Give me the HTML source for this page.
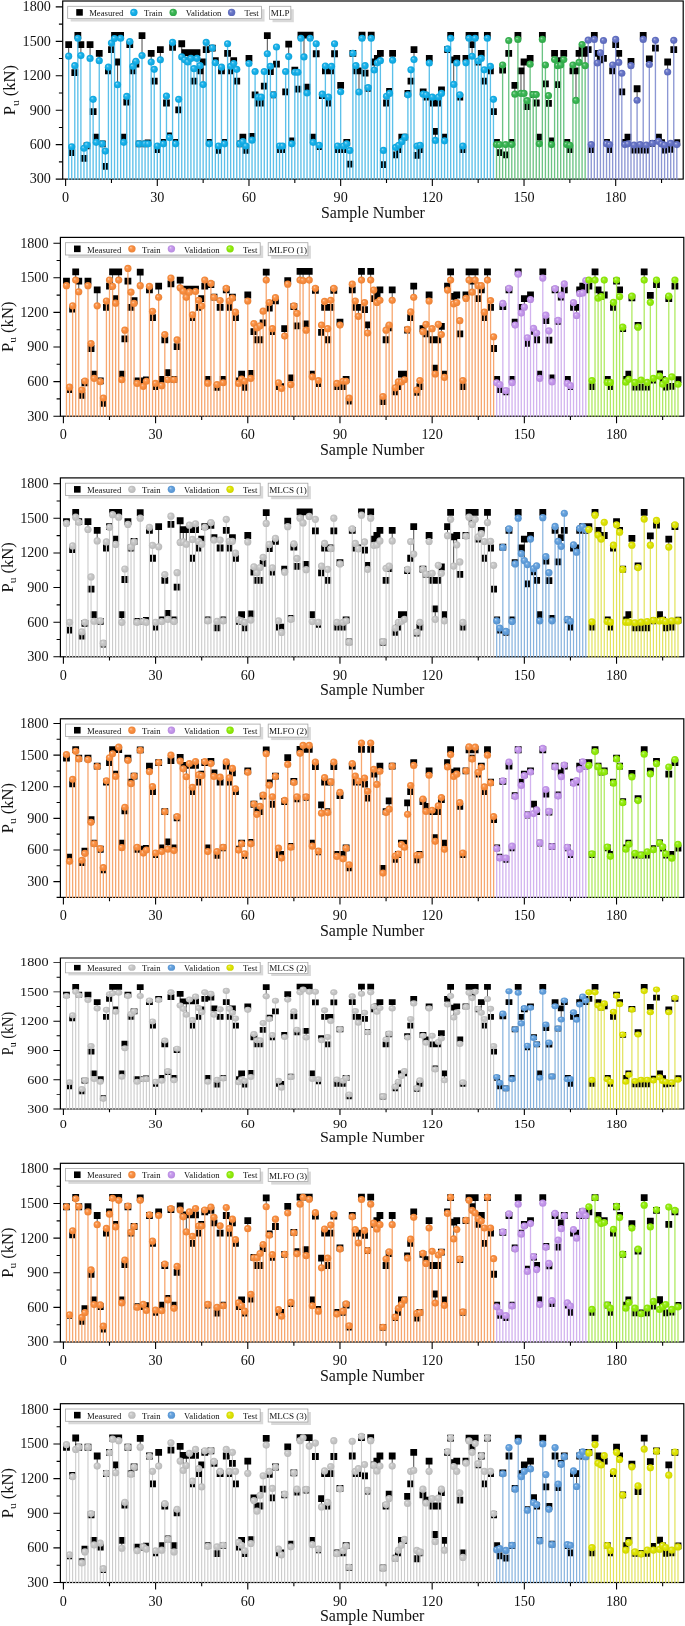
<!DOCTYPE html>
<html><head><meta charset="utf-8"><style>
html,body{margin:0;padding:0;background:#fff;}
svg{display:block;will-change:transform;}
text{font-family:"Liberation Serif",serif;fill:#111;}
</style></head><body>
<svg width="685" height="1626" viewBox="0 0 685 1626">
<defs><radialGradient id="gMLPtr" cx="0.5" cy="0.5" r="0.5" fx="0.34" fy="0.32"><stop offset="0" stop-color="#a5e0f6"/><stop offset="0.32" stop-color="#2eb7ea"/><stop offset="0.6" stop-color="#12ade7"/><stop offset="1" stop-color="#11a3d9"/></radialGradient><radialGradient id="gMLPva" cx="0.5" cy="0.5" r="0.5" fx="0.34" fy="0.32"><stop offset="0" stop-color="#b2e2bc"/><stop offset="0.32" stop-color="#4dbb64"/><stop offset="0.6" stop-color="#35b24f"/><stop offset="1" stop-color="#32a74a"/></radialGradient><radialGradient id="gMLPte" cx="0.5" cy="0.5" r="0.5" fx="0.34" fy="0.32"><stop offset="0" stop-color="#c3c9e9"/><stop offset="0.32" stop-color="#7581cb"/><stop offset="0.6" stop-color="#6270c4"/><stop offset="1" stop-color="#5c69b8"/></radialGradient><radialGradient id="gMLFOtr" cx="0.5" cy="0.5" r="0.5" fx="0.34" fy="0.32"><stop offset="0" stop-color="#fcd3b5"/><stop offset="0.32" stop-color="#f99953"/><stop offset="0.6" stop-color="#f88b3c"/><stop offset="1" stop-color="#e98338"/></radialGradient><radialGradient id="gMLFOva" cx="0.5" cy="0.5" r="0.5" fx="0.34" fy="0.32"><stop offset="0" stop-color="#e8d6f7"/><stop offset="0.32" stop-color="#c9a1ed"/><stop offset="0.6" stop-color="#c294ea"/><stop offset="1" stop-color="#b68bdc"/></radialGradient><radialGradient id="gMLFOte" cx="0.5" cy="0.5" r="0.5" fx="0.34" fy="0.32"><stop offset="0" stop-color="#d4f7a1"/><stop offset="0.32" stop-color="#9ced26"/><stop offset="0.6" stop-color="#8eea08"/><stop offset="1" stop-color="#85dc08"/></radialGradient><radialGradient id="gMLCStr" cx="0.5" cy="0.5" r="0.5" fx="0.34" fy="0.32"><stop offset="0" stop-color="#e9e9e9"/><stop offset="0.32" stop-color="#cbcbcb"/><stop offset="0.6" stop-color="#c4c4c4"/><stop offset="1" stop-color="#b8b8b8"/></radialGradient><radialGradient id="gMLCSva" cx="0.5" cy="0.5" r="0.5" fx="0.34" fy="0.32"><stop offset="0" stop-color="#c2daf1"/><stop offset="0.32" stop-color="#72a9df"/><stop offset="0.6" stop-color="#5f9ddb"/><stop offset="1" stop-color="#5994ce"/></radialGradient><radialGradient id="gMLCSte" cx="0.5" cy="0.5" r="0.5" fx="0.34" fy="0.32"><stop offset="0" stop-color="#f2f49e"/><stop offset="0.32" stop-color="#e0e51f"/><stop offset="0.6" stop-color="#dce200"/><stop offset="1" stop-color="#cfd400"/></radialGradient></defs>
<rect width="685" height="1626" fill="#fff"/>
<g transform="translate(62.7,1) scale(0.99535,0.99609)">
<rect x="0" y="0" width="623.4" height="178.8" fill="none" stroke="#000" stroke-width="1.2"/>
<path d="M6 55.37V43.73M15.21 37.39V34.51M18.29 54.79V43.73M27.5 57.67V43.73M33.64 141.92V136.73M36.71 59.86V52.48M52.06 37.62V34.51M55.13 84.06V61.24M58.2 37.39V34.51M61.27 141.92V136.73M79.69 54.79V34.85M85.83 143.42V142.5M88.9 61.24V52.48M98.11 59.05V48.8M101.18 143.42V141.92M107.32 137.08V135.35M113.46 143.42V141.92M119.6 56.17V42.92M122.67 59.05V51.79M125.74 61.24V51.79M128.82 57.67V51.79M134.96 57.67V51.79M141.1 83.95V61.24M147.24 143.42V141.92M153.38 62.05V59.86M162.59 143.42V141.92M171.8 62.74V59.86M181.01 141.23V136.73M187.15 62.74V57.67M190.22 139.73V136.04M205.57 52.95V34.85M227.06 55.83V43.26M230.13 143.42V140.42M233.2 71.5V69.31M239.35 37.39V34.16M242.42 56.17V34.16M245.49 92.36V86.6M248.56 37.39V34.16M251.63 141.92V136.73M279.26 91.09V84.76M285.4 143.42V141.92M297.68 91.32V70.12M300.75 37.39V34.16M309.96 37.39V34.16M313.03 69.31V61.24M316.1 62.05V57.67M319.17 59.86V52.48M328.38 92.82V90.63M331.45 59.4V52.48M340.66 141.23V136.73M346.81 94.21V92.82M352.95 58.82V48.8M362.16 93.51V91.32M368.3 62.28V57.67M374.44 139.96V130.86M380.58 92.82V89.13M383.65 140.42V136.73M389.79 37.39V34.62M392.86 83.72V59.05M395.93 62.28V57.67M405.14 62.05V57.67M408.21 37.39V34.62M411.28 55.48V43.73M414.35 37.39V34.62M420.49 57.67V52.48M426.63 37.39V34.62M435.84 144.11V141.92M451.19 144.11V141.92M454.27 93.51V84.76M457.34 38.54V34.62M460.41 92.82V70.12M463.48 92.82V61.24M469.62 63.43V57.67M478.83 143.42V136.73M481.9 38.54V34.62M491.11 144.11V140.42M494.18 58.82V52.48M500.32 64.24V59.86M503.39 58.82V52.48M506.46 144.11V141.92M515.67 99.85V70.12M518.74 61.7V52.48M524.88 64.93V52.48M534.09 38.54V34.62M537.16 62.28V52.48M546.37 143.42V141.92M558.65 61.7V52.48M564.8 144.11V141.92M567.87 143.42V136.73M570.94 64.93V60.55M577.08 99.62V88.1M583.22 38.54V34.62M589.36 63.78V58.13M598.57 141V136.62M601.64 143.53V142.27M607.78 71.27V61.24M616.99 144.11V142.27" stroke="#333" stroke-width="0.9" fill="none"/>
<path d="M2.6 40.33h6.8v6.8h-6.8zM5.67 148.78h6.8v6.8h-6.8zM8.74 68.45h6.8v6.8h-6.8zM11.81 31.11h6.8v6.8h-6.8zM14.89 40.33h6.8v6.8h-6.8zM17.96 154.65h6.8v6.8h-6.8zM21.03 141.98h6.8v6.8h-6.8zM24.1 40.33h6.8v6.8h-6.8zM27.17 107.75h6.8v6.8h-6.8zM30.24 133.33h6.8v6.8h-6.8zM33.31 49.08h6.8v6.8h-6.8zM36.38 140.02h6.8v6.8h-6.8zM39.45 162.61h6.8v6.8h-6.8zM42.52 66.72h6.8v6.8h-6.8zM45.59 45.4h6.8v6.8h-6.8zM48.66 31.11h6.8v6.8h-6.8zM51.73 57.84h6.8v6.8h-6.8zM54.8 31.11h6.8v6.8h-6.8zM57.87 133.33h6.8v6.8h-6.8zM60.94 98.18h6.8v6.8h-6.8zM64.01 40.33h6.8v6.8h-6.8zM67.08 66.72h6.8v6.8h-6.8zM70.15 60.03h6.8v6.8h-6.8zM73.22 140.02h6.8v6.8h-6.8zM76.29 31.45h6.8v6.8h-6.8zM79.36 140.02h6.8v6.8h-6.8zM82.43 139.1h6.8v6.8h-6.8zM85.5 49.08h6.8v6.8h-6.8zM88.57 76.98h6.8v6.8h-6.8zM91.64 145.78h6.8v6.8h-6.8zM94.71 45.4h6.8v6.8h-6.8zM97.78 138.52h6.8v6.8h-6.8zM100.85 98.99h6.8v6.8h-6.8zM103.92 131.95h6.8v6.8h-6.8zM106.99 43.21h6.8v6.8h-6.8zM110.06 138.52h6.8v6.8h-6.8zM113.13 105.79h6.8v6.8h-6.8zM116.2 39.52h6.8v6.8h-6.8zM119.27 48.39h6.8v6.8h-6.8zM122.34 48.39h6.8v6.8h-6.8zM125.42 48.39h6.8v6.8h-6.8zM128.49 76.98h6.8v6.8h-6.8zM131.56 48.39h6.8v6.8h-6.8zM134.63 66.72h6.8v6.8h-6.8zM137.7 57.84h6.8v6.8h-6.8zM140.77 45.4h6.8v6.8h-6.8zM143.84 138.52h6.8v6.8h-6.8zM146.91 44.01h6.8v6.8h-6.8zM149.98 56.46h6.8v6.8h-6.8zM153.05 146.59h6.8v6.8h-6.8zM156.12 66.72h6.8v6.8h-6.8zM159.19 138.52h6.8v6.8h-6.8zM162.26 49.08h6.8v6.8h-6.8zM165.33 66.72h6.8v6.8h-6.8zM168.4 56.46h6.8v6.8h-6.8zM171.47 76.98h6.8v6.8h-6.8zM174.54 140.02h6.8v6.8h-6.8zM177.61 133.33h6.8v6.8h-6.8zM180.68 146.59h6.8v6.8h-6.8zM183.75 54.27h6.8v6.8h-6.8zM186.82 132.64h6.8v6.8h-6.8zM189.89 90.81h6.8v6.8h-6.8zM192.96 98.99h6.8v6.8h-6.8zM196.03 98.99h6.8v6.8h-6.8zM199.1 82.05h6.8v6.8h-6.8zM202.17 31.45h6.8v6.8h-6.8zM205.24 67.41h6.8v6.8h-6.8zM208.31 90.81h6.8v6.8h-6.8zM211.38 60.03h6.8v6.8h-6.8zM214.45 145.78h6.8v6.8h-6.8zM217.52 145.78h6.8v6.8h-6.8zM220.59 87.92h6.8v6.8h-6.8zM223.66 39.86h6.8v6.8h-6.8zM226.73 137.02h6.8v6.8h-6.8zM229.8 65.91h6.8v6.8h-6.8zM232.88 85.04h6.8v6.8h-6.8zM235.95 30.76h6.8v6.8h-6.8zM239.02 30.76h6.8v6.8h-6.8zM242.09 83.2h6.8v6.8h-6.8zM245.16 30.76h6.8v6.8h-6.8zM248.23 133.33h6.8v6.8h-6.8zM251.3 49.55h6.8v6.8h-6.8zM254.37 142.9h6.8v6.8h-6.8zM257.44 91.61h6.8v6.8h-6.8zM260.51 66.72h6.8v6.8h-6.8zM263.58 98.99h6.8v6.8h-6.8zM266.65 66.72h6.8v6.8h-6.8zM269.72 49.55h6.8v6.8h-6.8zM272.79 145.78h6.8v6.8h-6.8zM275.86 81.36h6.8v6.8h-6.8zM278.93 145.78h6.8v6.8h-6.8zM282 138.52h6.8v6.8h-6.8zM285.07 160.42h6.8v6.8h-6.8zM288.14 49.08h6.8v6.8h-6.8zM291.21 66.72h6.8v6.8h-6.8zM294.28 66.72h6.8v6.8h-6.8zM297.35 30.76h6.8v6.8h-6.8zM300.42 68.91h6.8v6.8h-6.8zM303.49 84.24h6.8v6.8h-6.8zM306.56 30.76h6.8v6.8h-6.8zM309.63 57.84h6.8v6.8h-6.8zM312.7 54.27h6.8v6.8h-6.8zM315.77 49.08h6.8v6.8h-6.8zM318.84 160.88h6.8v6.8h-6.8zM321.91 98.99h6.8v6.8h-6.8zM324.98 87.23h6.8v6.8h-6.8zM328.05 49.08h6.8v6.8h-6.8zM331.12 150.97h6.8v6.8h-6.8zM334.19 145.78h6.8v6.8h-6.8zM337.26 133.33h6.8v6.8h-6.8zM340.34 133.33h6.8v6.8h-6.8zM343.41 89.42h6.8v6.8h-6.8zM346.48 76.98h6.8v6.8h-6.8zM349.55 45.4h6.8v6.8h-6.8zM352.62 151.66h6.8v6.8h-6.8zM355.69 145.78h6.8v6.8h-6.8zM358.76 87.92h6.8v6.8h-6.8zM361.83 93.11h6.8v6.8h-6.8zM364.9 54.27h6.8v6.8h-6.8zM367.97 98.99h6.8v6.8h-6.8zM371.04 127.46h6.8v6.8h-6.8zM374.11 98.99h6.8v6.8h-6.8zM377.18 85.73h6.8v6.8h-6.8zM380.25 133.33h6.8v6.8h-6.8zM383.32 45.4h6.8v6.8h-6.8zM386.39 31.22h6.8v6.8h-6.8zM389.46 55.65h6.8v6.8h-6.8zM392.53 54.27h6.8v6.8h-6.8zM395.6 93.11h6.8v6.8h-6.8zM398.67 145.78h6.8v6.8h-6.8zM401.74 54.27h6.8v6.8h-6.8zM404.81 31.22h6.8v6.8h-6.8zM407.88 40.33h6.8v6.8h-6.8zM410.95 31.22h6.8v6.8h-6.8zM414.02 57.84h6.8v6.8h-6.8zM417.09 49.08h6.8v6.8h-6.8zM420.16 76.98h6.8v6.8h-6.8zM423.23 31.22h6.8v6.8h-6.8zM426.3 66.72h6.8v6.8h-6.8zM429.37 107.75h6.8v6.8h-6.8zM432.44 138.52h6.8v6.8h-6.8zM435.51 148.78h6.8v6.8h-6.8zM438.58 65.91h6.8v6.8h-6.8zM441.65 150.97h6.8v6.8h-6.8zM444.72 49.08h6.8v6.8h-6.8zM447.79 138.52h6.8v6.8h-6.8zM450.87 81.36h6.8v6.8h-6.8zM453.94 31.22h6.8v6.8h-6.8zM457.01 66.72h6.8v6.8h-6.8zM460.08 57.84h6.8v6.8h-6.8zM463.15 102.56h6.8v6.8h-6.8zM466.22 54.27h6.8v6.8h-6.8zM469.29 90.58h6.8v6.8h-6.8zM472.36 98.99h6.8v6.8h-6.8zM475.43 133.33h6.8v6.8h-6.8zM478.5 31.22h6.8v6.8h-6.8zM481.57 79.86h6.8v6.8h-6.8zM484.64 99.33h6.8v6.8h-6.8zM487.71 137.02h6.8v6.8h-6.8zM490.78 49.08h6.8v6.8h-6.8zM493.85 80.55h6.8v6.8h-6.8zM496.92 56.46h6.8v6.8h-6.8zM499.99 49.08h6.8v6.8h-6.8zM503.06 138.52h6.8v6.8h-6.8zM506.13 145.78h6.8v6.8h-6.8zM509.2 66.72h6.8v6.8h-6.8zM512.27 66.72h6.8v6.8h-6.8zM515.34 49.08h6.8v6.8h-6.8zM518.41 45.4h6.8v6.8h-6.8zM521.48 49.08h6.8v6.8h-6.8zM524.55 45.4h6.8v6.8h-6.8zM527.62 145.78h6.8v6.8h-6.8zM530.69 31.22h6.8v6.8h-6.8zM533.76 49.08h6.8v6.8h-6.8zM536.83 55.65h6.8v6.8h-6.8zM539.9 54.27h6.8v6.8h-6.8zM542.97 138.52h6.8v6.8h-6.8zM546.04 145.78h6.8v6.8h-6.8zM549.11 66.72h6.8v6.8h-6.8zM552.18 40.33h6.8v6.8h-6.8zM555.25 49.08h6.8v6.8h-6.8zM558.33 87.92h6.8v6.8h-6.8zM561.4 138.52h6.8v6.8h-6.8zM564.47 133.33h6.8v6.8h-6.8zM567.54 57.15h6.8v6.8h-6.8zM570.61 146.36h6.8v6.8h-6.8zM573.68 84.7h6.8v6.8h-6.8zM576.75 146.36h6.8v6.8h-6.8zM579.82 31.22h6.8v6.8h-6.8zM582.89 146.36h6.8v6.8h-6.8zM585.96 54.73h6.8v6.8h-6.8zM589.03 139.44h6.8v6.8h-6.8zM592.1 43.9h6.8v6.8h-6.8zM595.17 133.22h6.8v6.8h-6.8zM598.24 138.87h6.8v6.8h-6.8zM601.31 146.36h6.8v6.8h-6.8zM604.38 57.84h6.8v6.8h-6.8zM607.45 145.67h6.8v6.8h-6.8zM610.52 45.4h6.8v6.8h-6.8zM613.59 138.87h6.8v6.8h-6.8z" fill="#000"/>
<path d="M6 179.4V55.37M9.07 179.4V146.3M12.14 179.4V64.93M15.21 179.4V37.39M18.29 179.4V54.79M21.36 179.4V147.8M24.43 179.4V144.57M27.5 179.4V57.67M30.57 179.4V98.7M33.64 179.4V141.92M36.71 179.4V59.86M39.78 179.4V143.42M42.85 179.4V150.68M45.92 179.4V66.43M48.99 179.4V42.23M52.06 179.4V37.62M55.13 179.4V84.06M58.2 179.4V37.39M61.27 179.4V141.92M64.34 179.4V95.82M67.41 179.4V40.73M70.48 179.4V65.62M73.55 179.4V60.55M76.62 179.4V143.42M79.69 179.4V54.79M82.76 179.4V143.42M85.83 179.4V143.42M88.9 179.4V61.24M91.97 179.4V68.62M95.04 179.4V145.61M98.11 179.4V59.05M101.18 179.4V143.42M104.25 179.4V95.47M107.32 179.4V137.08M110.39 179.4V41.54M113.46 179.4V143.42M116.53 179.4V98.7M119.6 179.4V56.17M122.67 179.4V59.05M125.74 179.4V61.24M128.82 179.4V57.67M131.89 179.4V67.93M134.96 179.4V57.67M138.03 179.4V64.93M141.1 179.4V83.95M144.17 179.4V41.54M147.24 179.4V143.42M150.31 179.4V47.07M153.38 179.4V62.05M156.45 179.4V145.61M159.52 179.4V66.43M162.59 179.4V143.42M165.66 179.4V42.92M168.73 179.4V65.62M171.8 179.4V62.74M174.87 179.4V68.62M177.94 179.4V143.42M181.01 179.4V141.23M184.08 179.4V145.61M187.15 179.4V62.74M190.22 179.4V139.73M193.29 179.4V70.81M196.36 179.4V96.51M199.43 179.4V96.51M202.5 179.4V70.81M205.57 179.4V52.95M208.64 179.4V65.62M211.71 179.4V94.21M214.78 179.4V46.15M217.85 179.4V145.61M220.92 179.4V145.61M223.99 179.4V70.81M227.06 179.4V55.83M230.13 179.4V143.42M233.2 179.4V71.5M236.28 179.4V71.5M239.35 179.4V37.39M242.42 179.4V56.17M245.49 179.4V92.36M248.56 179.4V37.39M251.63 179.4V141.92M254.7 179.4V42.92M257.77 179.4V144.8M260.84 179.4V93.51M263.91 179.4V65.28M266.98 179.4V96.51M270.05 179.4V65.62M273.12 179.4V42.92M276.19 179.4V145.61M279.26 179.4V91.09M282.33 179.4V145.61M285.4 179.4V143.42M288.47 179.4V149.99M291.54 179.4V52.48M294.61 179.4V64.93M297.68 179.4V91.32M300.75 179.4V37.39M303.82 179.4V64.93M306.89 179.4V86.94M309.96 179.4V37.39M313.03 179.4V69.31M316.1 179.4V62.05M319.17 179.4V59.86M322.24 179.4V149.99M325.31 179.4V95.7M328.38 179.4V92.82M331.45 179.4V59.4M334.52 179.4V146.99M337.59 179.4V144.8M340.66 179.4V141.23M343.74 179.4V136.73M346.81 179.4V94.21M349.88 179.4V69.08M352.95 179.4V58.82M356.02 179.4V145.61M359.09 179.4V144.8M362.16 179.4V93.51M365.23 179.4V94.21M368.3 179.4V62.28M371.37 179.4V96.51M374.44 179.4V139.96M377.51 179.4V96.51M380.58 179.4V92.82M383.65 179.4V140.42M386.72 179.4V48.11M389.79 179.4V37.39M392.86 179.4V83.72M395.93 179.4V62.28M399 179.4V94.21M402.07 179.4V145.61M405.14 179.4V62.05M408.21 179.4V37.39M411.28 179.4V55.48M414.35 179.4V37.39M417.42 179.4V60.21M420.49 179.4V57.67M423.56 179.4V69.08M426.63 179.4V37.39M429.7 179.4V65.62M432.77 179.4V98.7" stroke="#5cc0ea" stroke-width="1.35" fill="none"/>
<path d="M435.84 179.4V144.11M438.91 179.4V144.11M441.98 179.4V64.24M445.05 179.4V144.11M448.12 179.4V39.69M451.19 179.4V144.11M454.27 179.4V93.51M457.34 179.4V38.54M460.41 179.4V92.82M463.48 179.4V92.82M466.55 179.4V100.08M469.62 179.4V63.43M472.69 179.4V93.98M475.76 179.4V93.98M478.83 179.4V143.42M481.9 179.4V38.54M484.97 179.4V64.24M488.04 179.4V95.01M491.11 179.4V144.11M494.18 179.4V58.82M497.25 179.4V64.93M500.32 179.4V64.24M503.39 179.4V58.82M506.46 179.4V144.11M509.53 179.4V144.8M512.6 179.4V64.24M515.67 179.4V99.85M518.74 179.4V61.7M521.81 179.4V43.73M524.88 179.4V64.93" stroke="#6cc484" stroke-width="1.35" fill="none"/>
<path d="M527.95 179.4V39.35M531.02 179.4V144.11M534.09 179.4V38.54M537.16 179.4V62.28M540.23 179.4V52.02M543.3 179.4V39.69M546.37 179.4V143.42M549.44 179.4V144.11M552.51 179.4V64.24M555.58 179.4V38.54M558.65 179.4V61.7M561.73 179.4V72.54M564.8 179.4V144.11M567.87 179.4V143.42M570.94 179.4V64.93M574.01 179.4V144.69M577.08 179.4V99.62M580.15 179.4V144.11M583.22 179.4V38.54M586.29 179.4V144.69M589.36 179.4V63.78M592.43 179.4V142.84M595.5 179.4V39.46M598.57 179.4V141M601.64 179.4V143.53M604.71 179.4V144.69M607.78 179.4V71.27M610.85 179.4V142.84M613.92 179.4V39.46M616.99 179.4V144.11" stroke="#8c97d4" stroke-width="1.35" fill="none"/>
<circle cx="6" cy="55.37" r="3.6" fill="url(#gMLPtr)"/>
<circle cx="9.07" cy="146.3" r="3.6" fill="url(#gMLPtr)"/>
<circle cx="12.14" cy="64.93" r="3.6" fill="url(#gMLPtr)"/>
<circle cx="15.21" cy="37.39" r="3.6" fill="url(#gMLPtr)"/>
<circle cx="18.29" cy="54.79" r="3.6" fill="url(#gMLPtr)"/>
<circle cx="21.36" cy="147.8" r="3.6" fill="url(#gMLPtr)"/>
<circle cx="24.43" cy="144.57" r="3.6" fill="url(#gMLPtr)"/>
<circle cx="27.5" cy="57.67" r="3.6" fill="url(#gMLPtr)"/>
<circle cx="30.57" cy="98.7" r="3.6" fill="url(#gMLPtr)"/>
<circle cx="33.64" cy="141.92" r="3.6" fill="url(#gMLPtr)"/>
<circle cx="36.71" cy="59.86" r="3.6" fill="url(#gMLPtr)"/>
<circle cx="39.78" cy="143.42" r="3.6" fill="url(#gMLPtr)"/>
<circle cx="42.85" cy="150.68" r="3.6" fill="url(#gMLPtr)"/>
<circle cx="45.92" cy="66.43" r="3.6" fill="url(#gMLPtr)"/>
<circle cx="48.99" cy="42.23" r="3.6" fill="url(#gMLPtr)"/>
<circle cx="52.06" cy="37.62" r="3.6" fill="url(#gMLPtr)"/>
<circle cx="55.13" cy="84.06" r="3.6" fill="url(#gMLPtr)"/>
<circle cx="58.2" cy="37.39" r="3.6" fill="url(#gMLPtr)"/>
<circle cx="61.27" cy="141.92" r="3.6" fill="url(#gMLPtr)"/>
<circle cx="64.34" cy="95.82" r="3.6" fill="url(#gMLPtr)"/>
<circle cx="67.41" cy="40.73" r="3.6" fill="url(#gMLPtr)"/>
<circle cx="70.48" cy="65.62" r="3.6" fill="url(#gMLPtr)"/>
<circle cx="73.55" cy="60.55" r="3.6" fill="url(#gMLPtr)"/>
<circle cx="76.62" cy="143.42" r="3.6" fill="url(#gMLPtr)"/>
<circle cx="79.69" cy="54.79" r="3.6" fill="url(#gMLPtr)"/>
<circle cx="82.76" cy="143.42" r="3.6" fill="url(#gMLPtr)"/>
<circle cx="85.83" cy="143.42" r="3.6" fill="url(#gMLPtr)"/>
<circle cx="88.9" cy="61.24" r="3.6" fill="url(#gMLPtr)"/>
<circle cx="91.97" cy="68.62" r="3.6" fill="url(#gMLPtr)"/>
<circle cx="95.04" cy="145.61" r="3.6" fill="url(#gMLPtr)"/>
<circle cx="98.11" cy="59.05" r="3.6" fill="url(#gMLPtr)"/>
<circle cx="101.18" cy="143.42" r="3.6" fill="url(#gMLPtr)"/>
<circle cx="104.25" cy="95.47" r="3.6" fill="url(#gMLPtr)"/>
<circle cx="107.32" cy="137.08" r="3.6" fill="url(#gMLPtr)"/>
<circle cx="110.39" cy="41.54" r="3.6" fill="url(#gMLPtr)"/>
<circle cx="113.46" cy="143.42" r="3.6" fill="url(#gMLPtr)"/>
<circle cx="116.53" cy="98.7" r="3.6" fill="url(#gMLPtr)"/>
<circle cx="119.6" cy="56.17" r="3.6" fill="url(#gMLPtr)"/>
<circle cx="122.67" cy="59.05" r="3.6" fill="url(#gMLPtr)"/>
<circle cx="125.74" cy="61.24" r="3.6" fill="url(#gMLPtr)"/>
<circle cx="128.82" cy="57.67" r="3.6" fill="url(#gMLPtr)"/>
<circle cx="131.89" cy="67.93" r="3.6" fill="url(#gMLPtr)"/>
<circle cx="134.96" cy="57.67" r="3.6" fill="url(#gMLPtr)"/>
<circle cx="138.03" cy="64.93" r="3.6" fill="url(#gMLPtr)"/>
<circle cx="141.1" cy="83.95" r="3.6" fill="url(#gMLPtr)"/>
<circle cx="144.17" cy="41.54" r="3.6" fill="url(#gMLPtr)"/>
<circle cx="147.24" cy="143.42" r="3.6" fill="url(#gMLPtr)"/>
<circle cx="150.31" cy="47.07" r="3.6" fill="url(#gMLPtr)"/>
<circle cx="153.38" cy="62.05" r="3.6" fill="url(#gMLPtr)"/>
<circle cx="156.45" cy="145.61" r="3.6" fill="url(#gMLPtr)"/>
<circle cx="159.52" cy="66.43" r="3.6" fill="url(#gMLPtr)"/>
<circle cx="162.59" cy="143.42" r="3.6" fill="url(#gMLPtr)"/>
<circle cx="165.66" cy="42.92" r="3.6" fill="url(#gMLPtr)"/>
<circle cx="168.73" cy="65.62" r="3.6" fill="url(#gMLPtr)"/>
<circle cx="171.8" cy="62.74" r="3.6" fill="url(#gMLPtr)"/>
<circle cx="174.87" cy="68.62" r="3.6" fill="url(#gMLPtr)"/>
<circle cx="177.94" cy="143.42" r="3.6" fill="url(#gMLPtr)"/>
<circle cx="181.01" cy="141.23" r="3.6" fill="url(#gMLPtr)"/>
<circle cx="184.08" cy="145.61" r="3.6" fill="url(#gMLPtr)"/>
<circle cx="187.15" cy="62.74" r="3.6" fill="url(#gMLPtr)"/>
<circle cx="190.22" cy="139.73" r="3.6" fill="url(#gMLPtr)"/>
<circle cx="193.29" cy="70.81" r="3.6" fill="url(#gMLPtr)"/>
<circle cx="196.36" cy="96.51" r="3.6" fill="url(#gMLPtr)"/>
<circle cx="199.43" cy="96.51" r="3.6" fill="url(#gMLPtr)"/>
<circle cx="202.5" cy="70.81" r="3.6" fill="url(#gMLPtr)"/>
<circle cx="205.57" cy="52.95" r="3.6" fill="url(#gMLPtr)"/>
<circle cx="208.64" cy="65.62" r="3.6" fill="url(#gMLPtr)"/>
<circle cx="211.71" cy="94.21" r="3.6" fill="url(#gMLPtr)"/>
<circle cx="214.78" cy="46.15" r="3.6" fill="url(#gMLPtr)"/>
<circle cx="217.85" cy="145.61" r="3.6" fill="url(#gMLPtr)"/>
<circle cx="220.92" cy="145.61" r="3.6" fill="url(#gMLPtr)"/>
<circle cx="223.99" cy="70.81" r="3.6" fill="url(#gMLPtr)"/>
<circle cx="227.06" cy="55.83" r="3.6" fill="url(#gMLPtr)"/>
<circle cx="230.13" cy="143.42" r="3.6" fill="url(#gMLPtr)"/>
<circle cx="233.2" cy="71.5" r="3.6" fill="url(#gMLPtr)"/>
<circle cx="236.28" cy="71.5" r="3.6" fill="url(#gMLPtr)"/>
<circle cx="239.35" cy="37.39" r="3.6" fill="url(#gMLPtr)"/>
<circle cx="242.42" cy="56.17" r="3.6" fill="url(#gMLPtr)"/>
<circle cx="245.49" cy="92.36" r="3.6" fill="url(#gMLPtr)"/>
<circle cx="248.56" cy="37.39" r="3.6" fill="url(#gMLPtr)"/>
<circle cx="251.63" cy="141.92" r="3.6" fill="url(#gMLPtr)"/>
<circle cx="254.7" cy="42.92" r="3.6" fill="url(#gMLPtr)"/>
<circle cx="257.77" cy="144.8" r="3.6" fill="url(#gMLPtr)"/>
<circle cx="260.84" cy="93.51" r="3.6" fill="url(#gMLPtr)"/>
<circle cx="263.91" cy="65.28" r="3.6" fill="url(#gMLPtr)"/>
<circle cx="266.98" cy="96.51" r="3.6" fill="url(#gMLPtr)"/>
<circle cx="270.05" cy="65.62" r="3.6" fill="url(#gMLPtr)"/>
<circle cx="273.12" cy="42.92" r="3.6" fill="url(#gMLPtr)"/>
<circle cx="276.19" cy="145.61" r="3.6" fill="url(#gMLPtr)"/>
<circle cx="279.26" cy="91.09" r="3.6" fill="url(#gMLPtr)"/>
<circle cx="282.33" cy="145.61" r="3.6" fill="url(#gMLPtr)"/>
<circle cx="285.4" cy="143.42" r="3.6" fill="url(#gMLPtr)"/>
<circle cx="288.47" cy="149.99" r="3.6" fill="url(#gMLPtr)"/>
<circle cx="291.54" cy="52.48" r="3.6" fill="url(#gMLPtr)"/>
<circle cx="294.61" cy="64.93" r="3.6" fill="url(#gMLPtr)"/>
<circle cx="297.68" cy="91.32" r="3.6" fill="url(#gMLPtr)"/>
<circle cx="300.75" cy="37.39" r="3.6" fill="url(#gMLPtr)"/>
<circle cx="303.82" cy="64.93" r="3.6" fill="url(#gMLPtr)"/>
<circle cx="306.89" cy="86.94" r="3.6" fill="url(#gMLPtr)"/>
<circle cx="309.96" cy="37.39" r="3.6" fill="url(#gMLPtr)"/>
<circle cx="313.03" cy="69.31" r="3.6" fill="url(#gMLPtr)"/>
<circle cx="316.1" cy="62.05" r="3.6" fill="url(#gMLPtr)"/>
<circle cx="319.17" cy="59.86" r="3.6" fill="url(#gMLPtr)"/>
<circle cx="322.24" cy="149.99" r="3.6" fill="url(#gMLPtr)"/>
<circle cx="325.31" cy="95.7" r="3.6" fill="url(#gMLPtr)"/>
<circle cx="328.38" cy="92.82" r="3.6" fill="url(#gMLPtr)"/>
<circle cx="331.45" cy="59.4" r="3.6" fill="url(#gMLPtr)"/>
<circle cx="334.52" cy="146.99" r="3.6" fill="url(#gMLPtr)"/>
<circle cx="337.59" cy="144.8" r="3.6" fill="url(#gMLPtr)"/>
<circle cx="340.66" cy="141.23" r="3.6" fill="url(#gMLPtr)"/>
<circle cx="343.74" cy="136.73" r="3.6" fill="url(#gMLPtr)"/>
<circle cx="346.81" cy="94.21" r="3.6" fill="url(#gMLPtr)"/>
<circle cx="349.88" cy="69.08" r="3.6" fill="url(#gMLPtr)"/>
<circle cx="352.95" cy="58.82" r="3.6" fill="url(#gMLPtr)"/>
<circle cx="356.02" cy="145.61" r="3.6" fill="url(#gMLPtr)"/>
<circle cx="359.09" cy="144.8" r="3.6" fill="url(#gMLPtr)"/>
<circle cx="362.16" cy="93.51" r="3.6" fill="url(#gMLPtr)"/>
<circle cx="365.23" cy="94.21" r="3.6" fill="url(#gMLPtr)"/>
<circle cx="368.3" cy="62.28" r="3.6" fill="url(#gMLPtr)"/>
<circle cx="371.37" cy="96.51" r="3.6" fill="url(#gMLPtr)"/>
<circle cx="374.44" cy="139.96" r="3.6" fill="url(#gMLPtr)"/>
<circle cx="377.51" cy="96.51" r="3.6" fill="url(#gMLPtr)"/>
<circle cx="380.58" cy="92.82" r="3.6" fill="url(#gMLPtr)"/>
<circle cx="383.65" cy="140.42" r="3.6" fill="url(#gMLPtr)"/>
<circle cx="386.72" cy="48.11" r="3.6" fill="url(#gMLPtr)"/>
<circle cx="389.79" cy="37.39" r="3.6" fill="url(#gMLPtr)"/>
<circle cx="392.86" cy="83.72" r="3.6" fill="url(#gMLPtr)"/>
<circle cx="395.93" cy="62.28" r="3.6" fill="url(#gMLPtr)"/>
<circle cx="399" cy="94.21" r="3.6" fill="url(#gMLPtr)"/>
<circle cx="402.07" cy="145.61" r="3.6" fill="url(#gMLPtr)"/>
<circle cx="405.14" cy="62.05" r="3.6" fill="url(#gMLPtr)"/>
<circle cx="408.21" cy="37.39" r="3.6" fill="url(#gMLPtr)"/>
<circle cx="411.28" cy="55.48" r="3.6" fill="url(#gMLPtr)"/>
<circle cx="414.35" cy="37.39" r="3.6" fill="url(#gMLPtr)"/>
<circle cx="417.42" cy="60.21" r="3.6" fill="url(#gMLPtr)"/>
<circle cx="420.49" cy="57.67" r="3.6" fill="url(#gMLPtr)"/>
<circle cx="423.56" cy="69.08" r="3.6" fill="url(#gMLPtr)"/>
<circle cx="426.63" cy="37.39" r="3.6" fill="url(#gMLPtr)"/>
<circle cx="429.7" cy="65.62" r="3.6" fill="url(#gMLPtr)"/>
<circle cx="432.77" cy="98.7" r="3.6" fill="url(#gMLPtr)"/>
<circle cx="435.84" cy="144.11" r="3.6" fill="url(#gMLPva)"/>
<circle cx="438.91" cy="144.11" r="3.6" fill="url(#gMLPva)"/>
<circle cx="441.98" cy="64.24" r="3.6" fill="url(#gMLPva)"/>
<circle cx="445.05" cy="144.11" r="3.6" fill="url(#gMLPva)"/>
<circle cx="448.12" cy="39.69" r="3.6" fill="url(#gMLPva)"/>
<circle cx="451.19" cy="144.11" r="3.6" fill="url(#gMLPva)"/>
<circle cx="454.27" cy="93.51" r="3.6" fill="url(#gMLPva)"/>
<circle cx="457.34" cy="38.54" r="3.6" fill="url(#gMLPva)"/>
<circle cx="460.41" cy="92.82" r="3.6" fill="url(#gMLPva)"/>
<circle cx="463.48" cy="92.82" r="3.6" fill="url(#gMLPva)"/>
<circle cx="466.55" cy="100.08" r="3.6" fill="url(#gMLPva)"/>
<circle cx="469.62" cy="63.43" r="3.6" fill="url(#gMLPva)"/>
<circle cx="472.69" cy="93.98" r="3.6" fill="url(#gMLPva)"/>
<circle cx="475.76" cy="93.98" r="3.6" fill="url(#gMLPva)"/>
<circle cx="478.83" cy="143.42" r="3.6" fill="url(#gMLPva)"/>
<circle cx="481.9" cy="38.54" r="3.6" fill="url(#gMLPva)"/>
<circle cx="484.97" cy="64.24" r="3.6" fill="url(#gMLPva)"/>
<circle cx="488.04" cy="95.01" r="3.6" fill="url(#gMLPva)"/>
<circle cx="491.11" cy="144.11" r="3.6" fill="url(#gMLPva)"/>
<circle cx="494.18" cy="58.82" r="3.6" fill="url(#gMLPva)"/>
<circle cx="497.25" cy="64.93" r="3.6" fill="url(#gMLPva)"/>
<circle cx="500.32" cy="64.24" r="3.6" fill="url(#gMLPva)"/>
<circle cx="503.39" cy="58.82" r="3.6" fill="url(#gMLPva)"/>
<circle cx="506.46" cy="144.11" r="3.6" fill="url(#gMLPva)"/>
<circle cx="509.53" cy="144.8" r="3.6" fill="url(#gMLPva)"/>
<circle cx="512.6" cy="64.24" r="3.6" fill="url(#gMLPva)"/>
<circle cx="515.67" cy="99.85" r="3.6" fill="url(#gMLPva)"/>
<circle cx="518.74" cy="61.7" r="3.6" fill="url(#gMLPva)"/>
<circle cx="521.81" cy="43.73" r="3.6" fill="url(#gMLPva)"/>
<circle cx="524.88" cy="64.93" r="3.6" fill="url(#gMLPva)"/>
<circle cx="527.95" cy="39.35" r="3.6" fill="url(#gMLPte)"/>
<circle cx="531.02" cy="144.11" r="3.6" fill="url(#gMLPte)"/>
<circle cx="534.09" cy="38.54" r="3.6" fill="url(#gMLPte)"/>
<circle cx="537.16" cy="62.28" r="3.6" fill="url(#gMLPte)"/>
<circle cx="540.23" cy="52.02" r="3.6" fill="url(#gMLPte)"/>
<circle cx="543.3" cy="39.69" r="3.6" fill="url(#gMLPte)"/>
<circle cx="546.37" cy="143.42" r="3.6" fill="url(#gMLPte)"/>
<circle cx="549.44" cy="144.11" r="3.6" fill="url(#gMLPte)"/>
<circle cx="552.51" cy="64.24" r="3.6" fill="url(#gMLPte)"/>
<circle cx="555.58" cy="38.54" r="3.6" fill="url(#gMLPte)"/>
<circle cx="558.65" cy="61.7" r="3.6" fill="url(#gMLPte)"/>
<circle cx="561.73" cy="72.54" r="3.6" fill="url(#gMLPte)"/>
<circle cx="564.8" cy="144.11" r="3.6" fill="url(#gMLPte)"/>
<circle cx="567.87" cy="143.42" r="3.6" fill="url(#gMLPte)"/>
<circle cx="570.94" cy="64.93" r="3.6" fill="url(#gMLPte)"/>
<circle cx="574.01" cy="144.69" r="3.6" fill="url(#gMLPte)"/>
<circle cx="577.08" cy="99.62" r="3.6" fill="url(#gMLPte)"/>
<circle cx="580.15" cy="144.11" r="3.6" fill="url(#gMLPte)"/>
<circle cx="583.22" cy="38.54" r="3.6" fill="url(#gMLPte)"/>
<circle cx="586.29" cy="144.69" r="3.6" fill="url(#gMLPte)"/>
<circle cx="589.36" cy="63.78" r="3.6" fill="url(#gMLPte)"/>
<circle cx="592.43" cy="142.84" r="3.6" fill="url(#gMLPte)"/>
<circle cx="595.5" cy="39.46" r="3.6" fill="url(#gMLPte)"/>
<circle cx="598.57" cy="141" r="3.6" fill="url(#gMLPte)"/>
<circle cx="601.64" cy="143.53" r="3.6" fill="url(#gMLPte)"/>
<circle cx="604.71" cy="144.69" r="3.6" fill="url(#gMLPte)"/>
<circle cx="607.78" cy="71.27" r="3.6" fill="url(#gMLPte)"/>
<circle cx="610.85" cy="142.84" r="3.6" fill="url(#gMLPte)"/>
<circle cx="613.92" cy="39.46" r="3.6" fill="url(#gMLPte)"/>
<circle cx="616.99" cy="144.11" r="3.6" fill="url(#gMLPte)"/>
<path d="M-7.0 5.92H0M-3.8 23.21H0M-7.0 40.5H0M-3.8 57.79H0M-7.0 75.07H0M-3.8 92.36H0M-7.0 109.65H0M-3.8 126.94H0M-7.0 144.22H0M-3.8 161.51H0M-7.0 178.8H0M2.93 178.8v7.0M48.99 178.8v3.8M95.04 178.8v7.0M141.1 178.8v3.8M187.15 178.8v7.0M233.2 178.8v3.8M279.26 178.8v7.0M325.31 178.8v3.8M371.37 178.8v7.0M417.42 178.8v3.8M463.48 178.8v7.0M509.53 178.8v3.8M555.58 178.8v7.0M601.64 178.8v3.8" stroke="#000" stroke-width="1.1" fill="none"/>
<rect x="8.0" y="8.3" width="194.8" height="12.3" fill="#d9d9d9"/>
<rect x="5.0" y="5.3" width="194.8" height="12.3" fill="#fff" stroke="#a6a6a6" stroke-width="0.8"/>
<rect x="13.6" y="8.15" width="6.6" height="6.6" fill="#000"/>
<text x="26.6" y="15.15" font-size="8.7">Measured</text>
<circle cx="71.5" cy="11.45" r="3.7" fill="url(#gMLPtr)"/>
<text x="81.6" y="15.15" font-size="8.7">Train</text>
<circle cx="111.0" cy="11.45" r="3.7" fill="url(#gMLPva)"/>
<text x="123.6" y="15.15" font-size="8.7">Validation</text>
<circle cx="169.7" cy="11.45" r="3.7" fill="url(#gMLPte)"/>
<text x="182.6" y="15.15" font-size="8.7">Test</text>
<rect x="210.8" y="8.3" width="21.4" height="13.0" fill="#d9d9d9"/>
<rect x="207.8" y="5.3" width="21.4" height="13.0" fill="#fff" stroke="#a6a6a6" stroke-width="0.8"/>
<text x="218.5" y="15.25" text-anchor="middle" font-size="9.1">MLP</text>
</g>
<g transform="translate(62.7,1) scale(0.99535,1)">
<text transform="translate(-11.9,10.28) scale(1,0.9961)" text-anchor="end" font-size="14.2">1800</text>
<text transform="translate(-11.9,44.72) scale(1,0.9961)" text-anchor="end" font-size="14.2">1500</text>
<text transform="translate(-11.9,79.16) scale(1,0.9961)" text-anchor="end" font-size="14.2">1200</text>
<text transform="translate(-11.9,113.6) scale(1,0.9961)" text-anchor="end" font-size="14.2">900</text>
<text transform="translate(-11.9,148.04) scale(1,0.9961)" text-anchor="end" font-size="14.2">600</text>
<text transform="translate(-11.9,182.48) scale(1,0.9961)" text-anchor="end" font-size="14.2">300</text>
<text transform="translate(2.93,201.01) scale(1,0.9961)" text-anchor="middle" font-size="14.2">0</text>
<text transform="translate(95.04,201.01) scale(1,0.9961)" text-anchor="middle" font-size="14.2">30</text>
<text transform="translate(187.15,201.01) scale(1,0.9961)" text-anchor="middle" font-size="14.2">60</text>
<text transform="translate(279.26,201.01) scale(1,0.9961)" text-anchor="middle" font-size="14.2">90</text>
<text transform="translate(371.37,201.01) scale(1,0.9961)" text-anchor="middle" font-size="14.2">120</text>
<text transform="translate(463.48,201.01) scale(1,0.9961)" text-anchor="middle" font-size="14.2">150</text>
<text transform="translate(555.58,201.01) scale(1,0.9961)" text-anchor="middle" font-size="14.2">180</text>
<text transform="translate(311.7,216.55) scale(1,0.9961)" text-anchor="middle" font-size="16">Sample Number</text>
<text transform="translate(-47.9,89.05) scale(1,0.9961) rotate(-90)" text-anchor="middle" font-size="16.6">P<tspan font-size="11.4" dy="3.6">u</tspan><tspan dy="-3.6"> (kN)</tspan></text>
</g>
<g transform="translate(60.4,237.4) scale(1.00000,1.00000)">
<rect x="0" y="0" width="623.4" height="178.8" fill="none" stroke="#000" stroke-width="1.2"/>
<path d="M6.07 48.24V43.63M15.29 42.71V34.4M18.37 54.36V43.63M27.58 48.24V43.63M33.73 140.97V136.7M36.8 68.43V52.39M39.88 144.2V143.39M52.17 48.93V34.4M55.24 65.77V61.16M58.31 42.71V34.4M61.39 142.35V136.7M73.68 66V63.35M76.75 146.05V143.39M79.83 48.24V34.75M82.9 148.93V143.39M85.97 143.85V142.47M98.26 59.89V48.7M101.34 148.24V141.89M107.48 142.35V135.32M113.63 142.35V141.89M119.77 50.43V42.82M122.85 53.78V51.7M125.92 59.89V51.7M128.99 54.82V51.7M135.14 54.12V51.7M141.28 68.66V61.16M147.43 145.81V141.89M153.58 59.89V59.78M162.8 145.35V141.89M172.01 60.7V59.78M178.16 146.05V143.39M181.23 141.66V136.7M187.38 63.58V57.58M190.45 140.97V136.01M205.82 42.71V34.75M221.18 151.12V149.16M224.26 98.64V91.26M227.33 46.74V43.17M230.4 147.2V140.39M239.62 42.71V34.06M242.69 43.17V34.06M245.77 92.76V86.53M248.84 42.71V34.06M251.91 139.47V136.7M279.57 87.69V84.69M285.72 143.85V141.89M298.01 78.92V70.04M301.08 42.71V34.06M307.23 95.64V87.57M310.3 42.71V34.06M316.45 65.08V57.58M319.52 62.89V52.39M331.81 62.89V52.39M341.03 144.55V136.7M344.1 142.35V136.7M353.32 59.89V48.7M362.54 94.26V91.26M368.69 63.58V57.58M374.83 136.59V130.82M380.98 97.14V89.07M384.05 139.93V136.7M387.12 52.63V48.7M390.2 42.71V34.52M393.27 66.47V58.97M396.34 65.08V57.58M405.56 61.04V57.58M408.64 42.71V34.52M411.71 54.82V43.63M414.78 42.71V34.52M427.07 42.71V34.52M436.29 145.35V141.89M451.66 145.35V141.89M454.73 87.69V84.69M457.8 36.82V34.52M460.88 75.69V70.04M463.95 69.81V61.16M470.1 62.08V57.58M479.31 140.97V136.7M482.39 40.63V34.52M491.61 144.55V140.39M506.97 146.05V141.89M516.19 78.11V70.04M519.26 56.32V52.39M522.34 55.51V48.7M534.63 42.71V34.52M537.7 60.7V52.39M540.77 59.2V58.97M546.92 145.01V141.89M559.21 59.2V52.39M565.36 144.78V141.89M568.43 141.89V136.7M577.65 89.76V88.03M583.8 42.71V34.52M589.94 64.97V58.05M599.16 138.78V136.59M602.24 146.85V142.24M617.6 146.85V142.24" stroke="#333" stroke-width="0.9" fill="none"/>
<path d="M2.67 40.23h6.8v6.8h-6.8zM5.75 148.76h6.8v6.8h-6.8zM8.82 68.37h6.8v6.8h-6.8zM11.89 31h6.8v6.8h-6.8zM14.97 40.23h6.8v6.8h-6.8zM18.04 154.64h6.8v6.8h-6.8zM21.11 141.95h6.8v6.8h-6.8zM24.18 40.23h6.8v6.8h-6.8zM27.26 107.7h6.8v6.8h-6.8zM30.33 133.3h6.8v6.8h-6.8zM33.4 48.99h6.8v6.8h-6.8zM36.48 139.99h6.8v6.8h-6.8zM39.55 162.6h6.8v6.8h-6.8zM42.62 66.64h6.8v6.8h-6.8zM45.7 45.3h6.8v6.8h-6.8zM48.77 31h6.8v6.8h-6.8zM51.84 57.76h6.8v6.8h-6.8zM54.91 31h6.8v6.8h-6.8zM57.99 133.3h6.8v6.8h-6.8zM61.06 98.13h6.8v6.8h-6.8zM64.13 40.23h6.8v6.8h-6.8zM67.21 66.64h6.8v6.8h-6.8zM70.28 59.95h6.8v6.8h-6.8zM73.35 139.99h6.8v6.8h-6.8zM76.42 31.35h6.8v6.8h-6.8zM79.5 139.99h6.8v6.8h-6.8zM82.57 139.07h6.8v6.8h-6.8zM85.64 48.99h6.8v6.8h-6.8zM88.72 76.91h6.8v6.8h-6.8zM91.79 145.76h6.8v6.8h-6.8zM94.86 45.3h6.8v6.8h-6.8zM97.94 138.49h6.8v6.8h-6.8zM101.01 98.93h6.8v6.8h-6.8zM104.08 131.92h6.8v6.8h-6.8zM107.15 43.11h6.8v6.8h-6.8zM110.23 138.49h6.8v6.8h-6.8zM113.3 105.74h6.8v6.8h-6.8zM116.37 39.42h6.8v6.8h-6.8zM119.45 48.3h6.8v6.8h-6.8zM122.52 48.3h6.8v6.8h-6.8zM125.59 48.3h6.8v6.8h-6.8zM128.67 76.91h6.8v6.8h-6.8zM131.74 48.3h6.8v6.8h-6.8zM134.81 66.64h6.8v6.8h-6.8zM137.88 57.76h6.8v6.8h-6.8zM140.96 45.3h6.8v6.8h-6.8zM144.03 138.49h6.8v6.8h-6.8zM147.1 43.92h6.8v6.8h-6.8zM150.18 56.38h6.8v6.8h-6.8zM153.25 146.57h6.8v6.8h-6.8zM156.32 66.64h6.8v6.8h-6.8zM159.4 138.49h6.8v6.8h-6.8zM162.47 48.99h6.8v6.8h-6.8zM165.54 66.64h6.8v6.8h-6.8zM168.61 56.38h6.8v6.8h-6.8zM171.69 76.91h6.8v6.8h-6.8zM174.76 139.99h6.8v6.8h-6.8zM177.83 133.3h6.8v6.8h-6.8zM180.91 146.57h6.8v6.8h-6.8zM183.98 54.18h6.8v6.8h-6.8zM187.05 132.61h6.8v6.8h-6.8zM190.13 90.75h6.8v6.8h-6.8zM193.2 98.93h6.8v6.8h-6.8zM196.27 98.93h6.8v6.8h-6.8zM199.34 81.98h6.8v6.8h-6.8zM202.42 31.35h6.8v6.8h-6.8zM205.49 67.33h6.8v6.8h-6.8zM208.56 90.75h6.8v6.8h-6.8zM211.64 59.95h6.8v6.8h-6.8zM214.71 145.76h6.8v6.8h-6.8zM217.78 145.76h6.8v6.8h-6.8zM220.86 87.86h6.8v6.8h-6.8zM223.93 39.77h6.8v6.8h-6.8zM227 136.99h6.8v6.8h-6.8zM230.07 65.83h6.8v6.8h-6.8zM233.15 84.98h6.8v6.8h-6.8zM236.22 30.66h6.8v6.8h-6.8zM239.29 30.66h6.8v6.8h-6.8zM242.37 83.13h6.8v6.8h-6.8zM245.44 30.66h6.8v6.8h-6.8zM248.51 133.3h6.8v6.8h-6.8zM251.59 49.46h6.8v6.8h-6.8zM254.66 142.88h6.8v6.8h-6.8zM257.73 91.55h6.8v6.8h-6.8zM260.81 66.64h6.8v6.8h-6.8zM263.88 98.93h6.8v6.8h-6.8zM266.95 66.64h6.8v6.8h-6.8zM270.02 49.46h6.8v6.8h-6.8zM273.1 145.76h6.8v6.8h-6.8zM276.17 81.29h6.8v6.8h-6.8zM279.24 145.76h6.8v6.8h-6.8zM282.32 138.49h6.8v6.8h-6.8zM285.39 160.41h6.8v6.8h-6.8zM288.46 48.99h6.8v6.8h-6.8zM291.54 66.64h6.8v6.8h-6.8zM294.61 66.64h6.8v6.8h-6.8zM297.68 30.66h6.8v6.8h-6.8zM300.75 68.83h6.8v6.8h-6.8zM303.83 84.17h6.8v6.8h-6.8zM306.9 30.66h6.8v6.8h-6.8zM309.97 57.76h6.8v6.8h-6.8zM313.05 54.18h6.8v6.8h-6.8zM316.12 48.99h6.8v6.8h-6.8zM319.19 160.87h6.8v6.8h-6.8zM322.27 98.93h6.8v6.8h-6.8zM325.34 87.17h6.8v6.8h-6.8zM328.41 48.99h6.8v6.8h-6.8zM331.48 150.95h6.8v6.8h-6.8zM334.56 145.76h6.8v6.8h-6.8zM337.63 133.3h6.8v6.8h-6.8zM340.7 133.3h6.8v6.8h-6.8zM343.78 89.36h6.8v6.8h-6.8zM346.85 76.91h6.8v6.8h-6.8zM349.92 45.3h6.8v6.8h-6.8zM353 151.64h6.8v6.8h-6.8zM356.07 145.76h6.8v6.8h-6.8zM359.14 87.86h6.8v6.8h-6.8zM362.21 93.05h6.8v6.8h-6.8zM365.29 54.18h6.8v6.8h-6.8zM368.36 98.93h6.8v6.8h-6.8zM371.43 127.42h6.8v6.8h-6.8zM374.51 98.93h6.8v6.8h-6.8zM377.58 85.67h6.8v6.8h-6.8zM380.65 133.3h6.8v6.8h-6.8zM383.73 45.3h6.8v6.8h-6.8zM386.8 31.12h6.8v6.8h-6.8zM389.87 55.57h6.8v6.8h-6.8zM392.94 54.18h6.8v6.8h-6.8zM396.02 93.05h6.8v6.8h-6.8zM399.09 145.76h6.8v6.8h-6.8zM402.16 54.18h6.8v6.8h-6.8zM405.24 31.12h6.8v6.8h-6.8zM408.31 40.23h6.8v6.8h-6.8zM411.38 31.12h6.8v6.8h-6.8zM414.46 57.76h6.8v6.8h-6.8zM417.53 48.99h6.8v6.8h-6.8zM420.6 76.91h6.8v6.8h-6.8zM423.67 31.12h6.8v6.8h-6.8zM426.75 66.64h6.8v6.8h-6.8zM429.82 107.7h6.8v6.8h-6.8zM432.89 138.49h6.8v6.8h-6.8zM435.97 148.76h6.8v6.8h-6.8zM439.04 65.83h6.8v6.8h-6.8zM442.11 150.95h6.8v6.8h-6.8zM445.19 48.99h6.8v6.8h-6.8zM448.26 138.49h6.8v6.8h-6.8zM451.33 81.29h6.8v6.8h-6.8zM454.4 31.12h6.8v6.8h-6.8zM457.48 66.64h6.8v6.8h-6.8zM460.55 57.76h6.8v6.8h-6.8zM463.62 102.51h6.8v6.8h-6.8zM466.7 54.18h6.8v6.8h-6.8zM469.77 90.51h6.8v6.8h-6.8zM472.84 98.93h6.8v6.8h-6.8zM475.92 133.3h6.8v6.8h-6.8zM478.99 31.12h6.8v6.8h-6.8zM482.06 79.79h6.8v6.8h-6.8zM485.13 99.28h6.8v6.8h-6.8zM488.21 136.99h6.8v6.8h-6.8zM491.28 48.99h6.8v6.8h-6.8zM494.35 80.48h6.8v6.8h-6.8zM497.43 56.38h6.8v6.8h-6.8zM500.5 48.99h6.8v6.8h-6.8zM503.57 138.49h6.8v6.8h-6.8zM506.65 145.76h6.8v6.8h-6.8zM509.72 66.64h6.8v6.8h-6.8zM512.79 66.64h6.8v6.8h-6.8zM515.86 48.99h6.8v6.8h-6.8zM518.94 45.3h6.8v6.8h-6.8zM522.01 48.99h6.8v6.8h-6.8zM525.08 45.3h6.8v6.8h-6.8zM528.16 145.76h6.8v6.8h-6.8zM531.23 31.12h6.8v6.8h-6.8zM534.3 48.99h6.8v6.8h-6.8zM537.38 55.57h6.8v6.8h-6.8zM540.45 54.18h6.8v6.8h-6.8zM543.52 138.49h6.8v6.8h-6.8zM546.59 145.76h6.8v6.8h-6.8zM549.67 66.64h6.8v6.8h-6.8zM552.74 40.23h6.8v6.8h-6.8zM555.81 48.99h6.8v6.8h-6.8zM558.89 87.86h6.8v6.8h-6.8zM561.96 138.49h6.8v6.8h-6.8zM565.03 133.3h6.8v6.8h-6.8zM568.11 57.07h6.8v6.8h-6.8zM571.18 146.34h6.8v6.8h-6.8zM574.25 84.63h6.8v6.8h-6.8zM577.32 146.34h6.8v6.8h-6.8zM580.4 31.12h6.8v6.8h-6.8zM583.47 146.34h6.8v6.8h-6.8zM586.54 54.65h6.8v6.8h-6.8zM589.62 139.42h6.8v6.8h-6.8zM592.69 43.8h6.8v6.8h-6.8zM595.76 133.19h6.8v6.8h-6.8zM598.84 138.84h6.8v6.8h-6.8zM601.91 146.34h6.8v6.8h-6.8zM604.98 57.76h6.8v6.8h-6.8zM608.05 145.64h6.8v6.8h-6.8zM611.13 45.3h6.8v6.8h-6.8zM614.2 138.84h6.8v6.8h-6.8z" fill="#000"/>
<path d="M6.07 179.4V48.24M9.15 179.4V149.74M12.22 179.4V68.43M15.29 179.4V42.71M18.37 179.4V54.36M21.44 179.4V152.62M24.51 179.4V143.62M27.58 179.4V48.24M30.66 179.4V106.14M33.73 179.4V140.97M36.8 179.4V68.43M39.88 179.4V144.2M42.95 179.4V160.69M46.02 179.4V63.58M49.09 179.4V42.71M52.17 179.4V48.93M55.24 179.4V65.77M58.31 179.4V42.71M61.39 179.4V142.35M64.46 179.4V92.76M67.53 179.4V31.06M70.61 179.4V54.82M73.68 179.4V66M76.75 179.4V146.05M79.83 179.4V48.24M82.9 179.4V148.93M85.97 179.4V143.85M89.04 179.4V48.93M92.12 179.4V73.85M95.19 179.4V146.05M98.26 179.4V59.89M101.34 179.4V148.24M104.41 179.4V97.14M107.48 179.4V142.35M110.55 179.4V40.63M113.63 179.4V142.35M116.7 179.4V102.56M119.77 179.4V50.43M122.85 179.4V53.78M125.92 179.4V59.89M128.99 179.4V54.82M132.07 179.4V77.42M135.14 179.4V54.12M138.21 179.4V62.89M141.28 179.4V68.66M144.36 179.4V42.71M147.43 179.4V145.81M150.5 179.4V46.05M153.58 179.4V59.89M156.65 179.4V147.2M159.72 179.4V63.12M162.8 179.4V145.35M165.87 179.4V50.9M168.94 179.4V63.58M172.01 179.4V60.7M175.09 179.4V74.77M178.16 179.4V146.05M181.23 179.4V141.66M184.31 179.4V143.85M187.38 179.4V63.58M190.45 179.4V140.97M193.53 179.4V86.19M196.6 179.4V90.57M199.67 179.4V88.38M202.75 179.4V73.73M205.82 179.4V42.71M208.89 179.4V65.08M211.96 179.4V91.26M215.04 179.4V60.24M218.11 179.4V145.35M221.18 179.4V151.12M224.26 179.4V98.64M227.33 179.4V46.74M230.4 179.4V147.2M233.47 179.4V68.43M236.55 179.4V75.92M239.62 179.4V42.71M242.69 179.4V43.17M245.77 179.4V92.76M248.84 179.4V42.71M251.91 179.4V139.47M254.99 179.4V50.9M258.06 179.4V143.16M261.13 179.4V87.69M264.2 179.4V64.04M267.28 179.4V91.26M270.35 179.4V62.89M273.42 179.4V50.9M276.5 179.4V146.05M279.57 179.4V87.69M282.64 179.4V143.85M285.72 179.4V143.85M288.79 179.4V160.69M291.86 179.4V46.74M294.94 179.4V63.58M298.01 179.4V78.92M301.08 179.4V42.71M304.15 179.4V65.08M307.23 179.4V95.64M310.3 179.4V42.71M313.37 179.4V52.63M316.45 179.4V65.08M319.52 179.4V62.89M322.59 179.4V159.19M325.67 179.4V92.76M328.74 179.4V87.69M331.81 179.4V62.89M334.88 179.4V150.43M337.96 179.4V144.55M341.03 179.4V144.55M344.1 179.4V142.35M347.18 179.4V92.07M350.25 179.4V74.54M353.32 179.4V59.89M356.39 179.4V152.62M359.47 179.4V143.16M362.54 179.4V94.26M365.61 179.4V86.88M368.69 179.4V63.58M371.76 179.4V91.26M374.83 179.4V136.59M377.91 179.4V86.88M380.98 179.4V97.14M384.05 179.4V139.93M387.12 179.4V52.63M390.2 179.4V42.71M393.27 179.4V66.47M396.34 179.4V65.08M399.42 179.4V83.3M402.49 179.4V143.16M405.56 179.4V61.04M408.64 179.4V42.71M411.71 179.4V54.82M414.78 179.4V42.71M417.86 179.4V48.24M420.93 179.4V48.24M424 179.4V74.77M427.07 179.4V42.71M430.15 179.4V63.12M433.22 179.4V99.34" stroke="#f7a76f" stroke-width="1.3" fill="none"/>
<path d="M436.29 179.4V145.35M439.37 179.4V147.2M442.44 179.4V66M445.51 179.4V153.08M448.58 179.4V50.9M451.66 179.4V145.35M454.73 179.4V87.69M457.8 179.4V36.82M460.88 179.4V75.69M463.95 179.4V69.81M467.02 179.4V100.37M470.1 179.4V62.08M473.17 179.4V90.92M476.24 179.4V95.64M479.31 179.4V140.97M482.39 179.4V40.63M485.46 179.4V77.77M488.53 179.4V93.45M491.61 179.4V144.55M494.68 179.4V51.13M497.75 179.4V82.96M500.83 179.4V57.7M503.9 179.4V46.51M506.97 179.4V146.05M510.05 179.4V148.24M513.12 179.4V65.08M516.19 179.4V78.11M519.26 179.4V56.32M522.34 179.4V55.51M525.41 179.4V43.17" stroke="#d2b3ef" stroke-width="1.3" fill="none"/>
<path d="M528.48 179.4V42.71M531.56 179.4V143.16M534.63 179.4V42.71M537.7 179.4V60.7M540.77 179.4V59.2M543.85 179.4V42.71M546.92 179.4V145.01M549.99 179.4V145.01M553.07 179.4V64.97M556.14 179.4V42.71M559.21 179.4V59.2M562.29 179.4V89.76M565.36 179.4V144.78M568.43 179.4V141.89M571.5 179.4V58.74M574.58 179.4V145.01M577.65 179.4V89.76M580.72 179.4V142.59M583.8 179.4V42.71M586.87 179.4V145.01M589.94 179.4V64.97M593.02 179.4V140.97M596.09 179.4V42.71M599.16 179.4V138.78M602.24 179.4V146.85M605.31 179.4V143.16M608.38 179.4V58.74M611.45 179.4V139.47M614.53 179.4V42.71M617.6 179.4V146.85" stroke="#b0ea62" stroke-width="1.3" fill="none"/>
<circle cx="6.07" cy="48.24" r="3.6" fill="url(#gMLFOtr)"/>
<circle cx="9.15" cy="149.74" r="3.6" fill="url(#gMLFOtr)"/>
<circle cx="12.22" cy="68.43" r="3.6" fill="url(#gMLFOtr)"/>
<circle cx="15.29" cy="42.71" r="3.6" fill="url(#gMLFOtr)"/>
<circle cx="18.37" cy="54.36" r="3.6" fill="url(#gMLFOtr)"/>
<circle cx="21.44" cy="152.62" r="3.6" fill="url(#gMLFOtr)"/>
<circle cx="24.51" cy="143.62" r="3.6" fill="url(#gMLFOtr)"/>
<circle cx="27.58" cy="48.24" r="3.6" fill="url(#gMLFOtr)"/>
<circle cx="30.66" cy="106.14" r="3.6" fill="url(#gMLFOtr)"/>
<circle cx="33.73" cy="140.97" r="3.6" fill="url(#gMLFOtr)"/>
<circle cx="36.8" cy="68.43" r="3.6" fill="url(#gMLFOtr)"/>
<circle cx="39.88" cy="144.2" r="3.6" fill="url(#gMLFOtr)"/>
<circle cx="42.95" cy="160.69" r="3.6" fill="url(#gMLFOtr)"/>
<circle cx="46.02" cy="63.58" r="3.6" fill="url(#gMLFOtr)"/>
<circle cx="49.09" cy="42.71" r="3.6" fill="url(#gMLFOtr)"/>
<circle cx="52.17" cy="48.93" r="3.6" fill="url(#gMLFOtr)"/>
<circle cx="55.24" cy="65.77" r="3.6" fill="url(#gMLFOtr)"/>
<circle cx="58.31" cy="42.71" r="3.6" fill="url(#gMLFOtr)"/>
<circle cx="61.39" cy="142.35" r="3.6" fill="url(#gMLFOtr)"/>
<circle cx="64.46" cy="92.76" r="3.6" fill="url(#gMLFOtr)"/>
<circle cx="67.53" cy="31.06" r="3.6" fill="url(#gMLFOtr)"/>
<circle cx="70.61" cy="54.82" r="3.6" fill="url(#gMLFOtr)"/>
<circle cx="73.68" cy="66" r="3.6" fill="url(#gMLFOtr)"/>
<circle cx="76.75" cy="146.05" r="3.6" fill="url(#gMLFOtr)"/>
<circle cx="79.83" cy="48.24" r="3.6" fill="url(#gMLFOtr)"/>
<circle cx="82.9" cy="148.93" r="3.6" fill="url(#gMLFOtr)"/>
<circle cx="85.97" cy="143.85" r="3.6" fill="url(#gMLFOtr)"/>
<circle cx="89.04" cy="48.93" r="3.6" fill="url(#gMLFOtr)"/>
<circle cx="92.12" cy="73.85" r="3.6" fill="url(#gMLFOtr)"/>
<circle cx="95.19" cy="146.05" r="3.6" fill="url(#gMLFOtr)"/>
<circle cx="98.26" cy="59.89" r="3.6" fill="url(#gMLFOtr)"/>
<circle cx="101.34" cy="148.24" r="3.6" fill="url(#gMLFOtr)"/>
<circle cx="104.41" cy="97.14" r="3.6" fill="url(#gMLFOtr)"/>
<circle cx="107.48" cy="142.35" r="3.6" fill="url(#gMLFOtr)"/>
<circle cx="110.55" cy="40.63" r="3.6" fill="url(#gMLFOtr)"/>
<circle cx="113.63" cy="142.35" r="3.6" fill="url(#gMLFOtr)"/>
<circle cx="116.7" cy="102.56" r="3.6" fill="url(#gMLFOtr)"/>
<circle cx="119.77" cy="50.43" r="3.6" fill="url(#gMLFOtr)"/>
<circle cx="122.85" cy="53.78" r="3.6" fill="url(#gMLFOtr)"/>
<circle cx="125.92" cy="59.89" r="3.6" fill="url(#gMLFOtr)"/>
<circle cx="128.99" cy="54.82" r="3.6" fill="url(#gMLFOtr)"/>
<circle cx="132.07" cy="77.42" r="3.6" fill="url(#gMLFOtr)"/>
<circle cx="135.14" cy="54.12" r="3.6" fill="url(#gMLFOtr)"/>
<circle cx="138.21" cy="62.89" r="3.6" fill="url(#gMLFOtr)"/>
<circle cx="141.28" cy="68.66" r="3.6" fill="url(#gMLFOtr)"/>
<circle cx="144.36" cy="42.71" r="3.6" fill="url(#gMLFOtr)"/>
<circle cx="147.43" cy="145.81" r="3.6" fill="url(#gMLFOtr)"/>
<circle cx="150.5" cy="46.05" r="3.6" fill="url(#gMLFOtr)"/>
<circle cx="153.58" cy="59.89" r="3.6" fill="url(#gMLFOtr)"/>
<circle cx="156.65" cy="147.2" r="3.6" fill="url(#gMLFOtr)"/>
<circle cx="159.72" cy="63.12" r="3.6" fill="url(#gMLFOtr)"/>
<circle cx="162.8" cy="145.35" r="3.6" fill="url(#gMLFOtr)"/>
<circle cx="165.87" cy="50.9" r="3.6" fill="url(#gMLFOtr)"/>
<circle cx="168.94" cy="63.58" r="3.6" fill="url(#gMLFOtr)"/>
<circle cx="172.01" cy="60.7" r="3.6" fill="url(#gMLFOtr)"/>
<circle cx="175.09" cy="74.77" r="3.6" fill="url(#gMLFOtr)"/>
<circle cx="178.16" cy="146.05" r="3.6" fill="url(#gMLFOtr)"/>
<circle cx="181.23" cy="141.66" r="3.6" fill="url(#gMLFOtr)"/>
<circle cx="184.31" cy="143.85" r="3.6" fill="url(#gMLFOtr)"/>
<circle cx="187.38" cy="63.58" r="3.6" fill="url(#gMLFOtr)"/>
<circle cx="190.45" cy="140.97" r="3.6" fill="url(#gMLFOtr)"/>
<circle cx="193.53" cy="86.19" r="3.6" fill="url(#gMLFOtr)"/>
<circle cx="196.6" cy="90.57" r="3.6" fill="url(#gMLFOtr)"/>
<circle cx="199.67" cy="88.38" r="3.6" fill="url(#gMLFOtr)"/>
<circle cx="202.75" cy="73.73" r="3.6" fill="url(#gMLFOtr)"/>
<circle cx="205.82" cy="42.71" r="3.6" fill="url(#gMLFOtr)"/>
<circle cx="208.89" cy="65.08" r="3.6" fill="url(#gMLFOtr)"/>
<circle cx="211.96" cy="91.26" r="3.6" fill="url(#gMLFOtr)"/>
<circle cx="215.04" cy="60.24" r="3.6" fill="url(#gMLFOtr)"/>
<circle cx="218.11" cy="145.35" r="3.6" fill="url(#gMLFOtr)"/>
<circle cx="221.18" cy="151.12" r="3.6" fill="url(#gMLFOtr)"/>
<circle cx="224.26" cy="98.64" r="3.6" fill="url(#gMLFOtr)"/>
<circle cx="227.33" cy="46.74" r="3.6" fill="url(#gMLFOtr)"/>
<circle cx="230.4" cy="147.2" r="3.6" fill="url(#gMLFOtr)"/>
<circle cx="233.47" cy="68.43" r="3.6" fill="url(#gMLFOtr)"/>
<circle cx="236.55" cy="75.92" r="3.6" fill="url(#gMLFOtr)"/>
<circle cx="239.62" cy="42.71" r="3.6" fill="url(#gMLFOtr)"/>
<circle cx="242.69" cy="43.17" r="3.6" fill="url(#gMLFOtr)"/>
<circle cx="245.77" cy="92.76" r="3.6" fill="url(#gMLFOtr)"/>
<circle cx="248.84" cy="42.71" r="3.6" fill="url(#gMLFOtr)"/>
<circle cx="251.91" cy="139.47" r="3.6" fill="url(#gMLFOtr)"/>
<circle cx="254.99" cy="50.9" r="3.6" fill="url(#gMLFOtr)"/>
<circle cx="258.06" cy="143.16" r="3.6" fill="url(#gMLFOtr)"/>
<circle cx="261.13" cy="87.69" r="3.6" fill="url(#gMLFOtr)"/>
<circle cx="264.2" cy="64.04" r="3.6" fill="url(#gMLFOtr)"/>
<circle cx="267.28" cy="91.26" r="3.6" fill="url(#gMLFOtr)"/>
<circle cx="270.35" cy="62.89" r="3.6" fill="url(#gMLFOtr)"/>
<circle cx="273.42" cy="50.9" r="3.6" fill="url(#gMLFOtr)"/>
<circle cx="276.5" cy="146.05" r="3.6" fill="url(#gMLFOtr)"/>
<circle cx="279.57" cy="87.69" r="3.6" fill="url(#gMLFOtr)"/>
<circle cx="282.64" cy="143.85" r="3.6" fill="url(#gMLFOtr)"/>
<circle cx="285.72" cy="143.85" r="3.6" fill="url(#gMLFOtr)"/>
<circle cx="288.79" cy="160.69" r="3.6" fill="url(#gMLFOtr)"/>
<circle cx="291.86" cy="46.74" r="3.6" fill="url(#gMLFOtr)"/>
<circle cx="294.94" cy="63.58" r="3.6" fill="url(#gMLFOtr)"/>
<circle cx="298.01" cy="78.92" r="3.6" fill="url(#gMLFOtr)"/>
<circle cx="301.08" cy="42.71" r="3.6" fill="url(#gMLFOtr)"/>
<circle cx="304.15" cy="65.08" r="3.6" fill="url(#gMLFOtr)"/>
<circle cx="307.23" cy="95.64" r="3.6" fill="url(#gMLFOtr)"/>
<circle cx="310.3" cy="42.71" r="3.6" fill="url(#gMLFOtr)"/>
<circle cx="313.37" cy="52.63" r="3.6" fill="url(#gMLFOtr)"/>
<circle cx="316.45" cy="65.08" r="3.6" fill="url(#gMLFOtr)"/>
<circle cx="319.52" cy="62.89" r="3.6" fill="url(#gMLFOtr)"/>
<circle cx="322.59" cy="159.19" r="3.6" fill="url(#gMLFOtr)"/>
<circle cx="325.67" cy="92.76" r="3.6" fill="url(#gMLFOtr)"/>
<circle cx="328.74" cy="87.69" r="3.6" fill="url(#gMLFOtr)"/>
<circle cx="331.81" cy="62.89" r="3.6" fill="url(#gMLFOtr)"/>
<circle cx="334.88" cy="150.43" r="3.6" fill="url(#gMLFOtr)"/>
<circle cx="337.96" cy="144.55" r="3.6" fill="url(#gMLFOtr)"/>
<circle cx="341.03" cy="144.55" r="3.6" fill="url(#gMLFOtr)"/>
<circle cx="344.1" cy="142.35" r="3.6" fill="url(#gMLFOtr)"/>
<circle cx="347.18" cy="92.07" r="3.6" fill="url(#gMLFOtr)"/>
<circle cx="350.25" cy="74.54" r="3.6" fill="url(#gMLFOtr)"/>
<circle cx="353.32" cy="59.89" r="3.6" fill="url(#gMLFOtr)"/>
<circle cx="356.39" cy="152.62" r="3.6" fill="url(#gMLFOtr)"/>
<circle cx="359.47" cy="143.16" r="3.6" fill="url(#gMLFOtr)"/>
<circle cx="362.54" cy="94.26" r="3.6" fill="url(#gMLFOtr)"/>
<circle cx="365.61" cy="86.88" r="3.6" fill="url(#gMLFOtr)"/>
<circle cx="368.69" cy="63.58" r="3.6" fill="url(#gMLFOtr)"/>
<circle cx="371.76" cy="91.26" r="3.6" fill="url(#gMLFOtr)"/>
<circle cx="374.83" cy="136.59" r="3.6" fill="url(#gMLFOtr)"/>
<circle cx="377.91" cy="86.88" r="3.6" fill="url(#gMLFOtr)"/>
<circle cx="380.98" cy="97.14" r="3.6" fill="url(#gMLFOtr)"/>
<circle cx="384.05" cy="139.93" r="3.6" fill="url(#gMLFOtr)"/>
<circle cx="387.12" cy="52.63" r="3.6" fill="url(#gMLFOtr)"/>
<circle cx="390.2" cy="42.71" r="3.6" fill="url(#gMLFOtr)"/>
<circle cx="393.27" cy="66.47" r="3.6" fill="url(#gMLFOtr)"/>
<circle cx="396.34" cy="65.08" r="3.6" fill="url(#gMLFOtr)"/>
<circle cx="399.42" cy="83.3" r="3.6" fill="url(#gMLFOtr)"/>
<circle cx="402.49" cy="143.16" r="3.6" fill="url(#gMLFOtr)"/>
<circle cx="405.56" cy="61.04" r="3.6" fill="url(#gMLFOtr)"/>
<circle cx="408.64" cy="42.71" r="3.6" fill="url(#gMLFOtr)"/>
<circle cx="411.71" cy="54.82" r="3.6" fill="url(#gMLFOtr)"/>
<circle cx="414.78" cy="42.71" r="3.6" fill="url(#gMLFOtr)"/>
<circle cx="417.86" cy="48.24" r="3.6" fill="url(#gMLFOtr)"/>
<circle cx="420.93" cy="48.24" r="3.6" fill="url(#gMLFOtr)"/>
<circle cx="424" cy="74.77" r="3.6" fill="url(#gMLFOtr)"/>
<circle cx="427.07" cy="42.71" r="3.6" fill="url(#gMLFOtr)"/>
<circle cx="430.15" cy="63.12" r="3.6" fill="url(#gMLFOtr)"/>
<circle cx="433.22" cy="99.34" r="3.6" fill="url(#gMLFOtr)"/>
<circle cx="436.29" cy="145.35" r="3.6" fill="url(#gMLFOva)"/>
<circle cx="439.37" cy="147.2" r="3.6" fill="url(#gMLFOva)"/>
<circle cx="442.44" cy="66" r="3.6" fill="url(#gMLFOva)"/>
<circle cx="445.51" cy="153.08" r="3.6" fill="url(#gMLFOva)"/>
<circle cx="448.58" cy="50.9" r="3.6" fill="url(#gMLFOva)"/>
<circle cx="451.66" cy="145.35" r="3.6" fill="url(#gMLFOva)"/>
<circle cx="454.73" cy="87.69" r="3.6" fill="url(#gMLFOva)"/>
<circle cx="457.8" cy="36.82" r="3.6" fill="url(#gMLFOva)"/>
<circle cx="460.88" cy="75.69" r="3.6" fill="url(#gMLFOva)"/>
<circle cx="463.95" cy="69.81" r="3.6" fill="url(#gMLFOva)"/>
<circle cx="467.02" cy="100.37" r="3.6" fill="url(#gMLFOva)"/>
<circle cx="470.1" cy="62.08" r="3.6" fill="url(#gMLFOva)"/>
<circle cx="473.17" cy="90.92" r="3.6" fill="url(#gMLFOva)"/>
<circle cx="476.24" cy="95.64" r="3.6" fill="url(#gMLFOva)"/>
<circle cx="479.31" cy="140.97" r="3.6" fill="url(#gMLFOva)"/>
<circle cx="482.39" cy="40.63" r="3.6" fill="url(#gMLFOva)"/>
<circle cx="485.46" cy="77.77" r="3.6" fill="url(#gMLFOva)"/>
<circle cx="488.53" cy="93.45" r="3.6" fill="url(#gMLFOva)"/>
<circle cx="491.61" cy="144.55" r="3.6" fill="url(#gMLFOva)"/>
<circle cx="494.68" cy="51.13" r="3.6" fill="url(#gMLFOva)"/>
<circle cx="497.75" cy="82.96" r="3.6" fill="url(#gMLFOva)"/>
<circle cx="500.83" cy="57.7" r="3.6" fill="url(#gMLFOva)"/>
<circle cx="503.9" cy="46.51" r="3.6" fill="url(#gMLFOva)"/>
<circle cx="506.97" cy="146.05" r="3.6" fill="url(#gMLFOva)"/>
<circle cx="510.05" cy="148.24" r="3.6" fill="url(#gMLFOva)"/>
<circle cx="513.12" cy="65.08" r="3.6" fill="url(#gMLFOva)"/>
<circle cx="516.19" cy="78.11" r="3.6" fill="url(#gMLFOva)"/>
<circle cx="519.26" cy="56.32" r="3.6" fill="url(#gMLFOva)"/>
<circle cx="522.34" cy="55.51" r="3.6" fill="url(#gMLFOva)"/>
<circle cx="525.41" cy="43.17" r="3.6" fill="url(#gMLFOva)"/>
<circle cx="528.48" cy="42.71" r="3.6" fill="url(#gMLFOte)"/>
<circle cx="531.56" cy="143.16" r="3.6" fill="url(#gMLFOte)"/>
<circle cx="534.63" cy="42.71" r="3.6" fill="url(#gMLFOte)"/>
<circle cx="537.7" cy="60.7" r="3.6" fill="url(#gMLFOte)"/>
<circle cx="540.77" cy="59.2" r="3.6" fill="url(#gMLFOte)"/>
<circle cx="543.85" cy="42.71" r="3.6" fill="url(#gMLFOte)"/>
<circle cx="546.92" cy="145.01" r="3.6" fill="url(#gMLFOte)"/>
<circle cx="549.99" cy="145.01" r="3.6" fill="url(#gMLFOte)"/>
<circle cx="553.07" cy="64.97" r="3.6" fill="url(#gMLFOte)"/>
<circle cx="556.14" cy="42.71" r="3.6" fill="url(#gMLFOte)"/>
<circle cx="559.21" cy="59.2" r="3.6" fill="url(#gMLFOte)"/>
<circle cx="562.29" cy="89.76" r="3.6" fill="url(#gMLFOte)"/>
<circle cx="565.36" cy="144.78" r="3.6" fill="url(#gMLFOte)"/>
<circle cx="568.43" cy="141.89" r="3.6" fill="url(#gMLFOte)"/>
<circle cx="571.5" cy="58.74" r="3.6" fill="url(#gMLFOte)"/>
<circle cx="574.58" cy="145.01" r="3.6" fill="url(#gMLFOte)"/>
<circle cx="577.65" cy="89.76" r="3.6" fill="url(#gMLFOte)"/>
<circle cx="580.72" cy="142.59" r="3.6" fill="url(#gMLFOte)"/>
<circle cx="583.8" cy="42.71" r="3.6" fill="url(#gMLFOte)"/>
<circle cx="586.87" cy="145.01" r="3.6" fill="url(#gMLFOte)"/>
<circle cx="589.94" cy="64.97" r="3.6" fill="url(#gMLFOte)"/>
<circle cx="593.02" cy="140.97" r="3.6" fill="url(#gMLFOte)"/>
<circle cx="596.09" cy="42.71" r="3.6" fill="url(#gMLFOte)"/>
<circle cx="599.16" cy="138.78" r="3.6" fill="url(#gMLFOte)"/>
<circle cx="602.24" cy="146.85" r="3.6" fill="url(#gMLFOte)"/>
<circle cx="605.31" cy="143.16" r="3.6" fill="url(#gMLFOte)"/>
<circle cx="608.38" cy="58.74" r="3.6" fill="url(#gMLFOte)"/>
<circle cx="611.45" cy="139.47" r="3.6" fill="url(#gMLFOte)"/>
<circle cx="614.53" cy="42.71" r="3.6" fill="url(#gMLFOte)"/>
<circle cx="617.6" cy="146.85" r="3.6" fill="url(#gMLFOte)"/>
<path d="M-7.0 5.8H0M-3.8 23.1H0M-7.0 40.4H0M-3.8 57.7H0M-7.0 75H0M-3.8 92.3H0M-7.0 109.6H0M-3.8 126.9H0M-7.0 144.2H0M-3.8 161.5H0M-7.0 178.8H0M3 178.8v7.0M49.09 178.8v3.8M95.19 178.8v7.0M141.28 178.8v3.8M187.38 178.8v7.0M233.47 178.8v3.8M279.57 178.8v7.0M325.67 178.8v3.8M371.76 178.8v7.0M417.86 178.8v3.8M463.95 178.8v7.0M510.05 178.8v3.8M556.14 178.8v7.0M602.24 178.8v3.8" stroke="#000" stroke-width="1.1" fill="none"/>
<rect x="8.0" y="8.3" width="194.8" height="12.3" fill="#d9d9d9"/>
<rect x="5.0" y="5.3" width="194.8" height="12.3" fill="#fff" stroke="#a6a6a6" stroke-width="0.8"/>
<rect x="13.6" y="8.15" width="6.6" height="6.6" fill="#000"/>
<text x="26.6" y="15.15" font-size="8.7">Measured</text>
<circle cx="71.5" cy="11.45" r="3.7" fill="url(#gMLFOtr)"/>
<text x="81.6" y="15.15" font-size="8.7">Train</text>
<circle cx="111.0" cy="11.45" r="3.7" fill="url(#gMLFOva)"/>
<text x="123.6" y="15.15" font-size="8.7">Validation</text>
<circle cx="169.7" cy="11.45" r="3.7" fill="url(#gMLFOte)"/>
<text x="182.6" y="15.15" font-size="8.7">Test</text>
<rect x="210.8" y="8.3" width="39.7" height="13.0" fill="#d9d9d9"/>
<rect x="207.8" y="5.3" width="39.7" height="13.0" fill="#fff" stroke="#a6a6a6" stroke-width="0.8"/>
<text x="227.65" y="15.25" text-anchor="middle" font-size="9.1">MLFO (1)</text>
</g>
<g transform="translate(60.4,237.4) scale(1.00000,1)">
<text transform="translate(-11.9,10.2) scale(1,1.0000)" text-anchor="end" font-size="14.2">1800</text>
<text transform="translate(-11.9,44.8) scale(1,1.0000)" text-anchor="end" font-size="14.2">1500</text>
<text transform="translate(-11.9,79.4) scale(1,1.0000)" text-anchor="end" font-size="14.2">1200</text>
<text transform="translate(-11.9,114) scale(1,1.0000)" text-anchor="end" font-size="14.2">900</text>
<text transform="translate(-11.9,148.6) scale(1,1.0000)" text-anchor="end" font-size="14.2">600</text>
<text transform="translate(-11.9,183.2) scale(1,1.0000)" text-anchor="end" font-size="14.2">300</text>
<text transform="translate(3,201.8) scale(1,1.0000)" text-anchor="middle" font-size="14.2">0</text>
<text transform="translate(95.19,201.8) scale(1,1.0000)" text-anchor="middle" font-size="14.2">30</text>
<text transform="translate(187.38,201.8) scale(1,1.0000)" text-anchor="middle" font-size="14.2">60</text>
<text transform="translate(279.57,201.8) scale(1,1.0000)" text-anchor="middle" font-size="14.2">90</text>
<text transform="translate(371.76,201.8) scale(1,1.0000)" text-anchor="middle" font-size="14.2">120</text>
<text transform="translate(463.95,201.8) scale(1,1.0000)" text-anchor="middle" font-size="14.2">150</text>
<text transform="translate(556.14,201.8) scale(1,1.0000)" text-anchor="middle" font-size="14.2">180</text>
<text transform="translate(311.7,217.4) scale(1,1.0000)" text-anchor="middle" font-size="16">Sample Number</text>
<text transform="translate(-47.9,89.4) scale(1,1.0000) rotate(-90)" text-anchor="middle" font-size="16.6">P<tspan font-size="11.4" dy="3.6">u</tspan><tspan dy="-3.6"> (kN)</tspan></text>
</g>
<g transform="translate(60.4,477.9) scale(1.00000,1.00056)">
<rect x="0" y="0" width="623.4" height="178.8" fill="none" stroke="#000" stroke-width="1.2"/>
<path d="M6.07 45.47V43.63M15.29 39.24V34.4M18.37 44.32V43.63M27.58 51.58V43.63M33.73 143.28V136.7M36.8 63V52.39M49.09 49.39V48.7M52.17 36.71V34.4M55.24 66.46V61.16M58.31 39.24V34.4M61.39 144.31V136.7M67.53 46.51V43.63M73.68 64.04V63.35M76.75 144.31V143.39M79.83 40.28V34.75M82.9 143.51V143.39M85.97 144.31V142.47M98.26 68.89V48.7M101.34 143.51V141.89M107.48 141.32V135.32M113.63 143.51V141.89M119.77 64.5V42.82M122.85 64.04V51.7M125.92 66.23V51.7M141.28 66.23V61.16M144.36 49.39V48.7M147.43 142.82V141.89M153.58 62.08V59.77M162.8 142.82V141.89M172.01 63.35V59.77M181.23 142.82V136.7M187.38 64.04V57.58M190.45 142.12V136.01M205.82 45.47V34.75M221.18 154.46V149.16M224.26 94.26V91.26M227.33 48.7V43.17M230.4 141.32V140.39M239.62 40.28V34.05M242.69 45.01V34.05M245.77 91.72V86.53M248.84 38.55V34.05M251.91 143.51V136.7M270.35 70.62V70.04M279.57 85.95V84.69M285.72 142.82V141.89M288.79 164.04V163.81M298.01 70.85V70.04M301.08 37.28V34.05M307.23 91.38V87.57M310.3 40.28V34.05M313.37 67.39V61.16M316.45 66.92V57.58M319.52 63V52.39M331.81 63V52.39M341.03 143.28V136.7M344.1 141.32V136.7M353.32 76.15V48.7M362.54 91.38V91.26M368.69 63.58V57.58M374.83 141.32V130.82M380.98 95.41V89.07M384.05 142.82V136.7M387.12 57.7V48.7M390.2 41.44V34.52M393.27 88.15V58.97M396.34 66.92V57.58M405.56 58.16V57.58M408.64 39.24V34.52M411.71 46.51V43.63M414.78 41.44V34.52M420.93 55.74V52.39M427.07 44.66V34.52M436.29 142.82V141.89M442.44 69.46V69.23M451.66 143.51V141.89M454.73 85.95V84.69M457.8 40.28V34.52M460.88 75.69V70.04M463.95 82.61V61.16M470.1 61.16V57.58M479.31 142.82V136.7M482.39 39.71V34.52M491.61 142.82V140.39M500.83 68.42V59.77M516.19 74.19V70.04M528.48 51.58V48.7M534.63 37.28V34.52M537.7 57.12V52.39M540.77 61.16V58.97M546.92 143.51V141.89M556.14 46.86V43.63M559.21 54.24V52.39M562.29 91.49V91.26M565.36 144.2V141.89M568.43 144.2V136.7M571.5 67.27V60.47M577.65 89.65V88.03M583.8 41.2V34.52M589.94 67.27V58.04M599.16 142.93V136.59M602.24 142.35V142.24M608.38 69.12V61.16M617.6 142.93V142.24" stroke="#333" stroke-width="0.9" fill="none"/>
<path d="M2.67 40.23h6.8v6.8h-6.8zM5.75 148.76h6.8v6.8h-6.8zM8.82 68.37h6.8v6.8h-6.8zM11.89 31h6.8v6.8h-6.8zM14.97 40.23h6.8v6.8h-6.8zM18.04 154.64h6.8v6.8h-6.8zM21.11 141.95h6.8v6.8h-6.8zM24.18 40.23h6.8v6.8h-6.8zM27.26 107.7h6.8v6.8h-6.8zM30.33 133.3h6.8v6.8h-6.8zM33.4 48.99h6.8v6.8h-6.8zM36.48 139.99h6.8v6.8h-6.8zM39.55 162.6h6.8v6.8h-6.8zM42.62 66.64h6.8v6.8h-6.8zM45.7 45.3h6.8v6.8h-6.8zM48.77 31h6.8v6.8h-6.8zM51.84 57.76h6.8v6.8h-6.8zM54.91 31h6.8v6.8h-6.8zM57.99 133.3h6.8v6.8h-6.8zM61.06 98.13h6.8v6.8h-6.8zM64.13 40.23h6.8v6.8h-6.8zM67.21 66.64h6.8v6.8h-6.8zM70.28 59.95h6.8v6.8h-6.8zM73.35 139.99h6.8v6.8h-6.8zM76.42 31.35h6.8v6.8h-6.8zM79.5 139.99h6.8v6.8h-6.8zM82.57 139.07h6.8v6.8h-6.8zM85.64 48.99h6.8v6.8h-6.8zM88.72 76.9h6.8v6.8h-6.8zM91.79 145.76h6.8v6.8h-6.8zM94.86 45.3h6.8v6.8h-6.8zM97.94 138.49h6.8v6.8h-6.8zM101.01 98.93h6.8v6.8h-6.8zM104.08 131.92h6.8v6.8h-6.8zM107.15 43.11h6.8v6.8h-6.8zM110.23 138.49h6.8v6.8h-6.8zM113.3 105.74h6.8v6.8h-6.8zM116.37 39.42h6.8v6.8h-6.8zM119.45 48.3h6.8v6.8h-6.8zM122.52 48.3h6.8v6.8h-6.8zM125.59 48.3h6.8v6.8h-6.8zM128.67 76.9h6.8v6.8h-6.8zM131.74 48.3h6.8v6.8h-6.8zM134.81 66.64h6.8v6.8h-6.8zM137.88 57.76h6.8v6.8h-6.8zM140.96 45.3h6.8v6.8h-6.8zM144.03 138.49h6.8v6.8h-6.8zM147.1 43.92h6.8v6.8h-6.8zM150.18 56.37h6.8v6.8h-6.8zM153.25 146.57h6.8v6.8h-6.8zM156.32 66.64h6.8v6.8h-6.8zM159.4 138.49h6.8v6.8h-6.8zM162.47 48.99h6.8v6.8h-6.8zM165.54 66.64h6.8v6.8h-6.8zM168.61 56.37h6.8v6.8h-6.8zM171.69 76.9h6.8v6.8h-6.8zM174.76 139.99h6.8v6.8h-6.8zM177.83 133.3h6.8v6.8h-6.8zM180.91 146.57h6.8v6.8h-6.8zM183.98 54.18h6.8v6.8h-6.8zM187.05 132.61h6.8v6.8h-6.8zM190.13 90.74h6.8v6.8h-6.8zM193.2 98.93h6.8v6.8h-6.8zM196.27 98.93h6.8v6.8h-6.8zM199.34 81.98h6.8v6.8h-6.8zM202.42 31.35h6.8v6.8h-6.8zM205.49 67.33h6.8v6.8h-6.8zM208.56 90.74h6.8v6.8h-6.8zM211.64 59.95h6.8v6.8h-6.8zM214.71 145.76h6.8v6.8h-6.8zM217.78 145.76h6.8v6.8h-6.8zM220.86 87.86h6.8v6.8h-6.8zM223.93 39.77h6.8v6.8h-6.8zM227 136.99h6.8v6.8h-6.8zM230.07 65.83h6.8v6.8h-6.8zM233.15 84.98h6.8v6.8h-6.8zM236.22 30.65h6.8v6.8h-6.8zM239.29 30.65h6.8v6.8h-6.8zM242.37 83.13h6.8v6.8h-6.8zM245.44 30.65h6.8v6.8h-6.8zM248.51 133.3h6.8v6.8h-6.8zM251.59 49.45h6.8v6.8h-6.8zM254.66 142.88h6.8v6.8h-6.8zM257.73 91.55h6.8v6.8h-6.8zM260.81 66.64h6.8v6.8h-6.8zM263.88 98.93h6.8v6.8h-6.8zM266.95 66.64h6.8v6.8h-6.8zM270.02 49.45h6.8v6.8h-6.8zM273.1 145.76h6.8v6.8h-6.8zM276.17 81.29h6.8v6.8h-6.8zM279.24 145.76h6.8v6.8h-6.8zM282.32 138.49h6.8v6.8h-6.8zM285.39 160.41h6.8v6.8h-6.8zM288.46 48.99h6.8v6.8h-6.8zM291.54 66.64h6.8v6.8h-6.8zM294.61 66.64h6.8v6.8h-6.8zM297.68 30.65h6.8v6.8h-6.8zM300.75 68.83h6.8v6.8h-6.8zM303.83 84.17h6.8v6.8h-6.8zM306.9 30.65h6.8v6.8h-6.8zM309.97 57.76h6.8v6.8h-6.8zM313.05 54.18h6.8v6.8h-6.8zM316.12 48.99h6.8v6.8h-6.8zM319.19 160.87h6.8v6.8h-6.8zM322.27 98.93h6.8v6.8h-6.8zM325.34 87.17h6.8v6.8h-6.8zM328.41 48.99h6.8v6.8h-6.8zM331.48 150.95h6.8v6.8h-6.8zM334.56 145.76h6.8v6.8h-6.8zM337.63 133.3h6.8v6.8h-6.8zM340.7 133.3h6.8v6.8h-6.8zM343.78 89.36h6.8v6.8h-6.8zM346.85 76.9h6.8v6.8h-6.8zM349.92 45.3h6.8v6.8h-6.8zM353 151.64h6.8v6.8h-6.8zM356.07 145.76h6.8v6.8h-6.8zM359.14 87.86h6.8v6.8h-6.8zM362.21 93.05h6.8v6.8h-6.8zM365.29 54.18h6.8v6.8h-6.8zM368.36 98.93h6.8v6.8h-6.8zM371.43 127.42h6.8v6.8h-6.8zM374.51 98.93h6.8v6.8h-6.8zM377.58 85.67h6.8v6.8h-6.8zM380.65 133.3h6.8v6.8h-6.8zM383.73 45.3h6.8v6.8h-6.8zM386.8 31.12h6.8v6.8h-6.8zM389.87 55.57h6.8v6.8h-6.8zM392.94 54.18h6.8v6.8h-6.8zM396.02 93.05h6.8v6.8h-6.8zM399.09 145.76h6.8v6.8h-6.8zM402.16 54.18h6.8v6.8h-6.8zM405.24 31.12h6.8v6.8h-6.8zM408.31 40.23h6.8v6.8h-6.8zM411.38 31.12h6.8v6.8h-6.8zM414.46 57.76h6.8v6.8h-6.8zM417.53 48.99h6.8v6.8h-6.8zM420.6 76.9h6.8v6.8h-6.8zM423.67 31.12h6.8v6.8h-6.8zM426.75 66.64h6.8v6.8h-6.8zM429.82 107.7h6.8v6.8h-6.8zM432.89 138.49h6.8v6.8h-6.8zM435.97 148.76h6.8v6.8h-6.8zM439.04 65.83h6.8v6.8h-6.8zM442.11 150.95h6.8v6.8h-6.8zM445.19 48.99h6.8v6.8h-6.8zM448.26 138.49h6.8v6.8h-6.8zM451.33 81.29h6.8v6.8h-6.8zM454.4 31.12h6.8v6.8h-6.8zM457.48 66.64h6.8v6.8h-6.8zM460.55 57.76h6.8v6.8h-6.8zM463.62 102.51h6.8v6.8h-6.8zM466.7 54.18h6.8v6.8h-6.8zM469.77 90.51h6.8v6.8h-6.8zM472.84 98.93h6.8v6.8h-6.8zM475.92 133.3h6.8v6.8h-6.8zM478.99 31.12h6.8v6.8h-6.8zM482.06 79.79h6.8v6.8h-6.8zM485.13 99.28h6.8v6.8h-6.8zM488.21 136.99h6.8v6.8h-6.8zM491.28 48.99h6.8v6.8h-6.8zM494.35 80.48h6.8v6.8h-6.8zM497.43 56.37h6.8v6.8h-6.8zM500.5 48.99h6.8v6.8h-6.8zM503.57 138.49h6.8v6.8h-6.8zM506.65 145.76h6.8v6.8h-6.8zM509.72 66.64h6.8v6.8h-6.8zM512.79 66.64h6.8v6.8h-6.8zM515.86 48.99h6.8v6.8h-6.8zM518.94 45.3h6.8v6.8h-6.8zM522.01 48.99h6.8v6.8h-6.8zM525.08 45.3h6.8v6.8h-6.8zM528.16 145.76h6.8v6.8h-6.8zM531.23 31.12h6.8v6.8h-6.8zM534.3 48.99h6.8v6.8h-6.8zM537.38 55.57h6.8v6.8h-6.8zM540.45 54.18h6.8v6.8h-6.8zM543.52 138.49h6.8v6.8h-6.8zM546.59 145.76h6.8v6.8h-6.8zM549.67 66.64h6.8v6.8h-6.8zM552.74 40.23h6.8v6.8h-6.8zM555.81 48.99h6.8v6.8h-6.8zM558.89 87.86h6.8v6.8h-6.8zM561.96 138.49h6.8v6.8h-6.8zM565.03 133.3h6.8v6.8h-6.8zM568.11 57.07h6.8v6.8h-6.8zM571.18 146.34h6.8v6.8h-6.8zM574.25 84.63h6.8v6.8h-6.8zM577.32 146.34h6.8v6.8h-6.8zM580.4 31.12h6.8v6.8h-6.8zM583.47 146.34h6.8v6.8h-6.8zM586.54 54.64h6.8v6.8h-6.8zM589.62 139.42h6.8v6.8h-6.8zM592.69 43.8h6.8v6.8h-6.8zM595.76 133.19h6.8v6.8h-6.8zM598.84 138.84h6.8v6.8h-6.8zM601.91 146.34h6.8v6.8h-6.8zM604.98 57.76h6.8v6.8h-6.8zM608.05 145.64h6.8v6.8h-6.8zM611.13 45.3h6.8v6.8h-6.8zM614.2 138.84h6.8v6.8h-6.8z" fill="#000"/>
<path d="M6.07 179.4V45.47M9.15 179.4V144.31M12.22 179.4V67.96M15.29 179.4V39.24M18.37 179.4V44.32M21.44 179.4V153.77M24.51 179.4V144.31M27.58 179.4V51.58M30.66 179.4V98.99M33.73 179.4V143.28M36.8 179.4V63M39.88 179.4V142.82M42.95 179.4V165.19M46.02 179.4V64.04M49.09 179.4V49.39M52.17 179.4V36.71M55.24 179.4V66.46M58.31 179.4V39.24M61.39 179.4V144.31M64.46 179.4V91.03M67.53 179.4V46.51M70.61 179.4V69.12M73.68 179.4V64.04M76.75 179.4V144.31M79.83 179.4V40.28M82.9 179.4V143.51M85.97 179.4V144.31M89.04 179.4V49.39M92.12 179.4V67.39M95.19 179.4V144.31M98.26 179.4V68.89M101.34 179.4V143.51M104.41 179.4V96.57M107.48 179.4V141.32M110.55 179.4V38.21M113.63 179.4V143.51M116.7 179.4V94.72M119.77 179.4V64.5M122.85 179.4V64.04M125.92 179.4V66.23M128.99 179.4V47.2M132.07 179.4V61.5M135.14 179.4V45.82M138.21 179.4V63.35M141.28 179.4V66.23M144.36 179.4V49.39M147.43 179.4V142.82M150.5 179.4V44.66M153.58 179.4V62.08M156.65 179.4V143.28M159.72 179.4V62.08M162.8 179.4V142.82M165.87 179.4V41.44M168.94 179.4V63.35M172.01 179.4V63.35M175.09 179.4V75.23M178.16 179.4V141.78M181.23 179.4V142.82M184.31 179.4V144.31M187.38 179.4V64.04M190.45 179.4V142.12M193.53 179.4V88.84M196.6 179.4V94.72M199.67 179.4V89.53M202.75 179.4V79.38M205.82 179.4V45.47M208.89 179.4V66.46M211.96 179.4V89.88M215.04 179.4V60.35M218.11 179.4V142.82M221.18 179.4V154.46M224.26 179.4V94.26M227.33 179.4V48.7M230.4 179.4V141.32M233.47 179.4V65.89M236.55 179.4V80.53M239.62 179.4V40.28M242.69 179.4V45.01M245.77 179.4V91.72M248.84 179.4V38.55M251.91 179.4V143.51M254.99 179.4V41.44M258.06 179.4V144.31M261.13 179.4V88.15M264.2 179.4V65.54M267.28 179.4V91.38M270.35 179.4V70.62M273.42 179.4V40.28M276.5 179.4V144.31M279.57 179.4V85.95M282.64 179.4V144.31M285.72 179.4V142.82M288.79 179.4V164.04M291.86 179.4V50.89M294.94 179.4V65.54M298.01 179.4V70.85M301.08 179.4V37.28M304.15 179.4V64.04M307.23 179.4V91.38M310.3 179.4V40.28M313.37 179.4V67.39M316.45 179.4V66.92M319.52 179.4V63M322.59 179.4V163.69M325.67 179.4V90.34M328.74 179.4V88.15M331.81 179.4V63M334.88 179.4V150.08M337.96 179.4V144.31M341.03 179.4V143.28M344.1 179.4V141.32M347.18 179.4V91.38M350.25 179.4V63.58M353.32 179.4V76.15M356.39 179.4V154M359.47 179.4V144.31M362.54 179.4V91.38M365.61 179.4V96.1M368.69 179.4V63.58M371.76 179.4V95.41M374.83 179.4V141.32M377.91 179.4V87.34M380.98 179.4V95.41M384.05 179.4V142.82M387.12 179.4V57.7M390.2 179.4V41.44M393.27 179.4V88.15M396.34 179.4V66.92M399.42 179.4V83.99M402.49 179.4V144.31M405.56 179.4V58.16M408.64 179.4V39.24M411.71 179.4V46.51M414.78 179.4V41.44M417.86 179.4V58.97M420.93 179.4V55.74M424 179.4V63.58M427.07 179.4V44.66M430.15 179.4V63.35M433.22 179.4V87.34" stroke="#cbcbcb" stroke-width="1.1" fill="none"/>
<path d="M436.29 179.4V142.82M439.37 179.4V150.08M442.44 179.4V69.46M445.51 179.4V153.43M448.58 179.4V50.89M451.66 179.4V143.51M454.73 179.4V85.95M457.8 179.4V40.28M460.88 179.4V75.69M463.95 179.4V82.61M467.02 179.4V86.65M470.1 179.4V61.16M473.17 179.4V90.68M476.24 179.4V87.8M479.31 179.4V142.82M482.39 179.4V39.71M485.46 179.4V78.57M488.53 179.4V94.72M491.61 179.4V142.82M494.68 179.4V48.47M497.75 179.4V63.35M500.83 179.4V68.42M503.9 179.4V35.32M506.97 179.4V141.32M510.05 179.4V143.28M513.12 179.4V66.92M516.19 179.4V74.19M519.26 179.4V50.43M522.34 179.4V48.7M525.41 179.4V51.58" stroke="#86b2de" stroke-width="1.2" fill="none"/>
<path d="M528.48 179.4V51.58M531.56 179.4V143.85M534.63 179.4V37.28M537.7 179.4V57.12M540.77 179.4V61.16M543.85 179.4V44.32M546.92 179.4V143.51M549.99 179.4V144.2M553.07 179.4V67.27M556.14 179.4V46.86M559.21 179.4V54.24M562.29 179.4V91.49M565.36 179.4V144.2M568.43 179.4V144.2M571.5 179.4V67.27M574.58 179.4V144.78M577.65 179.4V89.65M580.72 179.4V144.2M583.8 179.4V41.2M586.87 179.4V143.51M589.94 179.4V67.27M593.02 179.4V142.35M596.09 179.4V42.47M599.16 179.4V142.93M602.24 179.4V142.35M605.31 179.4V143.51M608.38 179.4V69.12M611.45 179.4V142.93M614.53 179.4V46.86M617.6 179.4V142.93" stroke="#e2e35a" stroke-width="1.2" fill="none"/>
<circle cx="6.07" cy="45.47" r="3.6" fill="url(#gMLCStr)"/>
<circle cx="9.15" cy="144.31" r="3.6" fill="url(#gMLCStr)"/>
<circle cx="12.22" cy="67.96" r="3.6" fill="url(#gMLCStr)"/>
<circle cx="15.29" cy="39.24" r="3.6" fill="url(#gMLCStr)"/>
<circle cx="18.37" cy="44.32" r="3.6" fill="url(#gMLCStr)"/>
<circle cx="21.44" cy="153.77" r="3.6" fill="url(#gMLCStr)"/>
<circle cx="24.51" cy="144.31" r="3.6" fill="url(#gMLCStr)"/>
<circle cx="27.58" cy="51.58" r="3.6" fill="url(#gMLCStr)"/>
<circle cx="30.66" cy="98.99" r="3.6" fill="url(#gMLCStr)"/>
<circle cx="33.73" cy="143.28" r="3.6" fill="url(#gMLCStr)"/>
<circle cx="36.8" cy="63" r="3.6" fill="url(#gMLCStr)"/>
<circle cx="39.88" cy="142.82" r="3.6" fill="url(#gMLCStr)"/>
<circle cx="42.95" cy="165.19" r="3.6" fill="url(#gMLCStr)"/>
<circle cx="46.02" cy="64.04" r="3.6" fill="url(#gMLCStr)"/>
<circle cx="49.09" cy="49.39" r="3.6" fill="url(#gMLCStr)"/>
<circle cx="52.17" cy="36.71" r="3.6" fill="url(#gMLCStr)"/>
<circle cx="55.24" cy="66.46" r="3.6" fill="url(#gMLCStr)"/>
<circle cx="58.31" cy="39.24" r="3.6" fill="url(#gMLCStr)"/>
<circle cx="61.39" cy="144.31" r="3.6" fill="url(#gMLCStr)"/>
<circle cx="64.46" cy="91.03" r="3.6" fill="url(#gMLCStr)"/>
<circle cx="67.53" cy="46.51" r="3.6" fill="url(#gMLCStr)"/>
<circle cx="70.61" cy="69.12" r="3.6" fill="url(#gMLCStr)"/>
<circle cx="73.68" cy="64.04" r="3.6" fill="url(#gMLCStr)"/>
<circle cx="76.75" cy="144.31" r="3.6" fill="url(#gMLCStr)"/>
<circle cx="79.83" cy="40.28" r="3.6" fill="url(#gMLCStr)"/>
<circle cx="82.9" cy="143.51" r="3.6" fill="url(#gMLCStr)"/>
<circle cx="85.97" cy="144.31" r="3.6" fill="url(#gMLCStr)"/>
<circle cx="89.04" cy="49.39" r="3.6" fill="url(#gMLCStr)"/>
<circle cx="92.12" cy="67.39" r="3.6" fill="url(#gMLCStr)"/>
<circle cx="95.19" cy="144.31" r="3.6" fill="url(#gMLCStr)"/>
<circle cx="98.26" cy="68.89" r="3.6" fill="url(#gMLCStr)"/>
<circle cx="101.34" cy="143.51" r="3.6" fill="url(#gMLCStr)"/>
<circle cx="104.41" cy="96.57" r="3.6" fill="url(#gMLCStr)"/>
<circle cx="107.48" cy="141.32" r="3.6" fill="url(#gMLCStr)"/>
<circle cx="110.55" cy="38.21" r="3.6" fill="url(#gMLCStr)"/>
<circle cx="113.63" cy="143.51" r="3.6" fill="url(#gMLCStr)"/>
<circle cx="116.7" cy="94.72" r="3.6" fill="url(#gMLCStr)"/>
<circle cx="119.77" cy="64.5" r="3.6" fill="url(#gMLCStr)"/>
<circle cx="122.85" cy="64.04" r="3.6" fill="url(#gMLCStr)"/>
<circle cx="125.92" cy="66.23" r="3.6" fill="url(#gMLCStr)"/>
<circle cx="128.99" cy="47.2" r="3.6" fill="url(#gMLCStr)"/>
<circle cx="132.07" cy="61.5" r="3.6" fill="url(#gMLCStr)"/>
<circle cx="135.14" cy="45.82" r="3.6" fill="url(#gMLCStr)"/>
<circle cx="138.21" cy="63.35" r="3.6" fill="url(#gMLCStr)"/>
<circle cx="141.28" cy="66.23" r="3.6" fill="url(#gMLCStr)"/>
<circle cx="144.36" cy="49.39" r="3.6" fill="url(#gMLCStr)"/>
<circle cx="147.43" cy="142.82" r="3.6" fill="url(#gMLCStr)"/>
<circle cx="150.5" cy="44.66" r="3.6" fill="url(#gMLCStr)"/>
<circle cx="153.58" cy="62.08" r="3.6" fill="url(#gMLCStr)"/>
<circle cx="156.65" cy="143.28" r="3.6" fill="url(#gMLCStr)"/>
<circle cx="159.72" cy="62.08" r="3.6" fill="url(#gMLCStr)"/>
<circle cx="162.8" cy="142.82" r="3.6" fill="url(#gMLCStr)"/>
<circle cx="165.87" cy="41.44" r="3.6" fill="url(#gMLCStr)"/>
<circle cx="168.94" cy="63.35" r="3.6" fill="url(#gMLCStr)"/>
<circle cx="172.01" cy="63.35" r="3.6" fill="url(#gMLCStr)"/>
<circle cx="175.09" cy="75.23" r="3.6" fill="url(#gMLCStr)"/>
<circle cx="178.16" cy="141.78" r="3.6" fill="url(#gMLCStr)"/>
<circle cx="181.23" cy="142.82" r="3.6" fill="url(#gMLCStr)"/>
<circle cx="184.31" cy="144.31" r="3.6" fill="url(#gMLCStr)"/>
<circle cx="187.38" cy="64.04" r="3.6" fill="url(#gMLCStr)"/>
<circle cx="190.45" cy="142.12" r="3.6" fill="url(#gMLCStr)"/>
<circle cx="193.53" cy="88.84" r="3.6" fill="url(#gMLCStr)"/>
<circle cx="196.6" cy="94.72" r="3.6" fill="url(#gMLCStr)"/>
<circle cx="199.67" cy="89.53" r="3.6" fill="url(#gMLCStr)"/>
<circle cx="202.75" cy="79.38" r="3.6" fill="url(#gMLCStr)"/>
<circle cx="205.82" cy="45.47" r="3.6" fill="url(#gMLCStr)"/>
<circle cx="208.89" cy="66.46" r="3.6" fill="url(#gMLCStr)"/>
<circle cx="211.96" cy="89.88" r="3.6" fill="url(#gMLCStr)"/>
<circle cx="215.04" cy="60.35" r="3.6" fill="url(#gMLCStr)"/>
<circle cx="218.11" cy="142.82" r="3.6" fill="url(#gMLCStr)"/>
<circle cx="221.18" cy="154.46" r="3.6" fill="url(#gMLCStr)"/>
<circle cx="224.26" cy="94.26" r="3.6" fill="url(#gMLCStr)"/>
<circle cx="227.33" cy="48.7" r="3.6" fill="url(#gMLCStr)"/>
<circle cx="230.4" cy="141.32" r="3.6" fill="url(#gMLCStr)"/>
<circle cx="233.47" cy="65.89" r="3.6" fill="url(#gMLCStr)"/>
<circle cx="236.55" cy="80.53" r="3.6" fill="url(#gMLCStr)"/>
<circle cx="239.62" cy="40.28" r="3.6" fill="url(#gMLCStr)"/>
<circle cx="242.69" cy="45.01" r="3.6" fill="url(#gMLCStr)"/>
<circle cx="245.77" cy="91.72" r="3.6" fill="url(#gMLCStr)"/>
<circle cx="248.84" cy="38.55" r="3.6" fill="url(#gMLCStr)"/>
<circle cx="251.91" cy="143.51" r="3.6" fill="url(#gMLCStr)"/>
<circle cx="254.99" cy="41.44" r="3.6" fill="url(#gMLCStr)"/>
<circle cx="258.06" cy="144.31" r="3.6" fill="url(#gMLCStr)"/>
<circle cx="261.13" cy="88.15" r="3.6" fill="url(#gMLCStr)"/>
<circle cx="264.2" cy="65.54" r="3.6" fill="url(#gMLCStr)"/>
<circle cx="267.28" cy="91.38" r="3.6" fill="url(#gMLCStr)"/>
<circle cx="270.35" cy="70.62" r="3.6" fill="url(#gMLCStr)"/>
<circle cx="273.42" cy="40.28" r="3.6" fill="url(#gMLCStr)"/>
<circle cx="276.5" cy="144.31" r="3.6" fill="url(#gMLCStr)"/>
<circle cx="279.57" cy="85.95" r="3.6" fill="url(#gMLCStr)"/>
<circle cx="282.64" cy="144.31" r="3.6" fill="url(#gMLCStr)"/>
<circle cx="285.72" cy="142.82" r="3.6" fill="url(#gMLCStr)"/>
<circle cx="288.79" cy="164.04" r="3.6" fill="url(#gMLCStr)"/>
<circle cx="291.86" cy="50.89" r="3.6" fill="url(#gMLCStr)"/>
<circle cx="294.94" cy="65.54" r="3.6" fill="url(#gMLCStr)"/>
<circle cx="298.01" cy="70.85" r="3.6" fill="url(#gMLCStr)"/>
<circle cx="301.08" cy="37.28" r="3.6" fill="url(#gMLCStr)"/>
<circle cx="304.15" cy="64.04" r="3.6" fill="url(#gMLCStr)"/>
<circle cx="307.23" cy="91.38" r="3.6" fill="url(#gMLCStr)"/>
<circle cx="310.3" cy="40.28" r="3.6" fill="url(#gMLCStr)"/>
<circle cx="313.37" cy="67.39" r="3.6" fill="url(#gMLCStr)"/>
<circle cx="316.45" cy="66.92" r="3.6" fill="url(#gMLCStr)"/>
<circle cx="319.52" cy="63" r="3.6" fill="url(#gMLCStr)"/>
<circle cx="322.59" cy="163.69" r="3.6" fill="url(#gMLCStr)"/>
<circle cx="325.67" cy="90.34" r="3.6" fill="url(#gMLCStr)"/>
<circle cx="328.74" cy="88.15" r="3.6" fill="url(#gMLCStr)"/>
<circle cx="331.81" cy="63" r="3.6" fill="url(#gMLCStr)"/>
<circle cx="334.88" cy="150.08" r="3.6" fill="url(#gMLCStr)"/>
<circle cx="337.96" cy="144.31" r="3.6" fill="url(#gMLCStr)"/>
<circle cx="341.03" cy="143.28" r="3.6" fill="url(#gMLCStr)"/>
<circle cx="344.1" cy="141.32" r="3.6" fill="url(#gMLCStr)"/>
<circle cx="347.18" cy="91.38" r="3.6" fill="url(#gMLCStr)"/>
<circle cx="350.25" cy="63.58" r="3.6" fill="url(#gMLCStr)"/>
<circle cx="353.32" cy="76.15" r="3.6" fill="url(#gMLCStr)"/>
<circle cx="356.39" cy="154" r="3.6" fill="url(#gMLCStr)"/>
<circle cx="359.47" cy="144.31" r="3.6" fill="url(#gMLCStr)"/>
<circle cx="362.54" cy="91.38" r="3.6" fill="url(#gMLCStr)"/>
<circle cx="365.61" cy="96.1" r="3.6" fill="url(#gMLCStr)"/>
<circle cx="368.69" cy="63.58" r="3.6" fill="url(#gMLCStr)"/>
<circle cx="371.76" cy="95.41" r="3.6" fill="url(#gMLCStr)"/>
<circle cx="374.83" cy="141.32" r="3.6" fill="url(#gMLCStr)"/>
<circle cx="377.91" cy="87.34" r="3.6" fill="url(#gMLCStr)"/>
<circle cx="380.98" cy="95.41" r="3.6" fill="url(#gMLCStr)"/>
<circle cx="384.05" cy="142.82" r="3.6" fill="url(#gMLCStr)"/>
<circle cx="387.12" cy="57.7" r="3.6" fill="url(#gMLCStr)"/>
<circle cx="390.2" cy="41.44" r="3.6" fill="url(#gMLCStr)"/>
<circle cx="393.27" cy="88.15" r="3.6" fill="url(#gMLCStr)"/>
<circle cx="396.34" cy="66.92" r="3.6" fill="url(#gMLCStr)"/>
<circle cx="399.42" cy="83.99" r="3.6" fill="url(#gMLCStr)"/>
<circle cx="402.49" cy="144.31" r="3.6" fill="url(#gMLCStr)"/>
<circle cx="405.56" cy="58.16" r="3.6" fill="url(#gMLCStr)"/>
<circle cx="408.64" cy="39.24" r="3.6" fill="url(#gMLCStr)"/>
<circle cx="411.71" cy="46.51" r="3.6" fill="url(#gMLCStr)"/>
<circle cx="414.78" cy="41.44" r="3.6" fill="url(#gMLCStr)"/>
<circle cx="417.86" cy="58.97" r="3.6" fill="url(#gMLCStr)"/>
<circle cx="420.93" cy="55.74" r="3.6" fill="url(#gMLCStr)"/>
<circle cx="424" cy="63.58" r="3.6" fill="url(#gMLCStr)"/>
<circle cx="427.07" cy="44.66" r="3.6" fill="url(#gMLCStr)"/>
<circle cx="430.15" cy="63.35" r="3.6" fill="url(#gMLCStr)"/>
<circle cx="433.22" cy="87.34" r="3.6" fill="url(#gMLCStr)"/>
<circle cx="436.29" cy="142.82" r="3.6" fill="url(#gMLCSva)"/>
<circle cx="439.37" cy="150.08" r="3.6" fill="url(#gMLCSva)"/>
<circle cx="442.44" cy="69.46" r="3.6" fill="url(#gMLCSva)"/>
<circle cx="445.51" cy="153.43" r="3.6" fill="url(#gMLCSva)"/>
<circle cx="448.58" cy="50.89" r="3.6" fill="url(#gMLCSva)"/>
<circle cx="451.66" cy="143.51" r="3.6" fill="url(#gMLCSva)"/>
<circle cx="454.73" cy="85.95" r="3.6" fill="url(#gMLCSva)"/>
<circle cx="457.8" cy="40.28" r="3.6" fill="url(#gMLCSva)"/>
<circle cx="460.88" cy="75.69" r="3.6" fill="url(#gMLCSva)"/>
<circle cx="463.95" cy="82.61" r="3.6" fill="url(#gMLCSva)"/>
<circle cx="467.02" cy="86.65" r="3.6" fill="url(#gMLCSva)"/>
<circle cx="470.1" cy="61.16" r="3.6" fill="url(#gMLCSva)"/>
<circle cx="473.17" cy="90.68" r="3.6" fill="url(#gMLCSva)"/>
<circle cx="476.24" cy="87.8" r="3.6" fill="url(#gMLCSva)"/>
<circle cx="479.31" cy="142.82" r="3.6" fill="url(#gMLCSva)"/>
<circle cx="482.39" cy="39.71" r="3.6" fill="url(#gMLCSva)"/>
<circle cx="485.46" cy="78.57" r="3.6" fill="url(#gMLCSva)"/>
<circle cx="488.53" cy="94.72" r="3.6" fill="url(#gMLCSva)"/>
<circle cx="491.61" cy="142.82" r="3.6" fill="url(#gMLCSva)"/>
<circle cx="494.68" cy="48.47" r="3.6" fill="url(#gMLCSva)"/>
<circle cx="497.75" cy="63.35" r="3.6" fill="url(#gMLCSva)"/>
<circle cx="500.83" cy="68.42" r="3.6" fill="url(#gMLCSva)"/>
<circle cx="503.9" cy="35.32" r="3.6" fill="url(#gMLCSva)"/>
<circle cx="506.97" cy="141.32" r="3.6" fill="url(#gMLCSva)"/>
<circle cx="510.05" cy="143.28" r="3.6" fill="url(#gMLCSva)"/>
<circle cx="513.12" cy="66.92" r="3.6" fill="url(#gMLCSva)"/>
<circle cx="516.19" cy="74.19" r="3.6" fill="url(#gMLCSva)"/>
<circle cx="519.26" cy="50.43" r="3.6" fill="url(#gMLCSva)"/>
<circle cx="522.34" cy="48.7" r="3.6" fill="url(#gMLCSva)"/>
<circle cx="525.41" cy="51.58" r="3.6" fill="url(#gMLCSva)"/>
<circle cx="528.48" cy="51.58" r="3.6" fill="url(#gMLCSte)"/>
<circle cx="531.56" cy="143.85" r="3.6" fill="url(#gMLCSte)"/>
<circle cx="534.63" cy="37.28" r="3.6" fill="url(#gMLCSte)"/>
<circle cx="537.7" cy="57.12" r="3.6" fill="url(#gMLCSte)"/>
<circle cx="540.77" cy="61.16" r="3.6" fill="url(#gMLCSte)"/>
<circle cx="543.85" cy="44.32" r="3.6" fill="url(#gMLCSte)"/>
<circle cx="546.92" cy="143.51" r="3.6" fill="url(#gMLCSte)"/>
<circle cx="549.99" cy="144.2" r="3.6" fill="url(#gMLCSte)"/>
<circle cx="553.07" cy="67.27" r="3.6" fill="url(#gMLCSte)"/>
<circle cx="556.14" cy="46.86" r="3.6" fill="url(#gMLCSte)"/>
<circle cx="559.21" cy="54.24" r="3.6" fill="url(#gMLCSte)"/>
<circle cx="562.29" cy="91.49" r="3.6" fill="url(#gMLCSte)"/>
<circle cx="565.36" cy="144.2" r="3.6" fill="url(#gMLCSte)"/>
<circle cx="568.43" cy="144.2" r="3.6" fill="url(#gMLCSte)"/>
<circle cx="571.5" cy="67.27" r="3.6" fill="url(#gMLCSte)"/>
<circle cx="574.58" cy="144.78" r="3.6" fill="url(#gMLCSte)"/>
<circle cx="577.65" cy="89.65" r="3.6" fill="url(#gMLCSte)"/>
<circle cx="580.72" cy="144.2" r="3.6" fill="url(#gMLCSte)"/>
<circle cx="583.8" cy="41.2" r="3.6" fill="url(#gMLCSte)"/>
<circle cx="586.87" cy="143.51" r="3.6" fill="url(#gMLCSte)"/>
<circle cx="589.94" cy="67.27" r="3.6" fill="url(#gMLCSte)"/>
<circle cx="593.02" cy="142.35" r="3.6" fill="url(#gMLCSte)"/>
<circle cx="596.09" cy="42.47" r="3.6" fill="url(#gMLCSte)"/>
<circle cx="599.16" cy="142.93" r="3.6" fill="url(#gMLCSte)"/>
<circle cx="602.24" cy="142.35" r="3.6" fill="url(#gMLCSte)"/>
<circle cx="605.31" cy="143.51" r="3.6" fill="url(#gMLCSte)"/>
<circle cx="608.38" cy="69.12" r="3.6" fill="url(#gMLCSte)"/>
<circle cx="611.45" cy="142.93" r="3.6" fill="url(#gMLCSte)"/>
<circle cx="614.53" cy="46.86" r="3.6" fill="url(#gMLCSte)"/>
<circle cx="617.6" cy="142.93" r="3.6" fill="url(#gMLCSte)"/>
<path d="M-7.0 5.8H0M-3.8 23.1H0M-7.0 40.4H0M-3.8 57.7H0M-7.0 75H0M-3.8 92.3H0M-7.0 109.6H0M-3.8 126.9H0M-7.0 144.2H0M-3.8 161.5H0M-7.0 178.8H0M3 178.8v7.0M49.09 178.8v3.8M95.19 178.8v7.0M141.28 178.8v3.8M187.38 178.8v7.0M233.47 178.8v3.8M279.57 178.8v7.0M325.67 178.8v3.8M371.76 178.8v7.0M417.86 178.8v3.8M463.95 178.8v7.0M510.05 178.8v3.8M556.14 178.8v7.0M602.24 178.8v3.8" stroke="#000" stroke-width="1.1" fill="none"/>
<rect x="8.0" y="8.3" width="194.8" height="12.3" fill="#d9d9d9"/>
<rect x="5.0" y="5.3" width="194.8" height="12.3" fill="#fff" stroke="#a6a6a6" stroke-width="0.8"/>
<rect x="13.6" y="8.15" width="6.6" height="6.6" fill="#000"/>
<text x="26.6" y="15.15" font-size="8.7">Measured</text>
<circle cx="71.5" cy="11.45" r="3.7" fill="url(#gMLCStr)"/>
<text x="81.6" y="15.15" font-size="8.7">Train</text>
<circle cx="111.0" cy="11.45" r="3.7" fill="url(#gMLCSva)"/>
<text x="123.6" y="15.15" font-size="8.7">Validation</text>
<circle cx="169.7" cy="11.45" r="3.7" fill="url(#gMLCSte)"/>
<text x="182.6" y="15.15" font-size="8.7">Test</text>
<rect x="210.8" y="8.3" width="39.7" height="13.0" fill="#d9d9d9"/>
<rect x="207.8" y="5.3" width="39.7" height="13.0" fill="#fff" stroke="#a6a6a6" stroke-width="0.8"/>
<text x="227.65" y="15.25" text-anchor="middle" font-size="9.1">MLCS (1)</text>
</g>
<g transform="translate(60.4,477.9) scale(1.00000,1)">
<text transform="translate(-11.9,10.2) scale(1,1.0006)" text-anchor="end" font-size="14.2">1800</text>
<text transform="translate(-11.9,44.82) scale(1,1.0006)" text-anchor="end" font-size="14.2">1500</text>
<text transform="translate(-11.9,79.44) scale(1,1.0006)" text-anchor="end" font-size="14.2">1200</text>
<text transform="translate(-11.9,114.06) scale(1,1.0006)" text-anchor="end" font-size="14.2">900</text>
<text transform="translate(-11.9,148.68) scale(1,1.0006)" text-anchor="end" font-size="14.2">600</text>
<text transform="translate(-11.9,183.3) scale(1,1.0006)" text-anchor="end" font-size="14.2">300</text>
<text transform="translate(3,201.91) scale(1,1.0006)" text-anchor="middle" font-size="14.2">0</text>
<text transform="translate(95.19,201.91) scale(1,1.0006)" text-anchor="middle" font-size="14.2">30</text>
<text transform="translate(187.38,201.91) scale(1,1.0006)" text-anchor="middle" font-size="14.2">60</text>
<text transform="translate(279.57,201.91) scale(1,1.0006)" text-anchor="middle" font-size="14.2">90</text>
<text transform="translate(371.76,201.91) scale(1,1.0006)" text-anchor="middle" font-size="14.2">120</text>
<text transform="translate(463.95,201.91) scale(1,1.0006)" text-anchor="middle" font-size="14.2">150</text>
<text transform="translate(556.14,201.91) scale(1,1.0006)" text-anchor="middle" font-size="14.2">180</text>
<text transform="translate(311.7,217.52) scale(1,1.0006)" text-anchor="middle" font-size="16">Sample Number</text>
<text transform="translate(-47.9,89.45) scale(1,1.0006) rotate(-90)" text-anchor="middle" font-size="16.6">P<tspan font-size="11.4" dy="3.6">u</tspan><tspan dy="-3.6"> (kN)</tspan></text>
</g>
<g transform="translate(60.4,718.8) scale(1.00000,0.99888)">
<rect x="0" y="0" width="623.4" height="178.8" fill="none" stroke="#000" stroke-width="1.2"/>
<path d="M9.15 142.71V138.6M15.29 32.56V30.87M18.37 40.16V39.31M24.51 134.8V132.37M27.58 40.9V39.31M30.66 103.68V101.04M33.73 125.2V124.46M36.8 47.75V47.33M52.17 34.99V30.87M55.24 57.67V55.35M61.39 129V124.46M67.53 41.63V39.31M70.61 64.95V63.48M79.83 31.61V31.19M82.9 134.38V130.58M85.97 131.43V129.74M89.04 52.92V47.33M101.34 132.9V129.21M107.48 130.48V123.2M113.63 131.95V129.21M119.77 42.27V38.57M122.85 50.08V46.7M125.92 57.99V46.7M141.28 56.93V55.35M147.43 132.9V129.21M150.5 44.8V42.69M153.58 57.67V54.08M178.16 131.43V130.58M181.23 125.2V124.46M187.38 53.56V52.08M190.45 125.2V123.83M196.6 95.66V93.02M205.82 34.99V31.19M208.89 66.43V64.11M215.04 57.67V57.36M221.18 139.44V135.86M227.33 45.64V38.89M230.4 128.58V127.84M233.47 63.79V62.74M239.62 34.57V30.56M251.91 127.52V124.46M261.13 94.5V86.27M267.28 93.86V93.02M276.5 137.76V135.86M282.64 140.18V135.86M285.72 129.53V129.21M316.45 65.69V52.08M319.52 52.5V47.33M322.59 154.43V149.68M325.67 93.86V93.02M328.74 90.49V82.26M331.81 47.44V47.33M341.03 126.04V124.46M344.1 128.58V124.46M347.18 95.66V84.26M353.32 46.7V43.96M359.47 136.6V135.86M365.61 92.7V87.64M368.69 56.51V52.08M374.83 122.67V119.08M384.05 130.69V124.46M387.12 48.18V43.96M390.2 35.73V30.98M393.27 57.67V53.35M396.34 55.46V52.08M411.71 40.37V39.31M420.93 48.6V47.33M427.07 36.46V30.98M430.15 64.21V63.48M436.29 129.95V129.21M439.37 139.44V138.6M454.73 77.83V76.88M457.8 31.08V30.98M460.88 66.75V63.48M463.95 56.93V55.35M467.02 96.4V96.29M470.1 53.24V52.08M473.17 94.92V85.32M494.68 48.18V47.33M497.75 77.4V76.14M500.83 57.99V54.08M513.12 64.64V63.48M519.26 50.6V47.33M525.41 47.44V47.33M528.48 46.7V43.96M534.63 32.77V30.98M537.7 48.18V47.33M543.85 53.24V52.08M549.99 137.65V135.86M553.07 64.43V63.48M556.14 40.16V39.31M559.21 47.86V47.33M562.29 83.94V82.89M565.36 130.58V129.21M568.43 125.62V124.46M571.5 58.2V54.72M577.65 81.83V79.94M583.8 35.51V30.98M589.94 55.14V52.5M593.02 131.11V130.05M596.09 44.91V42.58M611.45 139.55V135.75" stroke="#333" stroke-width="0.9" fill="none"/>
<path d="M2.67 35.91h6.8v6.8h-6.8zM5.75 135.2h6.8v6.8h-6.8zM8.82 61.66h6.8v6.8h-6.8zM11.89 27.47h6.8v6.8h-6.8zM14.97 35.91h6.8v6.8h-6.8zM18.04 140.58h6.8v6.8h-6.8zM21.11 128.97h6.8v6.8h-6.8zM24.18 35.91h6.8v6.8h-6.8zM27.26 97.64h6.8v6.8h-6.8zM30.33 121.06h6.8v6.8h-6.8zM33.4 43.93h6.8v6.8h-6.8zM36.48 127.18h6.8v6.8h-6.8zM39.55 147.86h6.8v6.8h-6.8zM42.62 60.08h6.8v6.8h-6.8zM45.7 40.56h6.8v6.8h-6.8zM48.77 27.47h6.8v6.8h-6.8zM51.84 51.95h6.8v6.8h-6.8zM54.91 27.47h6.8v6.8h-6.8zM57.99 121.06h6.8v6.8h-6.8zM61.06 88.88h6.8v6.8h-6.8zM64.13 35.91h6.8v6.8h-6.8zM67.21 60.08h6.8v6.8h-6.8zM70.28 53.96h6.8v6.8h-6.8zM73.35 127.18h6.8v6.8h-6.8zM76.42 27.79h6.8v6.8h-6.8zM79.5 127.18h6.8v6.8h-6.8zM82.57 126.34h6.8v6.8h-6.8zM85.64 43.93h6.8v6.8h-6.8zM88.72 69.47h6.8v6.8h-6.8zM91.79 132.46h6.8v6.8h-6.8zM94.86 40.56h6.8v6.8h-6.8zM97.94 125.81h6.8v6.8h-6.8zM101.01 89.62h6.8v6.8h-6.8zM104.08 119.8h6.8v6.8h-6.8zM107.15 38.55h6.8v6.8h-6.8zM110.23 125.81h6.8v6.8h-6.8zM113.3 95.84h6.8v6.8h-6.8zM116.37 35.17h6.8v6.8h-6.8zM119.45 43.3h6.8v6.8h-6.8zM122.52 43.3h6.8v6.8h-6.8zM125.59 43.3h6.8v6.8h-6.8zM128.67 69.47h6.8v6.8h-6.8zM131.74 43.3h6.8v6.8h-6.8zM134.81 60.08h6.8v6.8h-6.8zM137.88 51.95h6.8v6.8h-6.8zM140.96 40.56h6.8v6.8h-6.8zM144.03 125.81h6.8v6.8h-6.8zM147.1 39.29h6.8v6.8h-6.8zM150.18 50.68h6.8v6.8h-6.8zM153.25 133.2h6.8v6.8h-6.8zM156.32 60.08h6.8v6.8h-6.8zM159.4 125.81h6.8v6.8h-6.8zM162.47 43.93h6.8v6.8h-6.8zM165.54 60.08h6.8v6.8h-6.8zM168.61 50.68h6.8v6.8h-6.8zM171.69 69.47h6.8v6.8h-6.8zM174.76 127.18h6.8v6.8h-6.8zM177.83 121.06h6.8v6.8h-6.8zM180.91 133.2h6.8v6.8h-6.8zM183.98 48.68h6.8v6.8h-6.8zM187.05 120.43h6.8v6.8h-6.8zM190.13 82.13h6.8v6.8h-6.8zM193.2 89.62h6.8v6.8h-6.8zM196.27 89.62h6.8v6.8h-6.8zM199.34 74.11h6.8v6.8h-6.8zM202.42 27.79h6.8v6.8h-6.8zM205.49 60.71h6.8v6.8h-6.8zM208.56 82.13h6.8v6.8h-6.8zM211.64 53.96h6.8v6.8h-6.8zM214.71 132.46h6.8v6.8h-6.8zM217.78 132.46h6.8v6.8h-6.8zM220.86 79.49h6.8v6.8h-6.8zM223.93 35.49h6.8v6.8h-6.8zM227 124.44h6.8v6.8h-6.8zM230.07 59.34h6.8v6.8h-6.8zM233.15 76.85h6.8v6.8h-6.8zM236.22 27.16h6.8v6.8h-6.8zM239.29 27.16h6.8v6.8h-6.8zM242.37 75.16h6.8v6.8h-6.8zM245.44 27.16h6.8v6.8h-6.8zM248.51 121.06h6.8v6.8h-6.8zM251.59 44.35h6.8v6.8h-6.8zM254.66 129.82h6.8v6.8h-6.8zM257.73 82.87h6.8v6.8h-6.8zM260.81 60.08h6.8v6.8h-6.8zM263.88 89.62h6.8v6.8h-6.8zM266.95 60.08h6.8v6.8h-6.8zM270.02 44.35h6.8v6.8h-6.8zM273.1 132.46h6.8v6.8h-6.8zM276.17 73.48h6.8v6.8h-6.8zM279.24 132.46h6.8v6.8h-6.8zM282.32 125.81h6.8v6.8h-6.8zM285.39 145.86h6.8v6.8h-6.8zM288.46 43.93h6.8v6.8h-6.8zM291.54 60.08h6.8v6.8h-6.8zM294.61 60.08h6.8v6.8h-6.8zM297.68 27.16h6.8v6.8h-6.8zM300.75 62.08h6.8v6.8h-6.8zM303.83 76.11h6.8v6.8h-6.8zM306.9 27.16h6.8v6.8h-6.8zM309.97 51.95h6.8v6.8h-6.8zM313.05 48.68h6.8v6.8h-6.8zM316.12 43.93h6.8v6.8h-6.8zM319.19 146.28h6.8v6.8h-6.8zM322.27 89.62h6.8v6.8h-6.8zM325.34 78.86h6.8v6.8h-6.8zM328.41 43.93h6.8v6.8h-6.8zM331.48 137.2h6.8v6.8h-6.8zM334.56 132.46h6.8v6.8h-6.8zM337.63 121.06h6.8v6.8h-6.8zM340.7 121.06h6.8v6.8h-6.8zM343.78 80.86h6.8v6.8h-6.8zM346.85 69.47h6.8v6.8h-6.8zM349.92 40.56h6.8v6.8h-6.8zM353 137.84h6.8v6.8h-6.8zM356.07 132.46h6.8v6.8h-6.8zM359.14 79.49h6.8v6.8h-6.8zM362.21 84.24h6.8v6.8h-6.8zM365.29 48.68h6.8v6.8h-6.8zM368.36 89.62h6.8v6.8h-6.8zM371.43 115.68h6.8v6.8h-6.8zM374.51 89.62h6.8v6.8h-6.8zM377.58 77.48h6.8v6.8h-6.8zM380.65 121.06h6.8v6.8h-6.8zM383.73 40.56h6.8v6.8h-6.8zM386.8 27.58h6.8v6.8h-6.8zM389.87 49.95h6.8v6.8h-6.8zM392.94 48.68h6.8v6.8h-6.8zM396.02 84.24h6.8v6.8h-6.8zM399.09 132.46h6.8v6.8h-6.8zM402.16 48.68h6.8v6.8h-6.8zM405.24 27.58h6.8v6.8h-6.8zM408.31 35.91h6.8v6.8h-6.8zM411.38 27.58h6.8v6.8h-6.8zM414.46 51.95h6.8v6.8h-6.8zM417.53 43.93h6.8v6.8h-6.8zM420.6 69.47h6.8v6.8h-6.8zM423.67 27.58h6.8v6.8h-6.8zM426.75 60.08h6.8v6.8h-6.8zM429.82 97.64h6.8v6.8h-6.8zM432.89 125.81h6.8v6.8h-6.8zM435.97 135.2h6.8v6.8h-6.8zM439.04 59.34h6.8v6.8h-6.8zM442.11 137.2h6.8v6.8h-6.8zM445.19 43.93h6.8v6.8h-6.8zM448.26 125.81h6.8v6.8h-6.8zM451.33 73.48h6.8v6.8h-6.8zM454.4 27.58h6.8v6.8h-6.8zM457.48 60.08h6.8v6.8h-6.8zM460.55 51.95h6.8v6.8h-6.8zM463.62 92.89h6.8v6.8h-6.8zM466.7 48.68h6.8v6.8h-6.8zM469.77 81.92h6.8v6.8h-6.8zM472.84 89.62h6.8v6.8h-6.8zM475.92 121.06h6.8v6.8h-6.8zM478.99 27.58h6.8v6.8h-6.8zM482.06 72.1h6.8v6.8h-6.8zM485.13 89.94h6.8v6.8h-6.8zM488.21 124.44h6.8v6.8h-6.8zM491.28 43.93h6.8v6.8h-6.8zM494.35 72.74h6.8v6.8h-6.8zM497.43 50.68h6.8v6.8h-6.8zM500.5 43.93h6.8v6.8h-6.8zM503.57 125.81h6.8v6.8h-6.8zM506.65 132.46h6.8v6.8h-6.8zM509.72 60.08h6.8v6.8h-6.8zM512.79 60.08h6.8v6.8h-6.8zM515.86 43.93h6.8v6.8h-6.8zM518.94 40.56h6.8v6.8h-6.8zM522.01 43.93h6.8v6.8h-6.8zM525.08 40.56h6.8v6.8h-6.8zM528.16 132.46h6.8v6.8h-6.8zM531.23 27.58h6.8v6.8h-6.8zM534.3 43.93h6.8v6.8h-6.8zM537.38 49.95h6.8v6.8h-6.8zM540.45 48.68h6.8v6.8h-6.8zM543.52 125.81h6.8v6.8h-6.8zM546.59 132.46h6.8v6.8h-6.8zM549.67 60.08h6.8v6.8h-6.8zM552.74 35.91h6.8v6.8h-6.8zM555.81 43.93h6.8v6.8h-6.8zM558.89 79.49h6.8v6.8h-6.8zM561.96 125.81h6.8v6.8h-6.8zM565.03 121.06h6.8v6.8h-6.8zM568.11 51.32h6.8v6.8h-6.8zM571.18 132.98h6.8v6.8h-6.8zM574.25 76.54h6.8v6.8h-6.8zM577.32 132.98h6.8v6.8h-6.8zM580.4 27.58h6.8v6.8h-6.8zM583.47 132.98h6.8v6.8h-6.8zM586.54 49.1h6.8v6.8h-6.8zM589.62 126.65h6.8v6.8h-6.8zM592.69 39.18h6.8v6.8h-6.8zM595.76 120.96h6.8v6.8h-6.8zM598.84 126.13h6.8v6.8h-6.8zM601.91 132.98h6.8v6.8h-6.8zM604.98 51.95h6.8v6.8h-6.8zM608.05 132.35h6.8v6.8h-6.8zM611.13 40.56h6.8v6.8h-6.8zM614.2 126.13h6.8v6.8h-6.8z" fill="#000"/>
<path d="M6.07 179.4V35.73M9.15 179.4V142.71M12.22 179.4V60.63M15.29 179.4V32.56M18.37 179.4V40.16M21.44 179.4V141.66M24.51 179.4V134.8M27.58 179.4V40.9M30.66 179.4V103.68M33.73 179.4V125.2M36.8 179.4V47.75M39.88 179.4V129.95M42.95 179.4V149.05M46.02 179.4V62M49.09 179.4V39M52.17 179.4V34.99M55.24 179.4V57.67M58.31 179.4V28.45M61.39 179.4V129M64.46 179.4V88.59M67.53 179.4V41.63M70.61 179.4V64.95M73.68 179.4V57.36M76.75 179.4V128.58M79.83 179.4V31.61M82.9 179.4V134.38M85.97 179.4V131.43M89.04 179.4V52.92M92.12 179.4V67.91M95.19 179.4V134.38M98.26 179.4V43.74M101.34 179.4V132.9M104.41 179.4V93.02M107.48 179.4V130.48M110.55 179.4V36.46M113.63 179.4V131.95M116.7 179.4V97.87M119.77 179.4V42.27M122.85 179.4V50.08M125.92 179.4V57.99M128.99 179.4V44.8M132.07 179.4V68.65M135.14 179.4V42.8M138.21 179.4V56.2M141.28 179.4V56.93M144.36 179.4V42.8M147.43 179.4V132.9M150.5 179.4V44.8M153.58 179.4V57.67M156.65 179.4V132.9M159.72 179.4V58.41M162.8 179.4V128.58M165.87 179.4V43.01M168.94 179.4V59.15M172.01 179.4V49.65M175.09 179.4V70.12M178.16 179.4V131.43M181.23 179.4V125.2M184.31 179.4V135.12M187.38 179.4V53.56M190.45 179.4V125.2M193.53 179.4V85.42M196.6 179.4V95.66M199.67 179.4V87.64M202.75 179.4V76.35M205.82 179.4V34.99M208.89 179.4V66.43M211.96 179.4V78.14M215.04 179.4V57.67M218.11 179.4V129.53M221.18 179.4V139.44M224.26 179.4V81.73M227.33 179.4V45.64M230.4 179.4V128.58M233.47 179.4V63.79M236.55 179.4V78.14M239.62 179.4V34.57M242.69 179.4V26.65M245.77 179.4V78.14M248.84 179.4V26.65M251.91 179.4V127.52M254.99 179.4V43.32M258.06 179.4V132.48M261.13 179.4V94.5M264.2 179.4V58.83M267.28 179.4V93.86M270.35 179.4V63.16M273.42 179.4V43.32M276.5 179.4V137.76M279.57 179.4V73.71M282.64 179.4V140.18M285.72 179.4V129.53M288.79 179.4V146.09M291.86 179.4V44.8M294.94 179.4V57.36M298.01 179.4V62.31M301.08 179.4V24.33M304.15 179.4V59.36M307.23 179.4V72.55M310.3 179.4V24.33M313.37 179.4V50.6M316.45 179.4V65.69M319.52 179.4V52.5M322.59 179.4V154.43M325.67 179.4V93.86M328.74 179.4V90.49M331.81 179.4V47.44M334.88 179.4V137.33M337.96 179.4V135.43M341.03 179.4V126.04M344.1 179.4V128.58M347.18 179.4V95.66M350.25 179.4V66.75M353.32 179.4V46.7M356.39 179.4V136.6M359.47 179.4V136.6M362.54 179.4V80.36M365.61 179.4V92.7M368.69 179.4V56.51M371.76 179.4V91.54M374.83 179.4V122.67M377.91 179.4V87.22M380.98 179.4V78.88M384.05 179.4V130.69M387.12 179.4V48.18M390.2 179.4V35.73M393.27 179.4V57.67M396.34 179.4V55.46M399.42 179.4V83.94M402.49 179.4V134.38M405.56 179.4V52.08M408.64 179.4V28.13M411.71 179.4V40.37M414.78 179.4V28.45M417.86 179.4V53.56M420.93 179.4V48.6M424 179.4V68.22M427.07 179.4V36.46M430.15 179.4V64.21M433.22 179.4V97.87" stroke="#f7a76f" stroke-width="1.3" fill="none"/>
<path d="M436.29 179.4V129.95M439.37 179.4V139.44M442.44 179.4V62M445.51 179.4V139.44M448.58 179.4V43.32M451.66 179.4V127.52M454.73 179.4V77.83M457.8 179.4V31.08M460.88 179.4V66.75M463.95 179.4V56.93M467.02 179.4V96.4M470.1 179.4V53.24M473.17 179.4V94.92M476.24 179.4V91.23M479.31 179.4V124.14M482.39 179.4V29.61M485.46 179.4V70.76M488.53 179.4V92.7M491.61 179.4V127.84M494.68 179.4V48.18M497.75 179.4V77.4M500.83 179.4V57.99M503.9 179.4V46.28M506.97 179.4V128.58M510.05 179.4V134.38M513.12 179.4V64.64M516.19 179.4V61.79M519.26 179.4V50.6M522.34 179.4V43.01M525.41 179.4V47.44" stroke="#d2b3ef" stroke-width="1.3" fill="none"/>
<path d="M528.48 179.4V46.7M531.56 179.4V135.12M534.63 179.4V32.77M537.7 179.4V48.18M540.77 179.4V53.24M543.85 179.4V53.24M546.92 179.4V128.37M549.99 179.4V137.65M553.07 179.4V64.43M556.14 179.4V40.16M559.21 179.4V47.86M562.29 179.4V83.94M565.36 179.4V130.58M568.43 179.4V125.62M571.5 179.4V58.2M574.58 179.4V134.59M577.65 179.4V81.83M580.72 179.4V136.38M583.8 179.4V35.51M586.87 179.4V133.11M589.94 179.4V55.14M593.02 179.4V131.11M596.09 179.4V44.91M599.16 179.4V124.36M602.24 179.4V128.15M605.31 179.4V135.22M608.38 179.4V48.28M611.45 179.4V139.55M614.53 179.4V40.79M617.6 179.4V125.62" stroke="#b0ea62" stroke-width="1.3" fill="none"/>
<circle cx="6.07" cy="35.73" r="3.6" fill="url(#gMLFOtr)"/>
<circle cx="9.15" cy="142.71" r="3.6" fill="url(#gMLFOtr)"/>
<circle cx="12.22" cy="60.63" r="3.6" fill="url(#gMLFOtr)"/>
<circle cx="15.29" cy="32.56" r="3.6" fill="url(#gMLFOtr)"/>
<circle cx="18.37" cy="40.16" r="3.6" fill="url(#gMLFOtr)"/>
<circle cx="21.44" cy="141.66" r="3.6" fill="url(#gMLFOtr)"/>
<circle cx="24.51" cy="134.8" r="3.6" fill="url(#gMLFOtr)"/>
<circle cx="27.58" cy="40.9" r="3.6" fill="url(#gMLFOtr)"/>
<circle cx="30.66" cy="103.68" r="3.6" fill="url(#gMLFOtr)"/>
<circle cx="33.73" cy="125.2" r="3.6" fill="url(#gMLFOtr)"/>
<circle cx="36.8" cy="47.75" r="3.6" fill="url(#gMLFOtr)"/>
<circle cx="39.88" cy="129.95" r="3.6" fill="url(#gMLFOtr)"/>
<circle cx="42.95" cy="149.05" r="3.6" fill="url(#gMLFOtr)"/>
<circle cx="46.02" cy="62" r="3.6" fill="url(#gMLFOtr)"/>
<circle cx="49.09" cy="39" r="3.6" fill="url(#gMLFOtr)"/>
<circle cx="52.17" cy="34.99" r="3.6" fill="url(#gMLFOtr)"/>
<circle cx="55.24" cy="57.67" r="3.6" fill="url(#gMLFOtr)"/>
<circle cx="58.31" cy="28.45" r="3.6" fill="url(#gMLFOtr)"/>
<circle cx="61.39" cy="129" r="3.6" fill="url(#gMLFOtr)"/>
<circle cx="64.46" cy="88.59" r="3.6" fill="url(#gMLFOtr)"/>
<circle cx="67.53" cy="41.63" r="3.6" fill="url(#gMLFOtr)"/>
<circle cx="70.61" cy="64.95" r="3.6" fill="url(#gMLFOtr)"/>
<circle cx="73.68" cy="57.36" r="3.6" fill="url(#gMLFOtr)"/>
<circle cx="76.75" cy="128.58" r="3.6" fill="url(#gMLFOtr)"/>
<circle cx="79.83" cy="31.61" r="3.6" fill="url(#gMLFOtr)"/>
<circle cx="82.9" cy="134.38" r="3.6" fill="url(#gMLFOtr)"/>
<circle cx="85.97" cy="131.43" r="3.6" fill="url(#gMLFOtr)"/>
<circle cx="89.04" cy="52.92" r="3.6" fill="url(#gMLFOtr)"/>
<circle cx="92.12" cy="67.91" r="3.6" fill="url(#gMLFOtr)"/>
<circle cx="95.19" cy="134.38" r="3.6" fill="url(#gMLFOtr)"/>
<circle cx="98.26" cy="43.74" r="3.6" fill="url(#gMLFOtr)"/>
<circle cx="101.34" cy="132.9" r="3.6" fill="url(#gMLFOtr)"/>
<circle cx="104.41" cy="93.02" r="3.6" fill="url(#gMLFOtr)"/>
<circle cx="107.48" cy="130.48" r="3.6" fill="url(#gMLFOtr)"/>
<circle cx="110.55" cy="36.46" r="3.6" fill="url(#gMLFOtr)"/>
<circle cx="113.63" cy="131.95" r="3.6" fill="url(#gMLFOtr)"/>
<circle cx="116.7" cy="97.87" r="3.6" fill="url(#gMLFOtr)"/>
<circle cx="119.77" cy="42.27" r="3.6" fill="url(#gMLFOtr)"/>
<circle cx="122.85" cy="50.08" r="3.6" fill="url(#gMLFOtr)"/>
<circle cx="125.92" cy="57.99" r="3.6" fill="url(#gMLFOtr)"/>
<circle cx="128.99" cy="44.8" r="3.6" fill="url(#gMLFOtr)"/>
<circle cx="132.07" cy="68.65" r="3.6" fill="url(#gMLFOtr)"/>
<circle cx="135.14" cy="42.8" r="3.6" fill="url(#gMLFOtr)"/>
<circle cx="138.21" cy="56.2" r="3.6" fill="url(#gMLFOtr)"/>
<circle cx="141.28" cy="56.93" r="3.6" fill="url(#gMLFOtr)"/>
<circle cx="144.36" cy="42.8" r="3.6" fill="url(#gMLFOtr)"/>
<circle cx="147.43" cy="132.9" r="3.6" fill="url(#gMLFOtr)"/>
<circle cx="150.5" cy="44.8" r="3.6" fill="url(#gMLFOtr)"/>
<circle cx="153.58" cy="57.67" r="3.6" fill="url(#gMLFOtr)"/>
<circle cx="156.65" cy="132.9" r="3.6" fill="url(#gMLFOtr)"/>
<circle cx="159.72" cy="58.41" r="3.6" fill="url(#gMLFOtr)"/>
<circle cx="162.8" cy="128.58" r="3.6" fill="url(#gMLFOtr)"/>
<circle cx="165.87" cy="43.01" r="3.6" fill="url(#gMLFOtr)"/>
<circle cx="168.94" cy="59.15" r="3.6" fill="url(#gMLFOtr)"/>
<circle cx="172.01" cy="49.65" r="3.6" fill="url(#gMLFOtr)"/>
<circle cx="175.09" cy="70.12" r="3.6" fill="url(#gMLFOtr)"/>
<circle cx="178.16" cy="131.43" r="3.6" fill="url(#gMLFOtr)"/>
<circle cx="181.23" cy="125.2" r="3.6" fill="url(#gMLFOtr)"/>
<circle cx="184.31" cy="135.12" r="3.6" fill="url(#gMLFOtr)"/>
<circle cx="187.38" cy="53.56" r="3.6" fill="url(#gMLFOtr)"/>
<circle cx="190.45" cy="125.2" r="3.6" fill="url(#gMLFOtr)"/>
<circle cx="193.53" cy="85.42" r="3.6" fill="url(#gMLFOtr)"/>
<circle cx="196.6" cy="95.66" r="3.6" fill="url(#gMLFOtr)"/>
<circle cx="199.67" cy="87.64" r="3.6" fill="url(#gMLFOtr)"/>
<circle cx="202.75" cy="76.35" r="3.6" fill="url(#gMLFOtr)"/>
<circle cx="205.82" cy="34.99" r="3.6" fill="url(#gMLFOtr)"/>
<circle cx="208.89" cy="66.43" r="3.6" fill="url(#gMLFOtr)"/>
<circle cx="211.96" cy="78.14" r="3.6" fill="url(#gMLFOtr)"/>
<circle cx="215.04" cy="57.67" r="3.6" fill="url(#gMLFOtr)"/>
<circle cx="218.11" cy="129.53" r="3.6" fill="url(#gMLFOtr)"/>
<circle cx="221.18" cy="139.44" r="3.6" fill="url(#gMLFOtr)"/>
<circle cx="224.26" cy="81.73" r="3.6" fill="url(#gMLFOtr)"/>
<circle cx="227.33" cy="45.64" r="3.6" fill="url(#gMLFOtr)"/>
<circle cx="230.4" cy="128.58" r="3.6" fill="url(#gMLFOtr)"/>
<circle cx="233.47" cy="63.79" r="3.6" fill="url(#gMLFOtr)"/>
<circle cx="236.55" cy="78.14" r="3.6" fill="url(#gMLFOtr)"/>
<circle cx="239.62" cy="34.57" r="3.6" fill="url(#gMLFOtr)"/>
<circle cx="242.69" cy="26.65" r="3.6" fill="url(#gMLFOtr)"/>
<circle cx="245.77" cy="78.14" r="3.6" fill="url(#gMLFOtr)"/>
<circle cx="248.84" cy="26.65" r="3.6" fill="url(#gMLFOtr)"/>
<circle cx="251.91" cy="127.52" r="3.6" fill="url(#gMLFOtr)"/>
<circle cx="254.99" cy="43.32" r="3.6" fill="url(#gMLFOtr)"/>
<circle cx="258.06" cy="132.48" r="3.6" fill="url(#gMLFOtr)"/>
<circle cx="261.13" cy="94.5" r="3.6" fill="url(#gMLFOtr)"/>
<circle cx="264.2" cy="58.83" r="3.6" fill="url(#gMLFOtr)"/>
<circle cx="267.28" cy="93.86" r="3.6" fill="url(#gMLFOtr)"/>
<circle cx="270.35" cy="63.16" r="3.6" fill="url(#gMLFOtr)"/>
<circle cx="273.42" cy="43.32" r="3.6" fill="url(#gMLFOtr)"/>
<circle cx="276.5" cy="137.76" r="3.6" fill="url(#gMLFOtr)"/>
<circle cx="279.57" cy="73.71" r="3.6" fill="url(#gMLFOtr)"/>
<circle cx="282.64" cy="140.18" r="3.6" fill="url(#gMLFOtr)"/>
<circle cx="285.72" cy="129.53" r="3.6" fill="url(#gMLFOtr)"/>
<circle cx="288.79" cy="146.09" r="3.6" fill="url(#gMLFOtr)"/>
<circle cx="291.86" cy="44.8" r="3.6" fill="url(#gMLFOtr)"/>
<circle cx="294.94" cy="57.36" r="3.6" fill="url(#gMLFOtr)"/>
<circle cx="298.01" cy="62.31" r="3.6" fill="url(#gMLFOtr)"/>
<circle cx="301.08" cy="24.33" r="3.6" fill="url(#gMLFOtr)"/>
<circle cx="304.15" cy="59.36" r="3.6" fill="url(#gMLFOtr)"/>
<circle cx="307.23" cy="72.55" r="3.6" fill="url(#gMLFOtr)"/>
<circle cx="310.3" cy="24.33" r="3.6" fill="url(#gMLFOtr)"/>
<circle cx="313.37" cy="50.6" r="3.6" fill="url(#gMLFOtr)"/>
<circle cx="316.45" cy="65.69" r="3.6" fill="url(#gMLFOtr)"/>
<circle cx="319.52" cy="52.5" r="3.6" fill="url(#gMLFOtr)"/>
<circle cx="322.59" cy="154.43" r="3.6" fill="url(#gMLFOtr)"/>
<circle cx="325.67" cy="93.86" r="3.6" fill="url(#gMLFOtr)"/>
<circle cx="328.74" cy="90.49" r="3.6" fill="url(#gMLFOtr)"/>
<circle cx="331.81" cy="47.44" r="3.6" fill="url(#gMLFOtr)"/>
<circle cx="334.88" cy="137.33" r="3.6" fill="url(#gMLFOtr)"/>
<circle cx="337.96" cy="135.43" r="3.6" fill="url(#gMLFOtr)"/>
<circle cx="341.03" cy="126.04" r="3.6" fill="url(#gMLFOtr)"/>
<circle cx="344.1" cy="128.58" r="3.6" fill="url(#gMLFOtr)"/>
<circle cx="347.18" cy="95.66" r="3.6" fill="url(#gMLFOtr)"/>
<circle cx="350.25" cy="66.75" r="3.6" fill="url(#gMLFOtr)"/>
<circle cx="353.32" cy="46.7" r="3.6" fill="url(#gMLFOtr)"/>
<circle cx="356.39" cy="136.6" r="3.6" fill="url(#gMLFOtr)"/>
<circle cx="359.47" cy="136.6" r="3.6" fill="url(#gMLFOtr)"/>
<circle cx="362.54" cy="80.36" r="3.6" fill="url(#gMLFOtr)"/>
<circle cx="365.61" cy="92.7" r="3.6" fill="url(#gMLFOtr)"/>
<circle cx="368.69" cy="56.51" r="3.6" fill="url(#gMLFOtr)"/>
<circle cx="371.76" cy="91.54" r="3.6" fill="url(#gMLFOtr)"/>
<circle cx="374.83" cy="122.67" r="3.6" fill="url(#gMLFOtr)"/>
<circle cx="377.91" cy="87.22" r="3.6" fill="url(#gMLFOtr)"/>
<circle cx="380.98" cy="78.88" r="3.6" fill="url(#gMLFOtr)"/>
<circle cx="384.05" cy="130.69" r="3.6" fill="url(#gMLFOtr)"/>
<circle cx="387.12" cy="48.18" r="3.6" fill="url(#gMLFOtr)"/>
<circle cx="390.2" cy="35.73" r="3.6" fill="url(#gMLFOtr)"/>
<circle cx="393.27" cy="57.67" r="3.6" fill="url(#gMLFOtr)"/>
<circle cx="396.34" cy="55.46" r="3.6" fill="url(#gMLFOtr)"/>
<circle cx="399.42" cy="83.94" r="3.6" fill="url(#gMLFOtr)"/>
<circle cx="402.49" cy="134.38" r="3.6" fill="url(#gMLFOtr)"/>
<circle cx="405.56" cy="52.08" r="3.6" fill="url(#gMLFOtr)"/>
<circle cx="408.64" cy="28.13" r="3.6" fill="url(#gMLFOtr)"/>
<circle cx="411.71" cy="40.37" r="3.6" fill="url(#gMLFOtr)"/>
<circle cx="414.78" cy="28.45" r="3.6" fill="url(#gMLFOtr)"/>
<circle cx="417.86" cy="53.56" r="3.6" fill="url(#gMLFOtr)"/>
<circle cx="420.93" cy="48.6" r="3.6" fill="url(#gMLFOtr)"/>
<circle cx="424" cy="68.22" r="3.6" fill="url(#gMLFOtr)"/>
<circle cx="427.07" cy="36.46" r="3.6" fill="url(#gMLFOtr)"/>
<circle cx="430.15" cy="64.21" r="3.6" fill="url(#gMLFOtr)"/>
<circle cx="433.22" cy="97.87" r="3.6" fill="url(#gMLFOtr)"/>
<circle cx="436.29" cy="129.95" r="3.6" fill="url(#gMLFOva)"/>
<circle cx="439.37" cy="139.44" r="3.6" fill="url(#gMLFOva)"/>
<circle cx="442.44" cy="62" r="3.6" fill="url(#gMLFOva)"/>
<circle cx="445.51" cy="139.44" r="3.6" fill="url(#gMLFOva)"/>
<circle cx="448.58" cy="43.32" r="3.6" fill="url(#gMLFOva)"/>
<circle cx="451.66" cy="127.52" r="3.6" fill="url(#gMLFOva)"/>
<circle cx="454.73" cy="77.83" r="3.6" fill="url(#gMLFOva)"/>
<circle cx="457.8" cy="31.08" r="3.6" fill="url(#gMLFOva)"/>
<circle cx="460.88" cy="66.75" r="3.6" fill="url(#gMLFOva)"/>
<circle cx="463.95" cy="56.93" r="3.6" fill="url(#gMLFOva)"/>
<circle cx="467.02" cy="96.4" r="3.6" fill="url(#gMLFOva)"/>
<circle cx="470.1" cy="53.24" r="3.6" fill="url(#gMLFOva)"/>
<circle cx="473.17" cy="94.92" r="3.6" fill="url(#gMLFOva)"/>
<circle cx="476.24" cy="91.23" r="3.6" fill="url(#gMLFOva)"/>
<circle cx="479.31" cy="124.14" r="3.6" fill="url(#gMLFOva)"/>
<circle cx="482.39" cy="29.61" r="3.6" fill="url(#gMLFOva)"/>
<circle cx="485.46" cy="70.76" r="3.6" fill="url(#gMLFOva)"/>
<circle cx="488.53" cy="92.7" r="3.6" fill="url(#gMLFOva)"/>
<circle cx="491.61" cy="127.84" r="3.6" fill="url(#gMLFOva)"/>
<circle cx="494.68" cy="48.18" r="3.6" fill="url(#gMLFOva)"/>
<circle cx="497.75" cy="77.4" r="3.6" fill="url(#gMLFOva)"/>
<circle cx="500.83" cy="57.99" r="3.6" fill="url(#gMLFOva)"/>
<circle cx="503.9" cy="46.28" r="3.6" fill="url(#gMLFOva)"/>
<circle cx="506.97" cy="128.58" r="3.6" fill="url(#gMLFOva)"/>
<circle cx="510.05" cy="134.38" r="3.6" fill="url(#gMLFOva)"/>
<circle cx="513.12" cy="64.64" r="3.6" fill="url(#gMLFOva)"/>
<circle cx="516.19" cy="61.79" r="3.6" fill="url(#gMLFOva)"/>
<circle cx="519.26" cy="50.6" r="3.6" fill="url(#gMLFOva)"/>
<circle cx="522.34" cy="43.01" r="3.6" fill="url(#gMLFOva)"/>
<circle cx="525.41" cy="47.44" r="3.6" fill="url(#gMLFOva)"/>
<circle cx="528.48" cy="46.7" r="3.6" fill="url(#gMLFOte)"/>
<circle cx="531.56" cy="135.12" r="3.6" fill="url(#gMLFOte)"/>
<circle cx="534.63" cy="32.77" r="3.6" fill="url(#gMLFOte)"/>
<circle cx="537.7" cy="48.18" r="3.6" fill="url(#gMLFOte)"/>
<circle cx="540.77" cy="53.24" r="3.6" fill="url(#gMLFOte)"/>
<circle cx="543.85" cy="53.24" r="3.6" fill="url(#gMLFOte)"/>
<circle cx="546.92" cy="128.37" r="3.6" fill="url(#gMLFOte)"/>
<circle cx="549.99" cy="137.65" r="3.6" fill="url(#gMLFOte)"/>
<circle cx="553.07" cy="64.43" r="3.6" fill="url(#gMLFOte)"/>
<circle cx="556.14" cy="40.16" r="3.6" fill="url(#gMLFOte)"/>
<circle cx="559.21" cy="47.86" r="3.6" fill="url(#gMLFOte)"/>
<circle cx="562.29" cy="83.94" r="3.6" fill="url(#gMLFOte)"/>
<circle cx="565.36" cy="130.58" r="3.6" fill="url(#gMLFOte)"/>
<circle cx="568.43" cy="125.62" r="3.6" fill="url(#gMLFOte)"/>
<circle cx="571.5" cy="58.2" r="3.6" fill="url(#gMLFOte)"/>
<circle cx="574.58" cy="134.59" r="3.6" fill="url(#gMLFOte)"/>
<circle cx="577.65" cy="81.83" r="3.6" fill="url(#gMLFOte)"/>
<circle cx="580.72" cy="136.38" r="3.6" fill="url(#gMLFOte)"/>
<circle cx="583.8" cy="35.51" r="3.6" fill="url(#gMLFOte)"/>
<circle cx="586.87" cy="133.11" r="3.6" fill="url(#gMLFOte)"/>
<circle cx="589.94" cy="55.14" r="3.6" fill="url(#gMLFOte)"/>
<circle cx="593.02" cy="131.11" r="3.6" fill="url(#gMLFOte)"/>
<circle cx="596.09" cy="44.91" r="3.6" fill="url(#gMLFOte)"/>
<circle cx="599.16" cy="124.36" r="3.6" fill="url(#gMLFOte)"/>
<circle cx="602.24" cy="128.15" r="3.6" fill="url(#gMLFOte)"/>
<circle cx="605.31" cy="135.22" r="3.6" fill="url(#gMLFOte)"/>
<circle cx="608.38" cy="48.28" r="3.6" fill="url(#gMLFOte)"/>
<circle cx="611.45" cy="139.55" r="3.6" fill="url(#gMLFOte)"/>
<circle cx="614.53" cy="40.79" r="3.6" fill="url(#gMLFOte)"/>
<circle cx="617.6" cy="125.62" r="3.6" fill="url(#gMLFOte)"/>
<path d="M-7.0 4.71H0M-3.8 20.53H0M-7.0 36.36H0M-3.8 52.19H0M-7.0 68.01H0M-3.8 83.84H0M-7.0 99.67H0M-3.8 115.49H0M-7.0 131.32H0M-3.8 147.15H0M-7.0 162.97H0M-3.8 178.8H0M3 178.8v7.0M49.09 178.8v3.8M95.19 178.8v7.0M141.28 178.8v3.8M187.38 178.8v7.0M233.47 178.8v3.8M279.57 178.8v7.0M325.67 178.8v3.8M371.76 178.8v7.0M417.86 178.8v3.8M463.95 178.8v7.0M510.05 178.8v3.8M556.14 178.8v7.0M602.24 178.8v3.8" stroke="#000" stroke-width="1.1" fill="none"/>
<rect x="8.0" y="8.3" width="194.8" height="12.3" fill="#d9d9d9"/>
<rect x="5.0" y="5.3" width="194.8" height="12.3" fill="#fff" stroke="#a6a6a6" stroke-width="0.8"/>
<rect x="13.6" y="8.15" width="6.6" height="6.6" fill="#000"/>
<text x="26.6" y="15.15" font-size="8.7">Measured</text>
<circle cx="71.5" cy="11.45" r="3.7" fill="url(#gMLFOtr)"/>
<text x="81.6" y="15.15" font-size="8.7">Train</text>
<circle cx="111.0" cy="11.45" r="3.7" fill="url(#gMLFOva)"/>
<text x="123.6" y="15.15" font-size="8.7">Validation</text>
<circle cx="169.7" cy="11.45" r="3.7" fill="url(#gMLFOte)"/>
<text x="182.6" y="15.15" font-size="8.7">Test</text>
<rect x="210.8" y="8.3" width="39.7" height="13.0" fill="#d9d9d9"/>
<rect x="207.8" y="5.3" width="39.7" height="13.0" fill="#fff" stroke="#a6a6a6" stroke-width="0.8"/>
<text x="227.65" y="15.25" text-anchor="middle" font-size="9.1">MLFO (2)</text>
</g>
<g transform="translate(60.4,718.8) scale(1.00000,1)">
<text transform="translate(-11.9,9.1) scale(1,0.9989)" text-anchor="end" font-size="14.2">1800</text>
<text transform="translate(-11.9,40.71) scale(1,0.9989)" text-anchor="end" font-size="14.2">1500</text>
<text transform="translate(-11.9,72.33) scale(1,0.9989)" text-anchor="end" font-size="14.2">1200</text>
<text transform="translate(-11.9,103.95) scale(1,0.9989)" text-anchor="end" font-size="14.2">900</text>
<text transform="translate(-11.9,135.57) scale(1,0.9989)" text-anchor="end" font-size="14.2">600</text>
<text transform="translate(-11.9,167.19) scale(1,0.9989)" text-anchor="end" font-size="14.2">300</text>
<text transform="translate(3,201.57) scale(1,0.9989)" text-anchor="middle" font-size="14.2">0</text>
<text transform="translate(95.19,201.57) scale(1,0.9989)" text-anchor="middle" font-size="14.2">30</text>
<text transform="translate(187.38,201.57) scale(1,0.9989)" text-anchor="middle" font-size="14.2">60</text>
<text transform="translate(279.57,201.57) scale(1,0.9989)" text-anchor="middle" font-size="14.2">90</text>
<text transform="translate(371.76,201.57) scale(1,0.9989)" text-anchor="middle" font-size="14.2">120</text>
<text transform="translate(463.95,201.57) scale(1,0.9989)" text-anchor="middle" font-size="14.2">150</text>
<text transform="translate(556.14,201.57) scale(1,0.9989)" text-anchor="middle" font-size="14.2">180</text>
<text transform="translate(311.7,217.16) scale(1,0.9989)" text-anchor="middle" font-size="16">Sample Number</text>
<text transform="translate(-47.9,89.3) scale(1,0.9989) rotate(-90)" text-anchor="middle" font-size="16.6">P<tspan font-size="11.4" dy="3.6">u</tspan><tspan dy="-3.6"> (kN)</tspan></text>
</g>
<g transform="translate(60.4,958) scale(1.00000,0.84452)">
<rect x="0" y="0" width="623.4" height="178.8" fill="none" stroke="#000" stroke-width="1.2"/>
<path d="M6.07 45.09V43.35M15.29 40V34.11M18.37 44.16V43.35M27.58 49.83V43.35M33.73 143.2V136.62M36.8 59.65V52.14M39.88 146.56V143.32M42.95 166.78V165.97M52.17 41.74V34.11M55.24 63.58V60.92M58.31 41.16V34.11M61.39 140.55V136.62M64.46 106.8V101.37M67.53 45.09V43.35M76.75 146.56V143.32M79.83 45.09V34.45M82.9 143.67V143.32M85.97 143.2V142.4M98.26 49.83V48.44M101.34 145.4V141.82M113.63 144.82V141.82M119.77 56.18V42.54M122.85 60.23V51.44M125.92 67.05V51.44M141.28 64.16V60.92M147.43 146.56V141.82M153.58 67.05V59.53M162.8 142.63V141.82M172.01 64.85V59.53M178.16 147.13V143.32M181.23 143.67V136.62M187.38 61.38V57.34M190.45 140.89V135.92M205.82 45.43V34.45M208.89 72.25V70.51M221.18 153.49V149.1M224.26 93.51V91.08M227.33 49.25V42.89M230.4 140.89V140.32M239.62 40.7V33.76M242.69 37.23V33.76M245.77 94.2V86.35M248.84 40V33.76M251.91 143.2V136.62M261.13 97.32V94.78M270.35 74.56V69.82M285.72 142.28V141.82M298.01 76.64V69.82M301.08 42.43V33.76M307.23 87.85V87.39M310.3 40.7V33.76M316.45 63.58V57.34M319.52 59.3V52.14M331.81 59.65V52.14M341.03 139.74V136.62M347.18 94.2V92.59M353.32 53.75V48.44M362.54 92.12V91.08M365.61 100.44V96.28M368.69 59.65V57.34M374.83 131.88V130.72M380.98 95.24V88.89M384.05 144.82V136.62M387.12 55.03V48.44M390.2 45.09V34.22M393.27 70.51V58.72M396.34 64.16V57.34M399.42 101.72V96.28M405.56 57.92V57.34M408.64 41.16V34.22M411.71 47.51V43.35M414.78 40V34.22M420.93 64.85V52.14M427.07 48.55V34.22M445.51 154.41V154.3M451.66 143.67V141.82M457.8 41.16V34.22M460.88 77.45V69.82M470.1 58.96V57.34M473.17 94.78V93.74M479.31 141.93V136.62M482.39 40V34.22M494.68 57.22V52.14M500.83 72.82V59.53M506.97 143.67V141.82M516.19 73.17V69.82M519.26 55.03V52.14M534.63 40.7V34.22M537.7 56.18V52.14M540.77 59.3V58.72M546.92 143.55V141.82M556.14 44.62V43.35M559.21 54.68V52.14M565.36 146.44V141.82M568.43 138.35V136.62M571.5 61.27V60.23M577.65 90.62V87.85M583.8 39.19V34.22M589.94 64.16V57.8M593.02 144.94V142.74M599.16 141.36V136.5M602.24 145.75V142.16M608.38 64.16V60.92M617.6 144.24V142.16" stroke="#333" stroke-width="0.9" fill="none"/>
<path d="M2.67 39.95h6.8v6.8h-6.8zM5.75 148.7h6.8v6.8h-6.8zM8.82 68.15h6.8v6.8h-6.8zM11.89 30.71h6.8v6.8h-6.8zM14.97 39.95h6.8v6.8h-6.8zM18.04 154.6h6.8v6.8h-6.8zM21.11 141.89h6.8v6.8h-6.8zM24.18 39.95h6.8v6.8h-6.8zM27.26 107.56h6.8v6.8h-6.8zM30.33 133.22h6.8v6.8h-6.8zM33.4 48.74h6.8v6.8h-6.8zM36.48 139.92h6.8v6.8h-6.8zM39.55 162.57h6.8v6.8h-6.8zM42.62 66.42h6.8v6.8h-6.8zM45.7 45.04h6.8v6.8h-6.8zM48.77 30.71h6.8v6.8h-6.8zM51.84 57.52h6.8v6.8h-6.8zM54.91 30.71h6.8v6.8h-6.8zM57.99 133.22h6.8v6.8h-6.8zM61.06 97.97h6.8v6.8h-6.8zM64.13 39.95h6.8v6.8h-6.8zM67.21 66.42h6.8v6.8h-6.8zM70.28 59.72h6.8v6.8h-6.8zM73.35 139.92h6.8v6.8h-6.8zM76.42 31.05h6.8v6.8h-6.8zM79.5 139.92h6.8v6.8h-6.8zM82.57 139h6.8v6.8h-6.8zM85.64 48.74h6.8v6.8h-6.8zM88.72 76.7h6.8v6.8h-6.8zM91.79 145.7h6.8v6.8h-6.8zM94.86 45.04h6.8v6.8h-6.8zM97.94 138.42h6.8v6.8h-6.8zM101.01 98.78h6.8v6.8h-6.8zM104.08 131.83h6.8v6.8h-6.8zM107.15 42.84h6.8v6.8h-6.8zM110.23 138.42h6.8v6.8h-6.8zM113.3 105.6h6.8v6.8h-6.8zM116.37 39.14h6.8v6.8h-6.8zM119.45 48.04h6.8v6.8h-6.8zM122.52 48.04h6.8v6.8h-6.8zM125.59 48.04h6.8v6.8h-6.8zM128.67 76.7h6.8v6.8h-6.8zM131.74 48.04h6.8v6.8h-6.8zM134.81 66.42h6.8v6.8h-6.8zM137.88 57.52h6.8v6.8h-6.8zM140.96 45.04h6.8v6.8h-6.8zM144.03 138.42h6.8v6.8h-6.8zM147.1 43.65h6.8v6.8h-6.8zM150.18 56.13h6.8v6.8h-6.8zM153.25 146.51h6.8v6.8h-6.8zM156.32 66.42h6.8v6.8h-6.8zM159.4 138.42h6.8v6.8h-6.8zM162.47 48.74h6.8v6.8h-6.8zM165.54 66.42h6.8v6.8h-6.8zM168.61 56.13h6.8v6.8h-6.8zM171.69 76.7h6.8v6.8h-6.8zM174.76 139.92h6.8v6.8h-6.8zM177.83 133.22h6.8v6.8h-6.8zM180.91 146.51h6.8v6.8h-6.8zM183.98 53.94h6.8v6.8h-6.8zM187.05 132.52h6.8v6.8h-6.8zM190.13 90.57h6.8v6.8h-6.8zM193.2 98.78h6.8v6.8h-6.8zM196.27 98.78h6.8v6.8h-6.8zM199.34 81.79h6.8v6.8h-6.8zM202.42 31.05h6.8v6.8h-6.8zM205.49 67.11h6.8v6.8h-6.8zM208.56 90.57h6.8v6.8h-6.8zM211.64 59.72h6.8v6.8h-6.8zM214.71 145.7h6.8v6.8h-6.8zM217.78 145.7h6.8v6.8h-6.8zM220.86 87.68h6.8v6.8h-6.8zM223.93 39.49h6.8v6.8h-6.8zM227 136.92h6.8v6.8h-6.8zM230.07 65.61h6.8v6.8h-6.8zM233.15 84.79h6.8v6.8h-6.8zM236.22 30.36h6.8v6.8h-6.8zM239.29 30.36h6.8v6.8h-6.8zM242.37 82.95h6.8v6.8h-6.8zM245.44 30.36h6.8v6.8h-6.8zM248.51 133.22h6.8v6.8h-6.8zM251.59 49.2h6.8v6.8h-6.8zM254.66 142.81h6.8v6.8h-6.8zM257.73 91.38h6.8v6.8h-6.8zM260.81 66.42h6.8v6.8h-6.8zM263.88 98.78h6.8v6.8h-6.8zM266.95 66.42h6.8v6.8h-6.8zM270.02 49.2h6.8v6.8h-6.8zM273.1 145.7h6.8v6.8h-6.8zM276.17 81.1h6.8v6.8h-6.8zM279.24 145.7h6.8v6.8h-6.8zM282.32 138.42h6.8v6.8h-6.8zM285.39 160.38h6.8v6.8h-6.8zM288.46 48.74h6.8v6.8h-6.8zM291.54 66.42h6.8v6.8h-6.8zM294.61 66.42h6.8v6.8h-6.8zM297.68 30.36h6.8v6.8h-6.8zM300.75 68.61h6.8v6.8h-6.8zM303.83 83.99h6.8v6.8h-6.8zM306.9 30.36h6.8v6.8h-6.8zM309.97 57.52h6.8v6.8h-6.8zM313.05 53.94h6.8v6.8h-6.8zM316.12 48.74h6.8v6.8h-6.8zM319.19 160.84h6.8v6.8h-6.8zM322.27 98.78h6.8v6.8h-6.8zM325.34 86.99h6.8v6.8h-6.8zM328.41 48.74h6.8v6.8h-6.8zM331.48 150.9h6.8v6.8h-6.8zM334.56 145.7h6.8v6.8h-6.8zM337.63 133.22h6.8v6.8h-6.8zM340.7 133.22h6.8v6.8h-6.8zM343.78 89.19h6.8v6.8h-6.8zM346.85 76.7h6.8v6.8h-6.8zM349.92 45.04h6.8v6.8h-6.8zM353 151.59h6.8v6.8h-6.8zM356.07 145.7h6.8v6.8h-6.8zM359.14 87.68h6.8v6.8h-6.8zM362.21 92.88h6.8v6.8h-6.8zM365.29 53.94h6.8v6.8h-6.8zM368.36 98.78h6.8v6.8h-6.8zM371.43 127.32h6.8v6.8h-6.8zM374.51 98.78h6.8v6.8h-6.8zM377.58 85.49h6.8v6.8h-6.8zM380.65 133.22h6.8v6.8h-6.8zM383.73 45.04h6.8v6.8h-6.8zM386.8 30.82h6.8v6.8h-6.8zM389.87 55.32h6.8v6.8h-6.8zM392.94 53.94h6.8v6.8h-6.8zM396.02 92.88h6.8v6.8h-6.8zM399.09 145.7h6.8v6.8h-6.8zM402.16 53.94h6.8v6.8h-6.8zM405.24 30.82h6.8v6.8h-6.8zM408.31 39.95h6.8v6.8h-6.8zM411.38 30.82h6.8v6.8h-6.8zM414.46 57.52h6.8v6.8h-6.8zM417.53 48.74h6.8v6.8h-6.8zM420.6 76.7h6.8v6.8h-6.8zM423.67 30.82h6.8v6.8h-6.8zM426.75 66.42h6.8v6.8h-6.8zM429.82 107.56h6.8v6.8h-6.8zM432.89 138.42h6.8v6.8h-6.8zM435.97 148.7h6.8v6.8h-6.8zM439.04 65.61h6.8v6.8h-6.8zM442.11 150.9h6.8v6.8h-6.8zM445.19 48.74h6.8v6.8h-6.8zM448.26 138.42h6.8v6.8h-6.8zM451.33 81.1h6.8v6.8h-6.8zM454.4 30.82h6.8v6.8h-6.8zM457.48 66.42h6.8v6.8h-6.8zM460.55 57.52h6.8v6.8h-6.8zM463.62 102.36h6.8v6.8h-6.8zM466.7 53.94h6.8v6.8h-6.8zM469.77 90.34h6.8v6.8h-6.8zM472.84 98.78h6.8v6.8h-6.8zM475.92 133.22h6.8v6.8h-6.8zM478.99 30.82h6.8v6.8h-6.8zM482.06 79.59h6.8v6.8h-6.8zM485.13 99.12h6.8v6.8h-6.8zM488.21 136.92h6.8v6.8h-6.8zM491.28 48.74h6.8v6.8h-6.8zM494.35 80.29h6.8v6.8h-6.8zM497.43 56.13h6.8v6.8h-6.8zM500.5 48.74h6.8v6.8h-6.8zM503.57 138.42h6.8v6.8h-6.8zM506.65 145.7h6.8v6.8h-6.8zM509.72 66.42h6.8v6.8h-6.8zM512.79 66.42h6.8v6.8h-6.8zM515.86 48.74h6.8v6.8h-6.8zM518.94 45.04h6.8v6.8h-6.8zM522.01 48.74h6.8v6.8h-6.8zM525.08 45.04h6.8v6.8h-6.8zM528.16 145.7h6.8v6.8h-6.8zM531.23 30.82h6.8v6.8h-6.8zM534.3 48.74h6.8v6.8h-6.8zM537.38 55.32h6.8v6.8h-6.8zM540.45 53.94h6.8v6.8h-6.8zM543.52 138.42h6.8v6.8h-6.8zM546.59 145.7h6.8v6.8h-6.8zM549.67 66.42h6.8v6.8h-6.8zM552.74 39.95h6.8v6.8h-6.8zM555.81 48.74h6.8v6.8h-6.8zM558.89 87.68h6.8v6.8h-6.8zM561.96 138.42h6.8v6.8h-6.8zM565.03 133.22h6.8v6.8h-6.8zM568.11 56.83h6.8v6.8h-6.8zM571.18 146.28h6.8v6.8h-6.8zM574.25 84.45h6.8v6.8h-6.8zM577.32 146.28h6.8v6.8h-6.8zM580.4 30.82h6.8v6.8h-6.8zM583.47 146.28h6.8v6.8h-6.8zM586.54 54.4h6.8v6.8h-6.8zM589.62 139.34h6.8v6.8h-6.8zM592.69 43.54h6.8v6.8h-6.8zM595.76 133.1h6.8v6.8h-6.8zM598.84 138.76h6.8v6.8h-6.8zM601.91 146.28h6.8v6.8h-6.8zM604.98 57.52h6.8v6.8h-6.8zM608.05 145.58h6.8v6.8h-6.8zM611.13 45.04h6.8v6.8h-6.8zM614.2 138.76h6.8v6.8h-6.8z" fill="#000"/>
<path d="M6.07 179.4V45.09M9.15 179.4V147.13M12.22 179.4V67.97M15.29 179.4V40M18.37 179.4V44.16M21.44 179.4V155.22M24.51 179.4V144.82M27.58 179.4V49.83M30.66 179.4V104.26M33.73 179.4V143.2M36.8 179.4V59.65M39.88 179.4V146.56M42.95 179.4V166.78M46.02 179.4V61.38M49.09 179.4V42.89M52.17 179.4V41.74M55.24 179.4V63.58M58.31 179.4V41.16M61.39 179.4V140.55M64.46 179.4V106.8M67.53 179.4V45.09M70.61 179.4V66.24M73.68 179.4V63.12M76.75 179.4V146.56M79.83 179.4V45.09M82.9 179.4V143.67M85.97 179.4V143.2M89.04 179.4V50.29M92.12 179.4V75.25M95.19 179.4V146.56M98.26 179.4V49.83M101.34 179.4V145.4M104.41 179.4V97.67M107.48 179.4V133.96M110.55 179.4V40.7M113.63 179.4V144.82M116.7 179.4V107.38M119.77 179.4V56.18M122.85 179.4V60.23M125.92 179.4V67.05M128.99 179.4V49.25M132.07 179.4V73.52M135.14 179.4V45.78M138.21 179.4V59.3M141.28 179.4V64.16M144.36 179.4V40.7M147.43 179.4V146.56M150.5 179.4V42.43M153.58 179.4V67.05M156.65 179.4V144.36M159.72 179.4V60.69M162.8 179.4V142.63M165.87 179.4V38.96M168.94 179.4V60.23M172.01 179.4V64.85M175.09 179.4V71.78M178.16 179.4V147.13M181.23 179.4V143.67M184.31 179.4V145.75M187.38 179.4V61.38M190.45 179.4V140.89M193.53 179.4V90.04M196.6 179.4V97.32M199.67 179.4V97.32M202.75 179.4V76.98M205.82 179.4V45.43M208.89 179.4V72.25M211.96 179.4V91.31M215.04 179.4V50.63M218.11 179.4V145.4M221.18 179.4V153.49M224.26 179.4V93.51M227.33 179.4V49.25M230.4 179.4V140.89M233.47 179.4V63.12M236.55 179.4V84.96M239.62 179.4V40.7M242.69 179.4V37.23M245.77 179.4V94.2M248.84 179.4V40M251.91 179.4V143.2M254.99 179.4V40M258.06 179.4V143.67M261.13 179.4V97.32M264.2 179.4V61.96M267.28 179.4V93.51M270.35 179.4V74.56M273.42 179.4V40.7M276.5 179.4V144.01M279.57 179.4V84.38M282.64 179.4V145.4M285.72 179.4V142.28M288.79 179.4V161.7M291.86 179.4V45.43M294.94 179.4V62.77M298.01 179.4V76.64M301.08 179.4V42.43M304.15 179.4V64.85M307.23 179.4V87.85M310.3 179.4V40.7M313.37 179.4V57.57M316.45 179.4V63.58M319.52 179.4V59.3M322.59 179.4V163.89M325.67 179.4V96.52M328.74 179.4V89.58M331.81 179.4V59.65M334.88 179.4V152.33M337.96 179.4V146.56M341.03 179.4V139.74M344.1 179.4V133.96M347.18 179.4V94.2M350.25 179.4V72.25M353.32 179.4V53.75M356.39 179.4V154.07M359.47 179.4V144.82M362.54 179.4V92.12M365.61 179.4V100.44M368.69 179.4V59.65M371.76 179.4V92.12M374.83 179.4V131.88M377.91 179.4V99.4M380.98 179.4V95.24M384.05 179.4V144.82M387.12 179.4V55.03M390.2 179.4V45.09M393.27 179.4V70.51M396.34 179.4V64.16M399.42 179.4V101.72M402.49 179.4V147.13M405.56 179.4V57.92M408.64 179.4V41.16M411.71 179.4V47.51M414.78 179.4V40M417.86 179.4V60.23M420.93 179.4V64.85M424 179.4V72.25M427.07 179.4V48.55M430.15 179.4V60.23M433.22 179.4V104.26" stroke="#cbcbcb" stroke-width="1.1" fill="none"/>
<path d="M436.29 179.4V140.89M439.37 179.4V147.83M442.44 179.4V65.89M445.51 179.4V154.41M448.58 179.4V39.42M451.66 179.4V143.67M454.73 179.4V84.38M457.8 179.4V41.16M460.88 179.4V77.45M463.95 179.4V59.3M467.02 179.4V103.91M470.1 179.4V58.96M473.17 179.4V94.78M476.24 179.4V102.18M479.31 179.4V141.93M482.39 179.4V40M485.46 179.4V78.72M488.53 179.4V99.98M491.61 179.4V140.2M494.68 179.4V57.22M497.75 179.4V83.46M500.83 179.4V72.82M503.9 179.4V50.29M506.97 179.4V143.67M510.05 179.4V143.2M513.12 179.4V64.16M516.19 179.4V73.17M519.26 179.4V55.03M522.34 179.4V45.78M525.41 179.4V50.29" stroke="#86b2de" stroke-width="1.2" fill="none"/>
<path d="M528.48 179.4V40.7M531.56 179.4V144.36M534.63 179.4V40.7M537.7 179.4V56.18M540.77 179.4V59.3M543.85 179.4V53.75M546.92 179.4V143.55M549.99 179.4V146.44M553.07 179.4V63.69M556.14 179.4V44.62M559.21 179.4V54.68M562.29 179.4V90.62M565.36 179.4V146.44M568.43 179.4V138.35M571.5 179.4V61.27M574.58 179.4V145.75M577.65 179.4V90.62M580.72 179.4V144.24M583.8 179.4V39.19M586.87 179.4V144.24M589.94 179.4V64.16M593.02 179.4V144.94M596.09 179.4V37.34M599.16 179.4V141.36M602.24 179.4V145.75M605.31 179.4V146.44M608.38 179.4V64.16M611.45 179.4V147.25M614.53 179.4V47.05M617.6 179.4V144.24" stroke="#e2e35a" stroke-width="1.2" fill="none"/>
<circle cx="6.07" cy="45.09" r="3.6" fill="url(#gMLCStr)"/>
<circle cx="9.15" cy="147.13" r="3.6" fill="url(#gMLCStr)"/>
<circle cx="12.22" cy="67.97" r="3.6" fill="url(#gMLCStr)"/>
<circle cx="15.29" cy="40" r="3.6" fill="url(#gMLCStr)"/>
<circle cx="18.37" cy="44.16" r="3.6" fill="url(#gMLCStr)"/>
<circle cx="21.44" cy="155.22" r="3.6" fill="url(#gMLCStr)"/>
<circle cx="24.51" cy="144.82" r="3.6" fill="url(#gMLCStr)"/>
<circle cx="27.58" cy="49.83" r="3.6" fill="url(#gMLCStr)"/>
<circle cx="30.66" cy="104.26" r="3.6" fill="url(#gMLCStr)"/>
<circle cx="33.73" cy="143.2" r="3.6" fill="url(#gMLCStr)"/>
<circle cx="36.8" cy="59.65" r="3.6" fill="url(#gMLCStr)"/>
<circle cx="39.88" cy="146.56" r="3.6" fill="url(#gMLCStr)"/>
<circle cx="42.95" cy="166.78" r="3.6" fill="url(#gMLCStr)"/>
<circle cx="46.02" cy="61.38" r="3.6" fill="url(#gMLCStr)"/>
<circle cx="49.09" cy="42.89" r="3.6" fill="url(#gMLCStr)"/>
<circle cx="52.17" cy="41.74" r="3.6" fill="url(#gMLCStr)"/>
<circle cx="55.24" cy="63.58" r="3.6" fill="url(#gMLCStr)"/>
<circle cx="58.31" cy="41.16" r="3.6" fill="url(#gMLCStr)"/>
<circle cx="61.39" cy="140.55" r="3.6" fill="url(#gMLCStr)"/>
<circle cx="64.46" cy="106.8" r="3.6" fill="url(#gMLCStr)"/>
<circle cx="67.53" cy="45.09" r="3.6" fill="url(#gMLCStr)"/>
<circle cx="70.61" cy="66.24" r="3.6" fill="url(#gMLCStr)"/>
<circle cx="73.68" cy="63.12" r="3.6" fill="url(#gMLCStr)"/>
<circle cx="76.75" cy="146.56" r="3.6" fill="url(#gMLCStr)"/>
<circle cx="79.83" cy="45.09" r="3.6" fill="url(#gMLCStr)"/>
<circle cx="82.9" cy="143.67" r="3.6" fill="url(#gMLCStr)"/>
<circle cx="85.97" cy="143.2" r="3.6" fill="url(#gMLCStr)"/>
<circle cx="89.04" cy="50.29" r="3.6" fill="url(#gMLCStr)"/>
<circle cx="92.12" cy="75.25" r="3.6" fill="url(#gMLCStr)"/>
<circle cx="95.19" cy="146.56" r="3.6" fill="url(#gMLCStr)"/>
<circle cx="98.26" cy="49.83" r="3.6" fill="url(#gMLCStr)"/>
<circle cx="101.34" cy="145.4" r="3.6" fill="url(#gMLCStr)"/>
<circle cx="104.41" cy="97.67" r="3.6" fill="url(#gMLCStr)"/>
<circle cx="107.48" cy="133.96" r="3.6" fill="url(#gMLCStr)"/>
<circle cx="110.55" cy="40.7" r="3.6" fill="url(#gMLCStr)"/>
<circle cx="113.63" cy="144.82" r="3.6" fill="url(#gMLCStr)"/>
<circle cx="116.7" cy="107.38" r="3.6" fill="url(#gMLCStr)"/>
<circle cx="119.77" cy="56.18" r="3.6" fill="url(#gMLCStr)"/>
<circle cx="122.85" cy="60.23" r="3.6" fill="url(#gMLCStr)"/>
<circle cx="125.92" cy="67.05" r="3.6" fill="url(#gMLCStr)"/>
<circle cx="128.99" cy="49.25" r="3.6" fill="url(#gMLCStr)"/>
<circle cx="132.07" cy="73.52" r="3.6" fill="url(#gMLCStr)"/>
<circle cx="135.14" cy="45.78" r="3.6" fill="url(#gMLCStr)"/>
<circle cx="138.21" cy="59.3" r="3.6" fill="url(#gMLCStr)"/>
<circle cx="141.28" cy="64.16" r="3.6" fill="url(#gMLCStr)"/>
<circle cx="144.36" cy="40.7" r="3.6" fill="url(#gMLCStr)"/>
<circle cx="147.43" cy="146.56" r="3.6" fill="url(#gMLCStr)"/>
<circle cx="150.5" cy="42.43" r="3.6" fill="url(#gMLCStr)"/>
<circle cx="153.58" cy="67.05" r="3.6" fill="url(#gMLCStr)"/>
<circle cx="156.65" cy="144.36" r="3.6" fill="url(#gMLCStr)"/>
<circle cx="159.72" cy="60.69" r="3.6" fill="url(#gMLCStr)"/>
<circle cx="162.8" cy="142.63" r="3.6" fill="url(#gMLCStr)"/>
<circle cx="165.87" cy="38.96" r="3.6" fill="url(#gMLCStr)"/>
<circle cx="168.94" cy="60.23" r="3.6" fill="url(#gMLCStr)"/>
<circle cx="172.01" cy="64.85" r="3.6" fill="url(#gMLCStr)"/>
<circle cx="175.09" cy="71.78" r="3.6" fill="url(#gMLCStr)"/>
<circle cx="178.16" cy="147.13" r="3.6" fill="url(#gMLCStr)"/>
<circle cx="181.23" cy="143.67" r="3.6" fill="url(#gMLCStr)"/>
<circle cx="184.31" cy="145.75" r="3.6" fill="url(#gMLCStr)"/>
<circle cx="187.38" cy="61.38" r="3.6" fill="url(#gMLCStr)"/>
<circle cx="190.45" cy="140.89" r="3.6" fill="url(#gMLCStr)"/>
<circle cx="193.53" cy="90.04" r="3.6" fill="url(#gMLCStr)"/>
<circle cx="196.6" cy="97.32" r="3.6" fill="url(#gMLCStr)"/>
<circle cx="199.67" cy="97.32" r="3.6" fill="url(#gMLCStr)"/>
<circle cx="202.75" cy="76.98" r="3.6" fill="url(#gMLCStr)"/>
<circle cx="205.82" cy="45.43" r="3.6" fill="url(#gMLCStr)"/>
<circle cx="208.89" cy="72.25" r="3.6" fill="url(#gMLCStr)"/>
<circle cx="211.96" cy="91.31" r="3.6" fill="url(#gMLCStr)"/>
<circle cx="215.04" cy="50.63" r="3.6" fill="url(#gMLCStr)"/>
<circle cx="218.11" cy="145.4" r="3.6" fill="url(#gMLCStr)"/>
<circle cx="221.18" cy="153.49" r="3.6" fill="url(#gMLCStr)"/>
<circle cx="224.26" cy="93.51" r="3.6" fill="url(#gMLCStr)"/>
<circle cx="227.33" cy="49.25" r="3.6" fill="url(#gMLCStr)"/>
<circle cx="230.4" cy="140.89" r="3.6" fill="url(#gMLCStr)"/>
<circle cx="233.47" cy="63.12" r="3.6" fill="url(#gMLCStr)"/>
<circle cx="236.55" cy="84.96" r="3.6" fill="url(#gMLCStr)"/>
<circle cx="239.62" cy="40.7" r="3.6" fill="url(#gMLCStr)"/>
<circle cx="242.69" cy="37.23" r="3.6" fill="url(#gMLCStr)"/>
<circle cx="245.77" cy="94.2" r="3.6" fill="url(#gMLCStr)"/>
<circle cx="248.84" cy="40" r="3.6" fill="url(#gMLCStr)"/>
<circle cx="251.91" cy="143.2" r="3.6" fill="url(#gMLCStr)"/>
<circle cx="254.99" cy="40" r="3.6" fill="url(#gMLCStr)"/>
<circle cx="258.06" cy="143.67" r="3.6" fill="url(#gMLCStr)"/>
<circle cx="261.13" cy="97.32" r="3.6" fill="url(#gMLCStr)"/>
<circle cx="264.2" cy="61.96" r="3.6" fill="url(#gMLCStr)"/>
<circle cx="267.28" cy="93.51" r="3.6" fill="url(#gMLCStr)"/>
<circle cx="270.35" cy="74.56" r="3.6" fill="url(#gMLCStr)"/>
<circle cx="273.42" cy="40.7" r="3.6" fill="url(#gMLCStr)"/>
<circle cx="276.5" cy="144.01" r="3.6" fill="url(#gMLCStr)"/>
<circle cx="279.57" cy="84.38" r="3.6" fill="url(#gMLCStr)"/>
<circle cx="282.64" cy="145.4" r="3.6" fill="url(#gMLCStr)"/>
<circle cx="285.72" cy="142.28" r="3.6" fill="url(#gMLCStr)"/>
<circle cx="288.79" cy="161.7" r="3.6" fill="url(#gMLCStr)"/>
<circle cx="291.86" cy="45.43" r="3.6" fill="url(#gMLCStr)"/>
<circle cx="294.94" cy="62.77" r="3.6" fill="url(#gMLCStr)"/>
<circle cx="298.01" cy="76.64" r="3.6" fill="url(#gMLCStr)"/>
<circle cx="301.08" cy="42.43" r="3.6" fill="url(#gMLCStr)"/>
<circle cx="304.15" cy="64.85" r="3.6" fill="url(#gMLCStr)"/>
<circle cx="307.23" cy="87.85" r="3.6" fill="url(#gMLCStr)"/>
<circle cx="310.3" cy="40.7" r="3.6" fill="url(#gMLCStr)"/>
<circle cx="313.37" cy="57.57" r="3.6" fill="url(#gMLCStr)"/>
<circle cx="316.45" cy="63.58" r="3.6" fill="url(#gMLCStr)"/>
<circle cx="319.52" cy="59.3" r="3.6" fill="url(#gMLCStr)"/>
<circle cx="322.59" cy="163.89" r="3.6" fill="url(#gMLCStr)"/>
<circle cx="325.67" cy="96.52" r="3.6" fill="url(#gMLCStr)"/>
<circle cx="328.74" cy="89.58" r="3.6" fill="url(#gMLCStr)"/>
<circle cx="331.81" cy="59.65" r="3.6" fill="url(#gMLCStr)"/>
<circle cx="334.88" cy="152.33" r="3.6" fill="url(#gMLCStr)"/>
<circle cx="337.96" cy="146.56" r="3.6" fill="url(#gMLCStr)"/>
<circle cx="341.03" cy="139.74" r="3.6" fill="url(#gMLCStr)"/>
<circle cx="344.1" cy="133.96" r="3.6" fill="url(#gMLCStr)"/>
<circle cx="347.18" cy="94.2" r="3.6" fill="url(#gMLCStr)"/>
<circle cx="350.25" cy="72.25" r="3.6" fill="url(#gMLCStr)"/>
<circle cx="353.32" cy="53.75" r="3.6" fill="url(#gMLCStr)"/>
<circle cx="356.39" cy="154.07" r="3.6" fill="url(#gMLCStr)"/>
<circle cx="359.47" cy="144.82" r="3.6" fill="url(#gMLCStr)"/>
<circle cx="362.54" cy="92.12" r="3.6" fill="url(#gMLCStr)"/>
<circle cx="365.61" cy="100.44" r="3.6" fill="url(#gMLCStr)"/>
<circle cx="368.69" cy="59.65" r="3.6" fill="url(#gMLCStr)"/>
<circle cx="371.76" cy="92.12" r="3.6" fill="url(#gMLCStr)"/>
<circle cx="374.83" cy="131.88" r="3.6" fill="url(#gMLCStr)"/>
<circle cx="377.91" cy="99.4" r="3.6" fill="url(#gMLCStr)"/>
<circle cx="380.98" cy="95.24" r="3.6" fill="url(#gMLCStr)"/>
<circle cx="384.05" cy="144.82" r="3.6" fill="url(#gMLCStr)"/>
<circle cx="387.12" cy="55.03" r="3.6" fill="url(#gMLCStr)"/>
<circle cx="390.2" cy="45.09" r="3.6" fill="url(#gMLCStr)"/>
<circle cx="393.27" cy="70.51" r="3.6" fill="url(#gMLCStr)"/>
<circle cx="396.34" cy="64.16" r="3.6" fill="url(#gMLCStr)"/>
<circle cx="399.42" cy="101.72" r="3.6" fill="url(#gMLCStr)"/>
<circle cx="402.49" cy="147.13" r="3.6" fill="url(#gMLCStr)"/>
<circle cx="405.56" cy="57.92" r="3.6" fill="url(#gMLCStr)"/>
<circle cx="408.64" cy="41.16" r="3.6" fill="url(#gMLCStr)"/>
<circle cx="411.71" cy="47.51" r="3.6" fill="url(#gMLCStr)"/>
<circle cx="414.78" cy="40" r="3.6" fill="url(#gMLCStr)"/>
<circle cx="417.86" cy="60.23" r="3.6" fill="url(#gMLCStr)"/>
<circle cx="420.93" cy="64.85" r="3.6" fill="url(#gMLCStr)"/>
<circle cx="424" cy="72.25" r="3.6" fill="url(#gMLCStr)"/>
<circle cx="427.07" cy="48.55" r="3.6" fill="url(#gMLCStr)"/>
<circle cx="430.15" cy="60.23" r="3.6" fill="url(#gMLCStr)"/>
<circle cx="433.22" cy="104.26" r="3.6" fill="url(#gMLCStr)"/>
<circle cx="436.29" cy="140.89" r="3.6" fill="url(#gMLCSva)"/>
<circle cx="439.37" cy="147.83" r="3.6" fill="url(#gMLCSva)"/>
<circle cx="442.44" cy="65.89" r="3.6" fill="url(#gMLCSva)"/>
<circle cx="445.51" cy="154.41" r="3.6" fill="url(#gMLCSva)"/>
<circle cx="448.58" cy="39.42" r="3.6" fill="url(#gMLCSva)"/>
<circle cx="451.66" cy="143.67" r="3.6" fill="url(#gMLCSva)"/>
<circle cx="454.73" cy="84.38" r="3.6" fill="url(#gMLCSva)"/>
<circle cx="457.8" cy="41.16" r="3.6" fill="url(#gMLCSva)"/>
<circle cx="460.88" cy="77.45" r="3.6" fill="url(#gMLCSva)"/>
<circle cx="463.95" cy="59.3" r="3.6" fill="url(#gMLCSva)"/>
<circle cx="467.02" cy="103.91" r="3.6" fill="url(#gMLCSva)"/>
<circle cx="470.1" cy="58.96" r="3.6" fill="url(#gMLCSva)"/>
<circle cx="473.17" cy="94.78" r="3.6" fill="url(#gMLCSva)"/>
<circle cx="476.24" cy="102.18" r="3.6" fill="url(#gMLCSva)"/>
<circle cx="479.31" cy="141.93" r="3.6" fill="url(#gMLCSva)"/>
<circle cx="482.39" cy="40" r="3.6" fill="url(#gMLCSva)"/>
<circle cx="485.46" cy="78.72" r="3.6" fill="url(#gMLCSva)"/>
<circle cx="488.53" cy="99.98" r="3.6" fill="url(#gMLCSva)"/>
<circle cx="491.61" cy="140.2" r="3.6" fill="url(#gMLCSva)"/>
<circle cx="494.68" cy="57.22" r="3.6" fill="url(#gMLCSva)"/>
<circle cx="497.75" cy="83.46" r="3.6" fill="url(#gMLCSva)"/>
<circle cx="500.83" cy="72.82" r="3.6" fill="url(#gMLCSva)"/>
<circle cx="503.9" cy="50.29" r="3.6" fill="url(#gMLCSva)"/>
<circle cx="506.97" cy="143.67" r="3.6" fill="url(#gMLCSva)"/>
<circle cx="510.05" cy="143.2" r="3.6" fill="url(#gMLCSva)"/>
<circle cx="513.12" cy="64.16" r="3.6" fill="url(#gMLCSva)"/>
<circle cx="516.19" cy="73.17" r="3.6" fill="url(#gMLCSva)"/>
<circle cx="519.26" cy="55.03" r="3.6" fill="url(#gMLCSva)"/>
<circle cx="522.34" cy="45.78" r="3.6" fill="url(#gMLCSva)"/>
<circle cx="525.41" cy="50.29" r="3.6" fill="url(#gMLCSva)"/>
<circle cx="528.48" cy="40.7" r="3.6" fill="url(#gMLCSte)"/>
<circle cx="531.56" cy="144.36" r="3.6" fill="url(#gMLCSte)"/>
<circle cx="534.63" cy="40.7" r="3.6" fill="url(#gMLCSte)"/>
<circle cx="537.7" cy="56.18" r="3.6" fill="url(#gMLCSte)"/>
<circle cx="540.77" cy="59.3" r="3.6" fill="url(#gMLCSte)"/>
<circle cx="543.85" cy="53.75" r="3.6" fill="url(#gMLCSte)"/>
<circle cx="546.92" cy="143.55" r="3.6" fill="url(#gMLCSte)"/>
<circle cx="549.99" cy="146.44" r="3.6" fill="url(#gMLCSte)"/>
<circle cx="553.07" cy="63.69" r="3.6" fill="url(#gMLCSte)"/>
<circle cx="556.14" cy="44.62" r="3.6" fill="url(#gMLCSte)"/>
<circle cx="559.21" cy="54.68" r="3.6" fill="url(#gMLCSte)"/>
<circle cx="562.29" cy="90.62" r="3.6" fill="url(#gMLCSte)"/>
<circle cx="565.36" cy="146.44" r="3.6" fill="url(#gMLCSte)"/>
<circle cx="568.43" cy="138.35" r="3.6" fill="url(#gMLCSte)"/>
<circle cx="571.5" cy="61.27" r="3.6" fill="url(#gMLCSte)"/>
<circle cx="574.58" cy="145.75" r="3.6" fill="url(#gMLCSte)"/>
<circle cx="577.65" cy="90.62" r="3.6" fill="url(#gMLCSte)"/>
<circle cx="580.72" cy="144.24" r="3.6" fill="url(#gMLCSte)"/>
<circle cx="583.8" cy="39.19" r="3.6" fill="url(#gMLCSte)"/>
<circle cx="586.87" cy="144.24" r="3.6" fill="url(#gMLCSte)"/>
<circle cx="589.94" cy="64.16" r="3.6" fill="url(#gMLCSte)"/>
<circle cx="593.02" cy="144.94" r="3.6" fill="url(#gMLCSte)"/>
<circle cx="596.09" cy="37.34" r="3.6" fill="url(#gMLCSte)"/>
<circle cx="599.16" cy="141.36" r="3.6" fill="url(#gMLCSte)"/>
<circle cx="602.24" cy="145.75" r="3.6" fill="url(#gMLCSte)"/>
<circle cx="605.31" cy="146.44" r="3.6" fill="url(#gMLCSte)"/>
<circle cx="608.38" cy="64.16" r="3.6" fill="url(#gMLCSte)"/>
<circle cx="611.45" cy="147.25" r="3.6" fill="url(#gMLCSte)"/>
<circle cx="614.53" cy="47.05" r="3.6" fill="url(#gMLCSte)"/>
<circle cx="617.6" cy="144.24" r="3.6" fill="url(#gMLCSte)"/>
<path d="M-7.0 5.45H0M-3.8 22.78H0M-7.0 40.12H0M-3.8 57.45H0M-7.0 74.79H0M-3.8 92.12H0M-7.0 109.46H0M-3.8 126.79H0M-7.0 144.13H0M-3.8 161.46H0M-7.0 178.8H0M3 178.8v7.0M49.09 178.8v3.8M95.19 178.8v7.0M141.28 178.8v3.8M187.38 178.8v7.0M233.47 178.8v3.8M279.57 178.8v7.0M325.67 178.8v3.8M371.76 178.8v7.0M417.86 178.8v3.8M463.95 178.8v7.0M510.05 178.8v3.8M556.14 178.8v7.0M602.24 178.8v3.8" stroke="#000" stroke-width="1.1" fill="none"/>
<rect x="8.0" y="8.3" width="194.8" height="12.3" fill="#d9d9d9"/>
<rect x="5.0" y="5.3" width="194.8" height="12.3" fill="#fff" stroke="#a6a6a6" stroke-width="0.8"/>
<rect x="13.6" y="8.15" width="6.6" height="6.6" fill="#000"/>
<text x="26.6" y="15.15" font-size="8.7">Measured</text>
<circle cx="71.5" cy="11.45" r="3.7" fill="url(#gMLCStr)"/>
<text x="81.6" y="15.15" font-size="8.7">Train</text>
<circle cx="111.0" cy="11.45" r="3.7" fill="url(#gMLCSva)"/>
<text x="123.6" y="15.15" font-size="8.7">Validation</text>
<circle cx="169.7" cy="11.45" r="3.7" fill="url(#gMLCSte)"/>
<text x="182.6" y="15.15" font-size="8.7">Test</text>
<rect x="210.8" y="8.3" width="39.7" height="13.0" fill="#d9d9d9"/>
<rect x="207.8" y="5.3" width="39.7" height="13.0" fill="#fff" stroke="#a6a6a6" stroke-width="0.8"/>
<text x="227.65" y="15.25" text-anchor="middle" font-size="9.1">MLCS (2)</text>
</g>
<g transform="translate(60.4,958) scale(1.00000,1)">
<text transform="translate(-11.9,8.38) scale(1,0.8600)" text-anchor="end" font-size="14.2">1800</text>
<text transform="translate(-11.9,37.66) scale(1,0.8600)" text-anchor="end" font-size="14.2">1500</text>
<text transform="translate(-11.9,66.94) scale(1,0.8600)" text-anchor="end" font-size="14.2">1200</text>
<text transform="translate(-11.9,96.22) scale(1,0.8600)" text-anchor="end" font-size="14.2">900</text>
<text transform="translate(-11.9,125.5) scale(1,0.8600)" text-anchor="end" font-size="14.2">600</text>
<text transform="translate(-11.9,154.78) scale(1,0.8600)" text-anchor="end" font-size="14.2">300</text>
<text transform="translate(3,170.42) scale(1,0.8600)" text-anchor="middle" font-size="14.2">0</text>
<text transform="translate(95.19,170.42) scale(1,0.8600)" text-anchor="middle" font-size="14.2">30</text>
<text transform="translate(187.38,170.42) scale(1,0.8600)" text-anchor="middle" font-size="14.2">60</text>
<text transform="translate(279.57,170.42) scale(1,0.8600)" text-anchor="middle" font-size="14.2">90</text>
<text transform="translate(371.76,170.42) scale(1,0.8600)" text-anchor="middle" font-size="14.2">120</text>
<text transform="translate(463.95,170.42) scale(1,0.8600)" text-anchor="middle" font-size="14.2">150</text>
<text transform="translate(556.14,170.42) scale(1,0.8600)" text-anchor="middle" font-size="14.2">180</text>
<text transform="translate(311.7,183.6) scale(1,0.9300)" text-anchor="middle" font-size="16">Sample Number</text>
<text transform="translate(-47.9,75.5) scale(1,0.8600) rotate(-90)" text-anchor="middle" font-size="16.6">P<tspan font-size="11.4" dy="3.6">u</tspan><tspan dy="-3.6"> (kN)</tspan></text>
</g>
<g transform="translate(60.4,1163.3) scale(1.00000,0.99944)">
<rect x="0" y="0" width="623.4" height="178.8" fill="none" stroke="#000" stroke-width="1.2"/>
<path d="M15.29 35.51V34.24M24.51 149.47V145.32M27.58 48.67V43.48M33.73 141.39V136.66M36.8 61.37V52.25M49.09 50.87V48.56M52.17 35.05V34.24M55.24 63.68V61.03M58.31 37.01V34.24M61.39 139.66V136.66M76.75 144.05V143.35M79.83 37.01V34.58M85.97 147.28V142.43M98.26 52.25V48.56M101.34 147.51V141.85M107.48 136.77V135.27M113.63 145.08V141.85M119.77 46.71V42.67M122.85 53.52V51.56M125.92 68.65V51.56M141.28 62.76V61.03M162.8 142.54V141.85M181.23 142.54V136.66M187.38 65.41V57.45M193.53 94.63V94.05M205.82 43.48V34.58M208.89 72V70.61M221.18 153.05V149.13M227.33 49.71V43.01M233.47 69.57V69.11M236.55 90.59V88.28M239.62 40.94V33.89M242.69 34.01V33.89M245.77 92.43V86.43M248.84 35.97V33.89M251.91 142.54V136.66M258.06 147.97V146.24M261.13 104.56V94.86M276.5 150.86V149.13M279.57 85.85V84.58M291.86 53.52V52.25M298.01 79.73V69.92M301.08 36.2V33.89M310.3 40.94V33.89M316.45 65.76V57.45M319.52 61.37V52.25M331.81 61.37V52.25M341.03 141.39V136.66M344.1 136.77V136.66M347.18 94.97V92.66M353.32 54.1V48.56M359.47 149.47V149.13M365.61 100.17V96.36M368.69 64.72V57.45M374.83 139.89V130.77M380.98 89.08V88.97M384.05 142.08V136.66M387.12 50.06V48.56M393.27 75.69V58.83M396.34 66.22V57.45M408.64 37.01V34.35M411.71 47.17V43.48M414.78 49.71V34.35M420.93 57.79V52.25M436.29 143.58V141.85M451.66 142.89V141.85M454.73 85.85V84.58M457.8 40.94V34.35M460.88 70.96V69.92M463.95 62.76V61.03M467.02 108.14V105.83M470.1 60.33V57.45M476.24 106.29V102.25M479.31 141.39V136.66M482.39 39.9V34.35M485.46 84.12V83.08M500.83 65.41V59.64M503.9 52.6V52.25M516.19 74.88V69.92M534.63 34.47V34.35M537.7 56.64V52.25M540.77 60.33V58.83M543.85 59.29V57.45M559.21 54.33V52.25M565.36 144.97V141.85M568.43 139.31V136.66M571.5 64.84V60.33M580.72 150.51V149.7M583.8 41.86V34.35M589.94 63.68V57.91M599.16 146.24V136.54M602.24 143.7V142.2M617.6 143.7V142.2" stroke="#333" stroke-width="0.9" fill="none"/>
<path d="M2.67 40.08h6.8v6.8h-6.8zM5.75 148.73h6.8v6.8h-6.8zM8.82 68.25h6.8v6.8h-6.8zM11.89 30.84h6.8v6.8h-6.8zM14.97 40.08h6.8v6.8h-6.8zM18.04 154.62h6.8v6.8h-6.8zM21.11 141.92h6.8v6.8h-6.8zM24.18 40.08h6.8v6.8h-6.8zM27.26 107.62h6.8v6.8h-6.8zM30.33 133.26h6.8v6.8h-6.8zM33.4 48.85h6.8v6.8h-6.8zM36.48 139.95h6.8v6.8h-6.8zM39.55 162.58h6.8v6.8h-6.8zM42.62 66.52h6.8v6.8h-6.8zM45.7 45.16h6.8v6.8h-6.8zM48.77 30.84h6.8v6.8h-6.8zM51.84 57.63h6.8v6.8h-6.8zM54.91 30.84h6.8v6.8h-6.8zM57.99 133.26h6.8v6.8h-6.8zM61.06 98.04h6.8v6.8h-6.8zM64.13 40.08h6.8v6.8h-6.8zM67.21 66.52h6.8v6.8h-6.8zM70.28 59.82h6.8v6.8h-6.8zM73.35 139.95h6.8v6.8h-6.8zM76.42 31.18h6.8v6.8h-6.8zM79.5 139.95h6.8v6.8h-6.8zM82.57 139.03h6.8v6.8h-6.8zM85.64 48.85h6.8v6.8h-6.8zM88.72 76.79h6.8v6.8h-6.8zM91.79 145.73h6.8v6.8h-6.8zM94.86 45.16h6.8v6.8h-6.8zM97.94 138.45h6.8v6.8h-6.8zM101.01 98.85h6.8v6.8h-6.8zM104.08 131.87h6.8v6.8h-6.8zM107.15 42.96h6.8v6.8h-6.8zM110.23 138.45h6.8v6.8h-6.8zM113.3 105.66h6.8v6.8h-6.8zM116.37 39.27h6.8v6.8h-6.8zM119.45 48.16h6.8v6.8h-6.8zM122.52 48.16h6.8v6.8h-6.8zM125.59 48.16h6.8v6.8h-6.8zM128.67 76.79h6.8v6.8h-6.8zM131.74 48.16h6.8v6.8h-6.8zM134.81 66.52h6.8v6.8h-6.8zM137.88 57.63h6.8v6.8h-6.8zM140.96 45.16h6.8v6.8h-6.8zM144.03 138.45h6.8v6.8h-6.8zM147.1 43.77h6.8v6.8h-6.8zM150.18 56.24h6.8v6.8h-6.8zM153.25 146.53h6.8v6.8h-6.8zM156.32 66.52h6.8v6.8h-6.8zM159.4 138.45h6.8v6.8h-6.8zM162.47 48.85h6.8v6.8h-6.8zM165.54 66.52h6.8v6.8h-6.8zM168.61 56.24h6.8v6.8h-6.8zM171.69 76.79h6.8v6.8h-6.8zM174.76 139.95h6.8v6.8h-6.8zM177.83 133.26h6.8v6.8h-6.8zM180.91 146.53h6.8v6.8h-6.8zM183.98 54.05h6.8v6.8h-6.8zM187.05 132.56h6.8v6.8h-6.8zM190.13 90.65h6.8v6.8h-6.8zM193.2 98.85h6.8v6.8h-6.8zM196.27 98.85h6.8v6.8h-6.8zM199.34 81.87h6.8v6.8h-6.8zM202.42 31.18h6.8v6.8h-6.8zM205.49 67.21h6.8v6.8h-6.8zM208.56 90.65h6.8v6.8h-6.8zM211.64 59.82h6.8v6.8h-6.8zM214.71 145.73h6.8v6.8h-6.8zM217.78 145.73h6.8v6.8h-6.8zM220.86 87.76h6.8v6.8h-6.8zM223.93 39.61h6.8v6.8h-6.8zM227 136.95h6.8v6.8h-6.8zM230.07 65.71h6.8v6.8h-6.8zM233.15 84.88h6.8v6.8h-6.8zM236.22 30.49h6.8v6.8h-6.8zM239.29 30.49h6.8v6.8h-6.8zM242.37 83.03h6.8v6.8h-6.8zM245.44 30.49h6.8v6.8h-6.8zM248.51 133.26h6.8v6.8h-6.8zM251.59 49.31h6.8v6.8h-6.8zM254.66 142.84h6.8v6.8h-6.8zM257.73 91.46h6.8v6.8h-6.8zM260.81 66.52h6.8v6.8h-6.8zM263.88 98.85h6.8v6.8h-6.8zM266.95 66.52h6.8v6.8h-6.8zM270.02 49.31h6.8v6.8h-6.8zM273.1 145.73h6.8v6.8h-6.8zM276.17 81.18h6.8v6.8h-6.8zM279.24 145.73h6.8v6.8h-6.8zM282.32 138.45h6.8v6.8h-6.8zM285.39 160.39h6.8v6.8h-6.8zM288.46 48.85h6.8v6.8h-6.8zM291.54 66.52h6.8v6.8h-6.8zM294.61 66.52h6.8v6.8h-6.8zM297.68 30.49h6.8v6.8h-6.8zM300.75 68.71h6.8v6.8h-6.8zM303.83 84.07h6.8v6.8h-6.8zM306.9 30.49h6.8v6.8h-6.8zM309.97 57.63h6.8v6.8h-6.8zM313.05 54.05h6.8v6.8h-6.8zM316.12 48.85h6.8v6.8h-6.8zM319.19 160.85h6.8v6.8h-6.8zM322.27 98.85h6.8v6.8h-6.8zM325.34 87.07h6.8v6.8h-6.8zM328.41 48.85h6.8v6.8h-6.8zM331.48 150.92h6.8v6.8h-6.8zM334.56 145.73h6.8v6.8h-6.8zM337.63 133.26h6.8v6.8h-6.8zM340.7 133.26h6.8v6.8h-6.8zM343.78 89.26h6.8v6.8h-6.8zM346.85 76.79h6.8v6.8h-6.8zM349.92 45.16h6.8v6.8h-6.8zM353 151.61h6.8v6.8h-6.8zM356.07 145.73h6.8v6.8h-6.8zM359.14 87.76h6.8v6.8h-6.8zM362.21 92.96h6.8v6.8h-6.8zM365.29 54.05h6.8v6.8h-6.8zM368.36 98.85h6.8v6.8h-6.8zM371.43 127.37h6.8v6.8h-6.8zM374.51 98.85h6.8v6.8h-6.8zM377.58 85.57h6.8v6.8h-6.8zM380.65 133.26h6.8v6.8h-6.8zM383.73 45.16h6.8v6.8h-6.8zM386.8 30.95h6.8v6.8h-6.8zM389.87 55.43h6.8v6.8h-6.8zM392.94 54.05h6.8v6.8h-6.8zM396.02 92.96h6.8v6.8h-6.8zM399.09 145.73h6.8v6.8h-6.8zM402.16 54.05h6.8v6.8h-6.8zM405.24 30.95h6.8v6.8h-6.8zM408.31 40.08h6.8v6.8h-6.8zM411.38 30.95h6.8v6.8h-6.8zM414.46 57.63h6.8v6.8h-6.8zM417.53 48.85h6.8v6.8h-6.8zM420.6 76.79h6.8v6.8h-6.8zM423.67 30.95h6.8v6.8h-6.8zM426.75 66.52h6.8v6.8h-6.8zM429.82 107.62h6.8v6.8h-6.8zM432.89 138.45h6.8v6.8h-6.8zM435.97 148.73h6.8v6.8h-6.8zM439.04 65.71h6.8v6.8h-6.8zM442.11 150.92h6.8v6.8h-6.8zM445.19 48.85h6.8v6.8h-6.8zM448.26 138.45h6.8v6.8h-6.8zM451.33 81.18h6.8v6.8h-6.8zM454.4 30.95h6.8v6.8h-6.8zM457.48 66.52h6.8v6.8h-6.8zM460.55 57.63h6.8v6.8h-6.8zM463.62 102.43h6.8v6.8h-6.8zM466.7 54.05h6.8v6.8h-6.8zM469.77 90.42h6.8v6.8h-6.8zM472.84 98.85h6.8v6.8h-6.8zM475.92 133.26h6.8v6.8h-6.8zM478.99 30.95h6.8v6.8h-6.8zM482.06 79.68h6.8v6.8h-6.8zM485.13 99.19h6.8v6.8h-6.8zM488.21 136.95h6.8v6.8h-6.8zM491.28 48.85h6.8v6.8h-6.8zM494.35 80.37h6.8v6.8h-6.8zM497.43 56.24h6.8v6.8h-6.8zM500.5 48.85h6.8v6.8h-6.8zM503.57 138.45h6.8v6.8h-6.8zM506.65 145.73h6.8v6.8h-6.8zM509.72 66.52h6.8v6.8h-6.8zM512.79 66.52h6.8v6.8h-6.8zM515.86 48.85h6.8v6.8h-6.8zM518.94 45.16h6.8v6.8h-6.8zM522.01 48.85h6.8v6.8h-6.8zM525.08 45.16h6.8v6.8h-6.8zM528.16 145.73h6.8v6.8h-6.8zM531.23 30.95h6.8v6.8h-6.8zM534.3 48.85h6.8v6.8h-6.8zM537.38 55.43h6.8v6.8h-6.8zM540.45 54.05h6.8v6.8h-6.8zM543.52 138.45h6.8v6.8h-6.8zM546.59 145.73h6.8v6.8h-6.8zM549.67 66.52h6.8v6.8h-6.8zM552.74 40.08h6.8v6.8h-6.8zM555.81 48.85h6.8v6.8h-6.8zM558.89 87.76h6.8v6.8h-6.8zM561.96 138.45h6.8v6.8h-6.8zM565.03 133.26h6.8v6.8h-6.8zM568.11 56.93h6.8v6.8h-6.8zM571.18 146.3h6.8v6.8h-6.8zM574.25 84.53h6.8v6.8h-6.8zM577.32 146.3h6.8v6.8h-6.8zM580.4 30.95h6.8v6.8h-6.8zM583.47 146.3h6.8v6.8h-6.8zM586.54 54.51h6.8v6.8h-6.8zM589.62 139.38h6.8v6.8h-6.8zM592.69 43.65h6.8v6.8h-6.8zM595.76 133.14h6.8v6.8h-6.8zM598.84 138.8h6.8v6.8h-6.8zM601.91 146.3h6.8v6.8h-6.8zM604.98 57.63h6.8v6.8h-6.8zM608.05 145.61h6.8v6.8h-6.8zM611.13 45.16h6.8v6.8h-6.8zM614.2 138.8h6.8v6.8h-6.8z" fill="#000"/>
<path d="M6.07 179.4V43.48M9.15 179.4V151.67M12.22 179.4V67.61M15.29 179.4V35.51M18.37 179.4V43.24M21.44 179.4V154.21M24.51 179.4V149.47M27.58 179.4V48.67M30.66 179.4V106.63M33.73 179.4V141.39M36.8 179.4V61.37M39.88 179.4V141.74M42.95 179.4V162.98M46.02 179.4V65.18M49.09 179.4V50.87M52.17 179.4V35.05M55.24 179.4V63.68M58.31 179.4V37.01M61.39 179.4V139.66M64.46 179.4V96.82M67.53 179.4V42.78M70.61 179.4V69.11M73.68 179.4V63.22M76.75 179.4V144.05M79.83 179.4V37.01M82.9 179.4V141.16M85.97 179.4V147.28M89.04 179.4V51.56M92.12 179.4V77.88M95.19 179.4V146.93M98.26 179.4V52.25M101.34 179.4V147.51M104.41 179.4V100.75M107.48 179.4V136.77M110.55 179.4V45.32M113.63 179.4V145.08M116.7 179.4V103.17M119.77 179.4V46.71M122.85 179.4V53.52M125.92 179.4V68.65M128.99 179.4V48.67M132.07 179.4V73.03M135.14 179.4V45.32M138.21 179.4V62.76M141.28 179.4V62.76M144.36 179.4V46.71M147.43 179.4V141.16M150.5 179.4V43.82M153.58 179.4V54.1M156.65 179.4V144.05M159.72 179.4V62.53M162.8 179.4V142.54M165.87 179.4V44.28M168.94 179.4V65.18M172.01 179.4V55.95M175.09 179.4V76.38M178.16 179.4V139.66M181.23 179.4V142.54M184.31 179.4V147.97M187.38 179.4V65.41M190.45 179.4V131.11M193.53 179.4V94.63M196.6 179.4V94.63M199.67 179.4V90.24M202.75 179.4V81.23M205.82 179.4V43.48M208.89 179.4V72M211.96 179.4V91.39M215.04 179.4V55.95M218.11 179.4V146.47M221.18 179.4V153.05M224.26 179.4V91.05M227.33 179.4V49.71M230.4 179.4V139.2M233.47 179.4V69.57M236.55 179.4V90.59M239.62 179.4V40.94M242.69 179.4V34.01M245.77 179.4V92.43M248.84 179.4V35.97M251.91 179.4V142.54M254.99 179.4V49.36M258.06 179.4V147.97M261.13 179.4V104.56M264.2 179.4V65.76M267.28 179.4V94.97M270.35 179.4V61.83M273.42 179.4V51.1M276.5 179.4V150.86M279.57 179.4V85.85M282.64 179.4V147.97M285.72 179.4V140.7M288.79 179.4V162.63M291.86 179.4V53.52M294.94 179.4V66.22M298.01 179.4V79.73M301.08 179.4V36.2M304.15 179.4V67.15M307.23 179.4V87.35M310.3 179.4V40.94M313.37 179.4V59.87M316.45 179.4V65.76M319.52 179.4V61.37M322.59 179.4V164.02M325.67 179.4V95.78M328.74 179.4V88.51M331.81 179.4V61.37M334.88 179.4V153.86M337.96 179.4V145.08M341.03 179.4V141.39M344.1 179.4V136.77M347.18 179.4V94.97M350.25 179.4V75.92M353.32 179.4V54.1M356.39 179.4V150.16M359.47 179.4V149.47M362.54 179.4V90.01M365.61 179.4V100.17M368.69 179.4V64.72M371.76 179.4V88.04M374.83 179.4V139.89M377.91 179.4V91.74M380.98 179.4V89.08M384.05 179.4V142.08M387.12 179.4V50.06M390.2 179.4V34.01M393.27 179.4V75.69M396.34 179.4V66.22M399.42 179.4V95.78M402.49 179.4V148.66M405.56 179.4V56.98M408.64 179.4V37.01M411.71 179.4V47.17M414.78 179.4V49.71M417.86 179.4V55.48M420.93 179.4V57.79M424 179.4V64.72M427.07 179.4V34.01M430.15 179.4V64.72M433.22 179.4V95.43" stroke="#f7a76f" stroke-width="1.3" fill="none"/>
<path d="M436.29 179.4V143.58M439.37 179.4V149.01M442.44 179.4V68.65M445.51 179.4V152.36M448.58 179.4V50.52M451.66 179.4V142.89M454.73 179.4V85.85M457.8 179.4V40.94M460.88 179.4V70.96M463.95 179.4V62.76M467.02 179.4V108.14M470.1 179.4V60.33M473.17 179.4V93.24M476.24 179.4V106.29M479.31 179.4V141.39M482.39 179.4V39.9M485.46 179.4V84.12M488.53 179.4V100.17M491.61 179.4V137.35M494.68 179.4V50.06M497.75 179.4V76.84M500.83 179.4V65.41M503.9 179.4V52.6M506.97 179.4V139.66M510.05 179.4V142.89M513.12 179.4V66.22M516.19 179.4V74.88M519.26 179.4V51.56M522.34 179.4V47.86M525.41 179.4V52.25" stroke="#d2b3ef" stroke-width="1.3" fill="none"/>
<path d="M528.48 179.4V43.48M531.56 179.4V146.12M534.63 179.4V34.47M537.7 179.4V56.64M540.77 179.4V60.33M543.85 179.4V59.29M546.92 179.4V141.85M549.99 179.4V144.97M553.07 179.4V66.11M556.14 179.4V43.13M559.21 179.4V54.33M562.29 179.4V90.93M565.36 179.4V144.97M568.43 179.4V139.31M571.5 179.4V64.84M574.58 179.4V144.97M577.65 179.4V85.97M580.72 179.4V150.51M583.8 179.4V41.86M586.87 179.4V144.97M589.94 179.4V63.68M593.02 179.4V138.16M596.09 179.4V46.59M599.16 179.4V146.24M602.24 179.4V143.7M605.31 179.4V141.27M608.38 179.4V43.82M611.45 179.4V146.24M614.53 179.4V47.17M617.6 179.4V143.7" stroke="#b0ea62" stroke-width="1.3" fill="none"/>
<circle cx="6.07" cy="43.48" r="3.6" fill="url(#gMLFOtr)"/>
<circle cx="9.15" cy="151.67" r="3.6" fill="url(#gMLFOtr)"/>
<circle cx="12.22" cy="67.61" r="3.6" fill="url(#gMLFOtr)"/>
<circle cx="15.29" cy="35.51" r="3.6" fill="url(#gMLFOtr)"/>
<circle cx="18.37" cy="43.24" r="3.6" fill="url(#gMLFOtr)"/>
<circle cx="21.44" cy="154.21" r="3.6" fill="url(#gMLFOtr)"/>
<circle cx="24.51" cy="149.47" r="3.6" fill="url(#gMLFOtr)"/>
<circle cx="27.58" cy="48.67" r="3.6" fill="url(#gMLFOtr)"/>
<circle cx="30.66" cy="106.63" r="3.6" fill="url(#gMLFOtr)"/>
<circle cx="33.73" cy="141.39" r="3.6" fill="url(#gMLFOtr)"/>
<circle cx="36.8" cy="61.37" r="3.6" fill="url(#gMLFOtr)"/>
<circle cx="39.88" cy="141.74" r="3.6" fill="url(#gMLFOtr)"/>
<circle cx="42.95" cy="162.98" r="3.6" fill="url(#gMLFOtr)"/>
<circle cx="46.02" cy="65.18" r="3.6" fill="url(#gMLFOtr)"/>
<circle cx="49.09" cy="50.87" r="3.6" fill="url(#gMLFOtr)"/>
<circle cx="52.17" cy="35.05" r="3.6" fill="url(#gMLFOtr)"/>
<circle cx="55.24" cy="63.68" r="3.6" fill="url(#gMLFOtr)"/>
<circle cx="58.31" cy="37.01" r="3.6" fill="url(#gMLFOtr)"/>
<circle cx="61.39" cy="139.66" r="3.6" fill="url(#gMLFOtr)"/>
<circle cx="64.46" cy="96.82" r="3.6" fill="url(#gMLFOtr)"/>
<circle cx="67.53" cy="42.78" r="3.6" fill="url(#gMLFOtr)"/>
<circle cx="70.61" cy="69.11" r="3.6" fill="url(#gMLFOtr)"/>
<circle cx="73.68" cy="63.22" r="3.6" fill="url(#gMLFOtr)"/>
<circle cx="76.75" cy="144.05" r="3.6" fill="url(#gMLFOtr)"/>
<circle cx="79.83" cy="37.01" r="3.6" fill="url(#gMLFOtr)"/>
<circle cx="82.9" cy="141.16" r="3.6" fill="url(#gMLFOtr)"/>
<circle cx="85.97" cy="147.28" r="3.6" fill="url(#gMLFOtr)"/>
<circle cx="89.04" cy="51.56" r="3.6" fill="url(#gMLFOtr)"/>
<circle cx="92.12" cy="77.88" r="3.6" fill="url(#gMLFOtr)"/>
<circle cx="95.19" cy="146.93" r="3.6" fill="url(#gMLFOtr)"/>
<circle cx="98.26" cy="52.25" r="3.6" fill="url(#gMLFOtr)"/>
<circle cx="101.34" cy="147.51" r="3.6" fill="url(#gMLFOtr)"/>
<circle cx="104.41" cy="100.75" r="3.6" fill="url(#gMLFOtr)"/>
<circle cx="107.48" cy="136.77" r="3.6" fill="url(#gMLFOtr)"/>
<circle cx="110.55" cy="45.32" r="3.6" fill="url(#gMLFOtr)"/>
<circle cx="113.63" cy="145.08" r="3.6" fill="url(#gMLFOtr)"/>
<circle cx="116.7" cy="103.17" r="3.6" fill="url(#gMLFOtr)"/>
<circle cx="119.77" cy="46.71" r="3.6" fill="url(#gMLFOtr)"/>
<circle cx="122.85" cy="53.52" r="3.6" fill="url(#gMLFOtr)"/>
<circle cx="125.92" cy="68.65" r="3.6" fill="url(#gMLFOtr)"/>
<circle cx="128.99" cy="48.67" r="3.6" fill="url(#gMLFOtr)"/>
<circle cx="132.07" cy="73.03" r="3.6" fill="url(#gMLFOtr)"/>
<circle cx="135.14" cy="45.32" r="3.6" fill="url(#gMLFOtr)"/>
<circle cx="138.21" cy="62.76" r="3.6" fill="url(#gMLFOtr)"/>
<circle cx="141.28" cy="62.76" r="3.6" fill="url(#gMLFOtr)"/>
<circle cx="144.36" cy="46.71" r="3.6" fill="url(#gMLFOtr)"/>
<circle cx="147.43" cy="141.16" r="3.6" fill="url(#gMLFOtr)"/>
<circle cx="150.5" cy="43.82" r="3.6" fill="url(#gMLFOtr)"/>
<circle cx="153.58" cy="54.1" r="3.6" fill="url(#gMLFOtr)"/>
<circle cx="156.65" cy="144.05" r="3.6" fill="url(#gMLFOtr)"/>
<circle cx="159.72" cy="62.53" r="3.6" fill="url(#gMLFOtr)"/>
<circle cx="162.8" cy="142.54" r="3.6" fill="url(#gMLFOtr)"/>
<circle cx="165.87" cy="44.28" r="3.6" fill="url(#gMLFOtr)"/>
<circle cx="168.94" cy="65.18" r="3.6" fill="url(#gMLFOtr)"/>
<circle cx="172.01" cy="55.95" r="3.6" fill="url(#gMLFOtr)"/>
<circle cx="175.09" cy="76.38" r="3.6" fill="url(#gMLFOtr)"/>
<circle cx="178.16" cy="139.66" r="3.6" fill="url(#gMLFOtr)"/>
<circle cx="181.23" cy="142.54" r="3.6" fill="url(#gMLFOtr)"/>
<circle cx="184.31" cy="147.97" r="3.6" fill="url(#gMLFOtr)"/>
<circle cx="187.38" cy="65.41" r="3.6" fill="url(#gMLFOtr)"/>
<circle cx="190.45" cy="131.11" r="3.6" fill="url(#gMLFOtr)"/>
<circle cx="193.53" cy="94.63" r="3.6" fill="url(#gMLFOtr)"/>
<circle cx="196.6" cy="94.63" r="3.6" fill="url(#gMLFOtr)"/>
<circle cx="199.67" cy="90.24" r="3.6" fill="url(#gMLFOtr)"/>
<circle cx="202.75" cy="81.23" r="3.6" fill="url(#gMLFOtr)"/>
<circle cx="205.82" cy="43.48" r="3.6" fill="url(#gMLFOtr)"/>
<circle cx="208.89" cy="72" r="3.6" fill="url(#gMLFOtr)"/>
<circle cx="211.96" cy="91.39" r="3.6" fill="url(#gMLFOtr)"/>
<circle cx="215.04" cy="55.95" r="3.6" fill="url(#gMLFOtr)"/>
<circle cx="218.11" cy="146.47" r="3.6" fill="url(#gMLFOtr)"/>
<circle cx="221.18" cy="153.05" r="3.6" fill="url(#gMLFOtr)"/>
<circle cx="224.26" cy="91.05" r="3.6" fill="url(#gMLFOtr)"/>
<circle cx="227.33" cy="49.71" r="3.6" fill="url(#gMLFOtr)"/>
<circle cx="230.4" cy="139.2" r="3.6" fill="url(#gMLFOtr)"/>
<circle cx="233.47" cy="69.57" r="3.6" fill="url(#gMLFOtr)"/>
<circle cx="236.55" cy="90.59" r="3.6" fill="url(#gMLFOtr)"/>
<circle cx="239.62" cy="40.94" r="3.6" fill="url(#gMLFOtr)"/>
<circle cx="242.69" cy="34.01" r="3.6" fill="url(#gMLFOtr)"/>
<circle cx="245.77" cy="92.43" r="3.6" fill="url(#gMLFOtr)"/>
<circle cx="248.84" cy="35.97" r="3.6" fill="url(#gMLFOtr)"/>
<circle cx="251.91" cy="142.54" r="3.6" fill="url(#gMLFOtr)"/>
<circle cx="254.99" cy="49.36" r="3.6" fill="url(#gMLFOtr)"/>
<circle cx="258.06" cy="147.97" r="3.6" fill="url(#gMLFOtr)"/>
<circle cx="261.13" cy="104.56" r="3.6" fill="url(#gMLFOtr)"/>
<circle cx="264.2" cy="65.76" r="3.6" fill="url(#gMLFOtr)"/>
<circle cx="267.28" cy="94.97" r="3.6" fill="url(#gMLFOtr)"/>
<circle cx="270.35" cy="61.83" r="3.6" fill="url(#gMLFOtr)"/>
<circle cx="273.42" cy="51.1" r="3.6" fill="url(#gMLFOtr)"/>
<circle cx="276.5" cy="150.86" r="3.6" fill="url(#gMLFOtr)"/>
<circle cx="279.57" cy="85.85" r="3.6" fill="url(#gMLFOtr)"/>
<circle cx="282.64" cy="147.97" r="3.6" fill="url(#gMLFOtr)"/>
<circle cx="285.72" cy="140.7" r="3.6" fill="url(#gMLFOtr)"/>
<circle cx="288.79" cy="162.63" r="3.6" fill="url(#gMLFOtr)"/>
<circle cx="291.86" cy="53.52" r="3.6" fill="url(#gMLFOtr)"/>
<circle cx="294.94" cy="66.22" r="3.6" fill="url(#gMLFOtr)"/>
<circle cx="298.01" cy="79.73" r="3.6" fill="url(#gMLFOtr)"/>
<circle cx="301.08" cy="36.2" r="3.6" fill="url(#gMLFOtr)"/>
<circle cx="304.15" cy="67.15" r="3.6" fill="url(#gMLFOtr)"/>
<circle cx="307.23" cy="87.35" r="3.6" fill="url(#gMLFOtr)"/>
<circle cx="310.3" cy="40.94" r="3.6" fill="url(#gMLFOtr)"/>
<circle cx="313.37" cy="59.87" r="3.6" fill="url(#gMLFOtr)"/>
<circle cx="316.45" cy="65.76" r="3.6" fill="url(#gMLFOtr)"/>
<circle cx="319.52" cy="61.37" r="3.6" fill="url(#gMLFOtr)"/>
<circle cx="322.59" cy="164.02" r="3.6" fill="url(#gMLFOtr)"/>
<circle cx="325.67" cy="95.78" r="3.6" fill="url(#gMLFOtr)"/>
<circle cx="328.74" cy="88.51" r="3.6" fill="url(#gMLFOtr)"/>
<circle cx="331.81" cy="61.37" r="3.6" fill="url(#gMLFOtr)"/>
<circle cx="334.88" cy="153.86" r="3.6" fill="url(#gMLFOtr)"/>
<circle cx="337.96" cy="145.08" r="3.6" fill="url(#gMLFOtr)"/>
<circle cx="341.03" cy="141.39" r="3.6" fill="url(#gMLFOtr)"/>
<circle cx="344.1" cy="136.77" r="3.6" fill="url(#gMLFOtr)"/>
<circle cx="347.18" cy="94.97" r="3.6" fill="url(#gMLFOtr)"/>
<circle cx="350.25" cy="75.92" r="3.6" fill="url(#gMLFOtr)"/>
<circle cx="353.32" cy="54.1" r="3.6" fill="url(#gMLFOtr)"/>
<circle cx="356.39" cy="150.16" r="3.6" fill="url(#gMLFOtr)"/>
<circle cx="359.47" cy="149.47" r="3.6" fill="url(#gMLFOtr)"/>
<circle cx="362.54" cy="90.01" r="3.6" fill="url(#gMLFOtr)"/>
<circle cx="365.61" cy="100.17" r="3.6" fill="url(#gMLFOtr)"/>
<circle cx="368.69" cy="64.72" r="3.6" fill="url(#gMLFOtr)"/>
<circle cx="371.76" cy="88.04" r="3.6" fill="url(#gMLFOtr)"/>
<circle cx="374.83" cy="139.89" r="3.6" fill="url(#gMLFOtr)"/>
<circle cx="377.91" cy="91.74" r="3.6" fill="url(#gMLFOtr)"/>
<circle cx="380.98" cy="89.08" r="3.6" fill="url(#gMLFOtr)"/>
<circle cx="384.05" cy="142.08" r="3.6" fill="url(#gMLFOtr)"/>
<circle cx="387.12" cy="50.06" r="3.6" fill="url(#gMLFOtr)"/>
<circle cx="390.2" cy="34.01" r="3.6" fill="url(#gMLFOtr)"/>
<circle cx="393.27" cy="75.69" r="3.6" fill="url(#gMLFOtr)"/>
<circle cx="396.34" cy="66.22" r="3.6" fill="url(#gMLFOtr)"/>
<circle cx="399.42" cy="95.78" r="3.6" fill="url(#gMLFOtr)"/>
<circle cx="402.49" cy="148.66" r="3.6" fill="url(#gMLFOtr)"/>
<circle cx="405.56" cy="56.98" r="3.6" fill="url(#gMLFOtr)"/>
<circle cx="408.64" cy="37.01" r="3.6" fill="url(#gMLFOtr)"/>
<circle cx="411.71" cy="47.17" r="3.6" fill="url(#gMLFOtr)"/>
<circle cx="414.78" cy="49.71" r="3.6" fill="url(#gMLFOtr)"/>
<circle cx="417.86" cy="55.48" r="3.6" fill="url(#gMLFOtr)"/>
<circle cx="420.93" cy="57.79" r="3.6" fill="url(#gMLFOtr)"/>
<circle cx="424" cy="64.72" r="3.6" fill="url(#gMLFOtr)"/>
<circle cx="427.07" cy="34.01" r="3.6" fill="url(#gMLFOtr)"/>
<circle cx="430.15" cy="64.72" r="3.6" fill="url(#gMLFOtr)"/>
<circle cx="433.22" cy="95.43" r="3.6" fill="url(#gMLFOtr)"/>
<circle cx="436.29" cy="143.58" r="3.6" fill="url(#gMLFOva)"/>
<circle cx="439.37" cy="149.01" r="3.6" fill="url(#gMLFOva)"/>
<circle cx="442.44" cy="68.65" r="3.6" fill="url(#gMLFOva)"/>
<circle cx="445.51" cy="152.36" r="3.6" fill="url(#gMLFOva)"/>
<circle cx="448.58" cy="50.52" r="3.6" fill="url(#gMLFOva)"/>
<circle cx="451.66" cy="142.89" r="3.6" fill="url(#gMLFOva)"/>
<circle cx="454.73" cy="85.85" r="3.6" fill="url(#gMLFOva)"/>
<circle cx="457.8" cy="40.94" r="3.6" fill="url(#gMLFOva)"/>
<circle cx="460.88" cy="70.96" r="3.6" fill="url(#gMLFOva)"/>
<circle cx="463.95" cy="62.76" r="3.6" fill="url(#gMLFOva)"/>
<circle cx="467.02" cy="108.14" r="3.6" fill="url(#gMLFOva)"/>
<circle cx="470.1" cy="60.33" r="3.6" fill="url(#gMLFOva)"/>
<circle cx="473.17" cy="93.24" r="3.6" fill="url(#gMLFOva)"/>
<circle cx="476.24" cy="106.29" r="3.6" fill="url(#gMLFOva)"/>
<circle cx="479.31" cy="141.39" r="3.6" fill="url(#gMLFOva)"/>
<circle cx="482.39" cy="39.9" r="3.6" fill="url(#gMLFOva)"/>
<circle cx="485.46" cy="84.12" r="3.6" fill="url(#gMLFOva)"/>
<circle cx="488.53" cy="100.17" r="3.6" fill="url(#gMLFOva)"/>
<circle cx="491.61" cy="137.35" r="3.6" fill="url(#gMLFOva)"/>
<circle cx="494.68" cy="50.06" r="3.6" fill="url(#gMLFOva)"/>
<circle cx="497.75" cy="76.84" r="3.6" fill="url(#gMLFOva)"/>
<circle cx="500.83" cy="65.41" r="3.6" fill="url(#gMLFOva)"/>
<circle cx="503.9" cy="52.6" r="3.6" fill="url(#gMLFOva)"/>
<circle cx="506.97" cy="139.66" r="3.6" fill="url(#gMLFOva)"/>
<circle cx="510.05" cy="142.89" r="3.6" fill="url(#gMLFOva)"/>
<circle cx="513.12" cy="66.22" r="3.6" fill="url(#gMLFOva)"/>
<circle cx="516.19" cy="74.88" r="3.6" fill="url(#gMLFOva)"/>
<circle cx="519.26" cy="51.56" r="3.6" fill="url(#gMLFOva)"/>
<circle cx="522.34" cy="47.86" r="3.6" fill="url(#gMLFOva)"/>
<circle cx="525.41" cy="52.25" r="3.6" fill="url(#gMLFOva)"/>
<circle cx="528.48" cy="43.48" r="3.6" fill="url(#gMLFOte)"/>
<circle cx="531.56" cy="146.12" r="3.6" fill="url(#gMLFOte)"/>
<circle cx="534.63" cy="34.47" r="3.6" fill="url(#gMLFOte)"/>
<circle cx="537.7" cy="56.64" r="3.6" fill="url(#gMLFOte)"/>
<circle cx="540.77" cy="60.33" r="3.6" fill="url(#gMLFOte)"/>
<circle cx="543.85" cy="59.29" r="3.6" fill="url(#gMLFOte)"/>
<circle cx="546.92" cy="141.85" r="3.6" fill="url(#gMLFOte)"/>
<circle cx="549.99" cy="144.97" r="3.6" fill="url(#gMLFOte)"/>
<circle cx="553.07" cy="66.11" r="3.6" fill="url(#gMLFOte)"/>
<circle cx="556.14" cy="43.13" r="3.6" fill="url(#gMLFOte)"/>
<circle cx="559.21" cy="54.33" r="3.6" fill="url(#gMLFOte)"/>
<circle cx="562.29" cy="90.93" r="3.6" fill="url(#gMLFOte)"/>
<circle cx="565.36" cy="144.97" r="3.6" fill="url(#gMLFOte)"/>
<circle cx="568.43" cy="139.31" r="3.6" fill="url(#gMLFOte)"/>
<circle cx="571.5" cy="64.84" r="3.6" fill="url(#gMLFOte)"/>
<circle cx="574.58" cy="144.97" r="3.6" fill="url(#gMLFOte)"/>
<circle cx="577.65" cy="85.97" r="3.6" fill="url(#gMLFOte)"/>
<circle cx="580.72" cy="150.51" r="3.6" fill="url(#gMLFOte)"/>
<circle cx="583.8" cy="41.86" r="3.6" fill="url(#gMLFOte)"/>
<circle cx="586.87" cy="144.97" r="3.6" fill="url(#gMLFOte)"/>
<circle cx="589.94" cy="63.68" r="3.6" fill="url(#gMLFOte)"/>
<circle cx="593.02" cy="138.16" r="3.6" fill="url(#gMLFOte)"/>
<circle cx="596.09" cy="46.59" r="3.6" fill="url(#gMLFOte)"/>
<circle cx="599.16" cy="146.24" r="3.6" fill="url(#gMLFOte)"/>
<circle cx="602.24" cy="143.7" r="3.6" fill="url(#gMLFOte)"/>
<circle cx="605.31" cy="141.27" r="3.6" fill="url(#gMLFOte)"/>
<circle cx="608.38" cy="43.82" r="3.6" fill="url(#gMLFOte)"/>
<circle cx="611.45" cy="146.24" r="3.6" fill="url(#gMLFOte)"/>
<circle cx="614.53" cy="47.17" r="3.6" fill="url(#gMLFOte)"/>
<circle cx="617.6" cy="143.7" r="3.6" fill="url(#gMLFOte)"/>
<path d="M-7.0 5.6H0M-3.8 22.92H0M-7.0 40.24H0M-3.8 57.56H0M-7.0 74.88H0M-3.8 92.2H0M-7.0 109.52H0M-3.8 126.84H0M-7.0 144.16H0M-3.8 161.48H0M-7.0 178.8H0M3 178.8v7.0M49.09 178.8v3.8M95.19 178.8v7.0M141.28 178.8v3.8M187.38 178.8v7.0M233.47 178.8v3.8M279.57 178.8v7.0M325.67 178.8v3.8M371.76 178.8v7.0M417.86 178.8v3.8M463.95 178.8v7.0M510.05 178.8v3.8M556.14 178.8v7.0M602.24 178.8v3.8" stroke="#000" stroke-width="1.1" fill="none"/>
<rect x="8.0" y="8.3" width="194.8" height="12.3" fill="#d9d9d9"/>
<rect x="5.0" y="5.3" width="194.8" height="12.3" fill="#fff" stroke="#a6a6a6" stroke-width="0.8"/>
<rect x="13.6" y="8.15" width="6.6" height="6.6" fill="#000"/>
<text x="26.6" y="15.15" font-size="8.7">Measured</text>
<circle cx="71.5" cy="11.45" r="3.7" fill="url(#gMLFOtr)"/>
<text x="81.6" y="15.15" font-size="8.7">Train</text>
<circle cx="111.0" cy="11.45" r="3.7" fill="url(#gMLFOva)"/>
<text x="123.6" y="15.15" font-size="8.7">Validation</text>
<circle cx="169.7" cy="11.45" r="3.7" fill="url(#gMLFOte)"/>
<text x="182.6" y="15.15" font-size="8.7">Test</text>
<rect x="210.8" y="8.3" width="39.7" height="13.0" fill="#d9d9d9"/>
<rect x="207.8" y="5.3" width="39.7" height="13.0" fill="#fff" stroke="#a6a6a6" stroke-width="0.8"/>
<text x="227.65" y="15.25" text-anchor="middle" font-size="9.1">MLFO (3)</text>
</g>
<g transform="translate(60.4,1163.3) scale(1.00000,1)">
<text transform="translate(-11.9,10) scale(1,0.9994)" text-anchor="end" font-size="14.2">1800</text>
<text transform="translate(-11.9,44.62) scale(1,0.9994)" text-anchor="end" font-size="14.2">1500</text>
<text transform="translate(-11.9,79.24) scale(1,0.9994)" text-anchor="end" font-size="14.2">1200</text>
<text transform="translate(-11.9,113.86) scale(1,0.9994)" text-anchor="end" font-size="14.2">900</text>
<text transform="translate(-11.9,148.48) scale(1,0.9994)" text-anchor="end" font-size="14.2">600</text>
<text transform="translate(-11.9,183.1) scale(1,0.9994)" text-anchor="end" font-size="14.2">300</text>
<text transform="translate(3,201.69) scale(1,0.9994)" text-anchor="middle" font-size="14.2">0</text>
<text transform="translate(95.19,201.69) scale(1,0.9994)" text-anchor="middle" font-size="14.2">30</text>
<text transform="translate(187.38,201.69) scale(1,0.9994)" text-anchor="middle" font-size="14.2">60</text>
<text transform="translate(279.57,201.69) scale(1,0.9994)" text-anchor="middle" font-size="14.2">90</text>
<text transform="translate(371.76,201.69) scale(1,0.9994)" text-anchor="middle" font-size="14.2">120</text>
<text transform="translate(463.95,201.69) scale(1,0.9994)" text-anchor="middle" font-size="14.2">150</text>
<text transform="translate(556.14,201.69) scale(1,0.9994)" text-anchor="middle" font-size="14.2">180</text>
<text transform="translate(311.7,217.28) scale(1,0.9994)" text-anchor="middle" font-size="16">Sample Number</text>
<text transform="translate(-47.9,89.35) scale(1,0.9994) rotate(-90)" text-anchor="middle" font-size="16.6">P<tspan font-size="11.4" dy="3.6">u</tspan><tspan dy="-3.6"> (kN)</tspan></text>
</g>
<g transform="translate(60.4,1403.7) scale(1.00000,1.00000)">
<rect x="0" y="0" width="623.4" height="178.8" fill="none" stroke="#000" stroke-width="1.2"/>
<path d="M12.22 72.98V71.71M15.29 45.74V34.32M21.44 159.18V158.03M24.51 148.22V145.33M33.73 141.18V136.68M36.8 62.36V52.32M49.09 48.98V48.63M52.17 35.47V34.32M55.24 69.05V61.09M58.31 36.97V34.32M61.39 144.53V136.68M70.61 70.55V69.98M76.75 147.07V143.37M79.83 43.44V34.67M85.97 145.33V142.45M89.04 52.55V52.32M98.26 62.36V48.63M101.34 146.49V141.87M107.48 135.76V135.29M113.63 148.22V141.87M119.77 57.4V42.74M122.85 66.75V51.63M125.92 61.78V51.63M141.28 83.25V61.09M147.43 142.68V141.87M181.23 141.64V136.68M187.38 69.63V57.51M190.45 139.79V135.99M193.53 96.87V94.1M196.6 107.37V102.29M205.82 41.36V34.67M221.18 151.1V149.14M227.33 49.67V43.09M230.4 143.14V140.37M239.62 36.97V33.97M242.69 34.09V33.97M248.84 42.4V33.97M251.91 140.95V136.68M261.13 103.21V94.9M276.5 149.95V149.14M279.57 85.1V84.63M285.72 142.33V141.87M310.3 36.97V33.97M313.37 61.32V61.09M316.45 67.21V57.51M319.52 62.36V52.32M328.74 94.9V90.52M331.81 62.36V52.32M334.88 154.8V154.34M341.03 141.64V136.68M347.18 99.75V92.71M353.32 66.75V48.63M365.61 99.29V96.4M368.69 67.67V57.51M374.83 137.95V130.79M384.05 146.49V136.68M393.27 62.82V58.9M396.34 67.67V57.51M402.49 153.76V149.14M405.56 59.48V57.51M408.64 37.2V34.43M411.71 48.63V43.55M414.78 39.86V34.43M436.29 146.03V141.87M442.44 70.09V69.17M454.73 85.44V84.63M457.8 37.55V34.43M460.88 72.98V69.98M463.95 67.67V61.09M467.02 106.56V105.87M470.1 65.25V57.51M473.17 98.83V93.87M479.31 137.26V136.68M482.39 40.2V34.43M488.53 105.64V102.64M491.61 140.95V140.37M500.83 60.63V59.71M503.9 53.01V52.32M516.19 82.79V69.98M525.41 53.01V52.32M528.48 49.21V48.63M534.63 40.9V34.43M537.7 59.48V52.32M540.77 61.32V58.9M546.92 141.99V141.87M556.14 48.63V43.55M559.21 55.78V52.32M562.29 91.33V91.21M565.36 146.37V141.87M568.43 138.87V136.68M571.5 63.17V60.4M580.72 150.41V149.72M583.8 45.4V34.43M589.94 64.09V57.98M593.02 146.37V142.8M596.09 47.47V47.13M599.16 145.68V136.56M608.38 71.48V61.09M617.6 143.26V142.22" stroke="#333" stroke-width="0.9" fill="none"/>
<path d="M2.67 40.15h6.8v6.8h-6.8zM5.75 148.74h6.8v6.8h-6.8zM8.82 68.31h6.8v6.8h-6.8zM11.89 30.92h6.8v6.8h-6.8zM14.97 40.15h6.8v6.8h-6.8zM18.04 154.63h6.8v6.8h-6.8zM21.11 141.93h6.8v6.8h-6.8zM24.18 40.15h6.8v6.8h-6.8zM27.26 107.66h6.8v6.8h-6.8zM30.33 133.28h6.8v6.8h-6.8zM33.4 48.92h6.8v6.8h-6.8zM36.48 139.97h6.8v6.8h-6.8zM39.55 162.59h6.8v6.8h-6.8zM42.62 66.58h6.8v6.8h-6.8zM45.7 45.23h6.8v6.8h-6.8zM48.77 30.92h6.8v6.8h-6.8zM51.84 57.69h6.8v6.8h-6.8zM54.91 30.92h6.8v6.8h-6.8zM57.99 133.28h6.8v6.8h-6.8zM61.06 98.08h6.8v6.8h-6.8zM64.13 40.15h6.8v6.8h-6.8zM67.21 66.58h6.8v6.8h-6.8zM70.28 59.88h6.8v6.8h-6.8zM73.35 139.97h6.8v6.8h-6.8zM76.42 31.27h6.8v6.8h-6.8zM79.5 139.97h6.8v6.8h-6.8zM82.57 139.05h6.8v6.8h-6.8zM85.64 48.92h6.8v6.8h-6.8zM88.72 76.85h6.8v6.8h-6.8zM91.79 145.74h6.8v6.8h-6.8zM94.86 45.23h6.8v6.8h-6.8zM97.94 138.47h6.8v6.8h-6.8zM101.01 98.89h6.8v6.8h-6.8zM104.08 131.89h6.8v6.8h-6.8zM107.15 43.04h6.8v6.8h-6.8zM110.23 138.47h6.8v6.8h-6.8zM113.3 105.7h6.8v6.8h-6.8zM116.37 39.34h6.8v6.8h-6.8zM119.45 48.23h6.8v6.8h-6.8zM122.52 48.23h6.8v6.8h-6.8zM125.59 48.23h6.8v6.8h-6.8zM128.67 76.85h6.8v6.8h-6.8zM131.74 48.23h6.8v6.8h-6.8zM134.81 66.58h6.8v6.8h-6.8zM137.88 57.69h6.8v6.8h-6.8zM140.96 45.23h6.8v6.8h-6.8zM144.03 138.47h6.8v6.8h-6.8zM147.1 43.84h6.8v6.8h-6.8zM150.18 56.31h6.8v6.8h-6.8zM153.25 146.55h6.8v6.8h-6.8zM156.32 66.58h6.8v6.8h-6.8zM159.4 138.47h6.8v6.8h-6.8zM162.47 48.92h6.8v6.8h-6.8zM165.54 66.58h6.8v6.8h-6.8zM168.61 56.31h6.8v6.8h-6.8zM171.69 76.85h6.8v6.8h-6.8zM174.76 139.97h6.8v6.8h-6.8zM177.83 133.28h6.8v6.8h-6.8zM180.91 146.55h6.8v6.8h-6.8zM183.98 54.11h6.8v6.8h-6.8zM187.05 132.59h6.8v6.8h-6.8zM190.13 90.7h6.8v6.8h-6.8zM193.2 98.89h6.8v6.8h-6.8zM196.27 98.89h6.8v6.8h-6.8zM199.34 81.93h6.8v6.8h-6.8zM202.42 31.27h6.8v6.8h-6.8zM205.49 67.27h6.8v6.8h-6.8zM208.56 90.7h6.8v6.8h-6.8zM211.64 59.88h6.8v6.8h-6.8zM214.71 145.74h6.8v6.8h-6.8zM217.78 145.74h6.8v6.8h-6.8zM220.86 87.81h6.8v6.8h-6.8zM223.93 39.69h6.8v6.8h-6.8zM227 136.97h6.8v6.8h-6.8zM230.07 65.77h6.8v6.8h-6.8zM233.15 84.93h6.8v6.8h-6.8zM236.22 30.57h6.8v6.8h-6.8zM239.29 30.57h6.8v6.8h-6.8zM242.37 83.08h6.8v6.8h-6.8zM245.44 30.57h6.8v6.8h-6.8zM248.51 133.28h6.8v6.8h-6.8zM251.59 49.38h6.8v6.8h-6.8zM254.66 142.86h6.8v6.8h-6.8zM257.73 91.5h6.8v6.8h-6.8zM260.81 66.58h6.8v6.8h-6.8zM263.88 98.89h6.8v6.8h-6.8zM266.95 66.58h6.8v6.8h-6.8zM270.02 49.38h6.8v6.8h-6.8zM273.1 145.74h6.8v6.8h-6.8zM276.17 81.23h6.8v6.8h-6.8zM279.24 145.74h6.8v6.8h-6.8zM282.32 138.47h6.8v6.8h-6.8zM285.39 160.4h6.8v6.8h-6.8zM288.46 48.92h6.8v6.8h-6.8zM291.54 66.58h6.8v6.8h-6.8zM294.61 66.58h6.8v6.8h-6.8zM297.68 30.57h6.8v6.8h-6.8zM300.75 68.77h6.8v6.8h-6.8zM303.83 84.12h6.8v6.8h-6.8zM306.9 30.57h6.8v6.8h-6.8zM309.97 57.69h6.8v6.8h-6.8zM313.05 54.11h6.8v6.8h-6.8zM316.12 48.92h6.8v6.8h-6.8zM319.19 160.86h6.8v6.8h-6.8zM322.27 98.89h6.8v6.8h-6.8zM325.34 87.12h6.8v6.8h-6.8zM328.41 48.92h6.8v6.8h-6.8zM331.48 150.94h6.8v6.8h-6.8zM334.56 145.74h6.8v6.8h-6.8zM337.63 133.28h6.8v6.8h-6.8zM340.7 133.28h6.8v6.8h-6.8zM343.78 89.31h6.8v6.8h-6.8zM346.85 76.85h6.8v6.8h-6.8zM349.92 45.23h6.8v6.8h-6.8zM353 151.63h6.8v6.8h-6.8zM356.07 145.74h6.8v6.8h-6.8zM359.14 87.81h6.8v6.8h-6.8zM362.21 93h6.8v6.8h-6.8zM365.29 54.11h6.8v6.8h-6.8zM368.36 98.89h6.8v6.8h-6.8zM371.43 127.39h6.8v6.8h-6.8zM374.51 98.89h6.8v6.8h-6.8zM377.58 85.62h6.8v6.8h-6.8zM380.65 133.28h6.8v6.8h-6.8zM383.73 45.23h6.8v6.8h-6.8zM386.8 31.03h6.8v6.8h-6.8zM389.87 55.5h6.8v6.8h-6.8zM392.94 54.11h6.8v6.8h-6.8zM396.02 93h6.8v6.8h-6.8zM399.09 145.74h6.8v6.8h-6.8zM402.16 54.11h6.8v6.8h-6.8zM405.24 31.03h6.8v6.8h-6.8zM408.31 40.15h6.8v6.8h-6.8zM411.38 31.03h6.8v6.8h-6.8zM414.46 57.69h6.8v6.8h-6.8zM417.53 48.92h6.8v6.8h-6.8zM420.6 76.85h6.8v6.8h-6.8zM423.67 31.03h6.8v6.8h-6.8zM426.75 66.58h6.8v6.8h-6.8zM429.82 107.66h6.8v6.8h-6.8zM432.89 138.47h6.8v6.8h-6.8zM435.97 148.74h6.8v6.8h-6.8zM439.04 65.77h6.8v6.8h-6.8zM442.11 150.94h6.8v6.8h-6.8zM445.19 48.92h6.8v6.8h-6.8zM448.26 138.47h6.8v6.8h-6.8zM451.33 81.23h6.8v6.8h-6.8zM454.4 31.03h6.8v6.8h-6.8zM457.48 66.58h6.8v6.8h-6.8zM460.55 57.69h6.8v6.8h-6.8zM463.62 102.47h6.8v6.8h-6.8zM466.7 54.11h6.8v6.8h-6.8zM469.77 90.47h6.8v6.8h-6.8zM472.84 98.89h6.8v6.8h-6.8zM475.92 133.28h6.8v6.8h-6.8zM478.99 31.03h6.8v6.8h-6.8zM482.06 79.73h6.8v6.8h-6.8zM485.13 99.24h6.8v6.8h-6.8zM488.21 136.97h6.8v6.8h-6.8zM491.28 48.92h6.8v6.8h-6.8zM494.35 80.43h6.8v6.8h-6.8zM497.43 56.31h6.8v6.8h-6.8zM500.5 48.92h6.8v6.8h-6.8zM503.57 138.47h6.8v6.8h-6.8zM506.65 145.74h6.8v6.8h-6.8zM509.72 66.58h6.8v6.8h-6.8zM512.79 66.58h6.8v6.8h-6.8zM515.86 48.92h6.8v6.8h-6.8zM518.94 45.23h6.8v6.8h-6.8zM522.01 48.92h6.8v6.8h-6.8zM525.08 45.23h6.8v6.8h-6.8zM528.16 145.74h6.8v6.8h-6.8zM531.23 31.03h6.8v6.8h-6.8zM534.3 48.92h6.8v6.8h-6.8zM537.38 55.5h6.8v6.8h-6.8zM540.45 54.11h6.8v6.8h-6.8zM543.52 138.47h6.8v6.8h-6.8zM546.59 145.74h6.8v6.8h-6.8zM549.67 66.58h6.8v6.8h-6.8zM552.74 40.15h6.8v6.8h-6.8zM555.81 48.92h6.8v6.8h-6.8zM558.89 87.81h6.8v6.8h-6.8zM561.96 138.47h6.8v6.8h-6.8zM565.03 133.28h6.8v6.8h-6.8zM568.11 57h6.8v6.8h-6.8zM571.18 146.32h6.8v6.8h-6.8zM574.25 84.58h6.8v6.8h-6.8zM577.32 146.32h6.8v6.8h-6.8zM580.4 31.03h6.8v6.8h-6.8zM583.47 146.32h6.8v6.8h-6.8zM586.54 54.58h6.8v6.8h-6.8zM589.62 139.4h6.8v6.8h-6.8zM592.69 43.73h6.8v6.8h-6.8zM595.76 133.16h6.8v6.8h-6.8zM598.84 138.82h6.8v6.8h-6.8zM601.91 146.32h6.8v6.8h-6.8zM604.98 57.69h6.8v6.8h-6.8zM608.05 145.63h6.8v6.8h-6.8zM611.13 45.23h6.8v6.8h-6.8zM614.2 138.82h6.8v6.8h-6.8z" fill="#000"/>
<path d="M6.07 179.4V40.9M9.15 179.4V151.1M12.22 179.4V72.98M15.29 179.4V45.74M18.37 179.4V43.44M21.44 179.4V159.18M24.51 179.4V148.22M27.58 179.4V43.44M30.66 179.4V109.91M33.73 179.4V141.18M36.8 179.4V62.36M39.88 179.4V139.45M42.95 179.4V164.95M46.02 179.4V69.63M49.09 179.4V48.98M52.17 179.4V35.47M55.24 179.4V69.05M58.31 179.4V36.97M61.39 179.4V144.53M64.46 179.4V98.6M67.53 179.4V43.44M70.61 179.4V70.55M73.68 179.4V63.28M76.75 179.4V147.07M79.83 179.4V43.44M82.9 179.4V143.14M85.97 179.4V145.33M89.04 179.4V52.55M92.12 179.4V67.67M95.19 179.4V147.07M98.26 179.4V62.36M101.34 179.4V146.49M104.41 179.4V99.98M107.48 179.4V135.76M110.55 179.4V39.05M113.63 179.4V148.22M116.7 179.4V105.64M119.77 179.4V57.4M122.85 179.4V66.75M125.92 179.4V61.78M128.99 179.4V49.67M132.07 179.4V77.36M135.14 179.4V45.74M138.21 179.4V65.02M141.28 179.4V83.25M144.36 179.4V47.13M147.43 179.4V142.68M150.5 179.4V46.78M153.58 179.4V57.75M156.65 179.4V143.14M159.72 179.4V67.67M162.8 179.4V141.64M165.87 179.4V45.74M168.94 179.4V67.67M172.01 179.4V48.63M175.09 179.4V67.67M178.16 179.4V138.76M181.23 179.4V141.64M184.31 179.4V147.07M187.38 179.4V69.63M190.45 179.4V139.79M193.53 179.4V96.87M196.6 179.4V107.37M199.67 179.4V91.56M202.75 179.4V72.06M205.82 179.4V41.36M208.89 179.4V67.67M211.96 179.4V84.75M215.04 179.4V63.28M218.11 179.4V145.33M221.18 179.4V151.1M224.26 179.4V90.52M227.33 179.4V49.67M230.4 179.4V143.14M233.47 179.4V69.05M236.55 179.4V85.44M239.62 179.4V36.97M242.69 179.4V34.09M245.77 179.4V85.67M248.84 179.4V42.4M251.91 179.4V140.95M254.99 179.4V39.4M258.06 179.4V145.33M261.13 179.4V103.21M264.2 179.4V67.21M267.28 179.4V98.6M270.35 179.4V62.82M273.42 179.4V36.97M276.5 179.4V149.95M279.57 179.4V85.1M282.64 179.4V147.07M285.72 179.4V142.33M288.79 179.4V163.57M291.86 179.4V37.55M294.94 179.4V67.67M298.01 179.4V65.02M301.08 179.4V32.59M304.15 179.4V60.86M307.23 179.4V86.6M310.3 179.4V36.97M313.37 179.4V61.32M316.45 179.4V67.21M319.52 179.4V62.36M322.59 179.4V164.26M325.67 179.4V100.79M328.74 179.4V94.9M331.81 179.4V62.36M334.88 179.4V154.8M337.96 179.4V146.49M341.03 179.4V141.64M344.1 179.4V135.76M347.18 179.4V99.75M350.25 179.4V67.67M353.32 179.4V66.75M356.39 179.4V146.72M359.47 179.4V148.22M362.54 179.4V85.44M365.61 179.4V99.29M368.69 179.4V67.67M371.76 179.4V94.9M374.83 179.4V137.95M377.91 179.4V94.44M380.98 179.4V85.44M384.05 179.4V146.49M387.12 179.4V47.82M390.2 179.4V34.09M393.27 179.4V62.82M396.34 179.4V67.67M399.42 179.4V89.13M402.49 179.4V153.76M405.56 179.4V59.48M408.64 179.4V37.2M411.71 179.4V48.63M414.78 179.4V39.86M417.86 179.4V59.94M420.93 179.4V52.09M424 179.4V67.67M427.07 179.4V34.09M430.15 179.4V67.67M433.22 179.4V109.91" stroke="#cbcbcb" stroke-width="1.1" fill="none"/>
<path d="M436.29 179.4V146.03M439.37 179.4V144.99M442.44 179.4V70.09M445.51 179.4V146.72M448.58 179.4V43.78M451.66 179.4V141.64M454.73 179.4V85.44M457.8 179.4V37.55M460.88 179.4V72.98M463.95 179.4V67.67M467.02 179.4V106.56M470.1 179.4V65.25M473.17 179.4V98.83M476.24 179.4V100.79M479.31 179.4V137.26M482.39 179.4V40.2M485.46 179.4V70.79M488.53 179.4V105.64M491.61 179.4V140.95M494.68 179.4V43.78M497.75 179.4V80.36M500.83 179.4V60.63M503.9 179.4V53.01M506.97 179.4V140.95M510.05 179.4V141.64M513.12 179.4V67.21M516.19 179.4V82.79M519.26 179.4V51.51M522.34 179.4V48.17M525.41 179.4V53.01" stroke="#86b2de" stroke-width="1.2" fill="none"/>
<path d="M528.48 179.4V49.21M531.56 179.4V143.83M534.63 179.4V40.9M537.7 179.4V59.48M540.77 179.4V61.32M543.85 179.4V51.98M546.92 179.4V141.99M549.99 179.4V146.72M553.07 179.4V67.79M556.14 179.4V48.63M559.21 179.4V55.78M562.29 179.4V91.33M565.36 179.4V146.37M568.43 179.4V138.87M571.5 179.4V63.17M574.58 179.4V148.22M577.65 179.4V82.21M580.72 179.4V150.41M583.8 179.4V45.4M586.87 179.4V146.37M589.94 179.4V64.09M593.02 179.4V146.37M596.09 179.4V47.47M599.16 179.4V145.68M602.24 179.4V141.99M605.31 179.4V143.83M608.38 179.4V71.48M611.45 179.4V146.37M614.53 179.4V48.28M617.6 179.4V143.26" stroke="#e2e35a" stroke-width="1.2" fill="none"/>
<circle cx="6.07" cy="40.9" r="3.6" fill="url(#gMLCStr)"/>
<circle cx="9.15" cy="151.1" r="3.6" fill="url(#gMLCStr)"/>
<circle cx="12.22" cy="72.98" r="3.6" fill="url(#gMLCStr)"/>
<circle cx="15.29" cy="45.74" r="3.6" fill="url(#gMLCStr)"/>
<circle cx="18.37" cy="43.44" r="3.6" fill="url(#gMLCStr)"/>
<circle cx="21.44" cy="159.18" r="3.6" fill="url(#gMLCStr)"/>
<circle cx="24.51" cy="148.22" r="3.6" fill="url(#gMLCStr)"/>
<circle cx="27.58" cy="43.44" r="3.6" fill="url(#gMLCStr)"/>
<circle cx="30.66" cy="109.91" r="3.6" fill="url(#gMLCStr)"/>
<circle cx="33.73" cy="141.18" r="3.6" fill="url(#gMLCStr)"/>
<circle cx="36.8" cy="62.36" r="3.6" fill="url(#gMLCStr)"/>
<circle cx="39.88" cy="139.45" r="3.6" fill="url(#gMLCStr)"/>
<circle cx="42.95" cy="164.95" r="3.6" fill="url(#gMLCStr)"/>
<circle cx="46.02" cy="69.63" r="3.6" fill="url(#gMLCStr)"/>
<circle cx="49.09" cy="48.98" r="3.6" fill="url(#gMLCStr)"/>
<circle cx="52.17" cy="35.47" r="3.6" fill="url(#gMLCStr)"/>
<circle cx="55.24" cy="69.05" r="3.6" fill="url(#gMLCStr)"/>
<circle cx="58.31" cy="36.97" r="3.6" fill="url(#gMLCStr)"/>
<circle cx="61.39" cy="144.53" r="3.6" fill="url(#gMLCStr)"/>
<circle cx="64.46" cy="98.6" r="3.6" fill="url(#gMLCStr)"/>
<circle cx="67.53" cy="43.44" r="3.6" fill="url(#gMLCStr)"/>
<circle cx="70.61" cy="70.55" r="3.6" fill="url(#gMLCStr)"/>
<circle cx="73.68" cy="63.28" r="3.6" fill="url(#gMLCStr)"/>
<circle cx="76.75" cy="147.07" r="3.6" fill="url(#gMLCStr)"/>
<circle cx="79.83" cy="43.44" r="3.6" fill="url(#gMLCStr)"/>
<circle cx="82.9" cy="143.14" r="3.6" fill="url(#gMLCStr)"/>
<circle cx="85.97" cy="145.33" r="3.6" fill="url(#gMLCStr)"/>
<circle cx="89.04" cy="52.55" r="3.6" fill="url(#gMLCStr)"/>
<circle cx="92.12" cy="67.67" r="3.6" fill="url(#gMLCStr)"/>
<circle cx="95.19" cy="147.07" r="3.6" fill="url(#gMLCStr)"/>
<circle cx="98.26" cy="62.36" r="3.6" fill="url(#gMLCStr)"/>
<circle cx="101.34" cy="146.49" r="3.6" fill="url(#gMLCStr)"/>
<circle cx="104.41" cy="99.98" r="3.6" fill="url(#gMLCStr)"/>
<circle cx="107.48" cy="135.76" r="3.6" fill="url(#gMLCStr)"/>
<circle cx="110.55" cy="39.05" r="3.6" fill="url(#gMLCStr)"/>
<circle cx="113.63" cy="148.22" r="3.6" fill="url(#gMLCStr)"/>
<circle cx="116.7" cy="105.64" r="3.6" fill="url(#gMLCStr)"/>
<circle cx="119.77" cy="57.4" r="3.6" fill="url(#gMLCStr)"/>
<circle cx="122.85" cy="66.75" r="3.6" fill="url(#gMLCStr)"/>
<circle cx="125.92" cy="61.78" r="3.6" fill="url(#gMLCStr)"/>
<circle cx="128.99" cy="49.67" r="3.6" fill="url(#gMLCStr)"/>
<circle cx="132.07" cy="77.36" r="3.6" fill="url(#gMLCStr)"/>
<circle cx="135.14" cy="45.74" r="3.6" fill="url(#gMLCStr)"/>
<circle cx="138.21" cy="65.02" r="3.6" fill="url(#gMLCStr)"/>
<circle cx="141.28" cy="83.25" r="3.6" fill="url(#gMLCStr)"/>
<circle cx="144.36" cy="47.13" r="3.6" fill="url(#gMLCStr)"/>
<circle cx="147.43" cy="142.68" r="3.6" fill="url(#gMLCStr)"/>
<circle cx="150.5" cy="46.78" r="3.6" fill="url(#gMLCStr)"/>
<circle cx="153.58" cy="57.75" r="3.6" fill="url(#gMLCStr)"/>
<circle cx="156.65" cy="143.14" r="3.6" fill="url(#gMLCStr)"/>
<circle cx="159.72" cy="67.67" r="3.6" fill="url(#gMLCStr)"/>
<circle cx="162.8" cy="141.64" r="3.6" fill="url(#gMLCStr)"/>
<circle cx="165.87" cy="45.74" r="3.6" fill="url(#gMLCStr)"/>
<circle cx="168.94" cy="67.67" r="3.6" fill="url(#gMLCStr)"/>
<circle cx="172.01" cy="48.63" r="3.6" fill="url(#gMLCStr)"/>
<circle cx="175.09" cy="67.67" r="3.6" fill="url(#gMLCStr)"/>
<circle cx="178.16" cy="138.76" r="3.6" fill="url(#gMLCStr)"/>
<circle cx="181.23" cy="141.64" r="3.6" fill="url(#gMLCStr)"/>
<circle cx="184.31" cy="147.07" r="3.6" fill="url(#gMLCStr)"/>
<circle cx="187.38" cy="69.63" r="3.6" fill="url(#gMLCStr)"/>
<circle cx="190.45" cy="139.79" r="3.6" fill="url(#gMLCStr)"/>
<circle cx="193.53" cy="96.87" r="3.6" fill="url(#gMLCStr)"/>
<circle cx="196.6" cy="107.37" r="3.6" fill="url(#gMLCStr)"/>
<circle cx="199.67" cy="91.56" r="3.6" fill="url(#gMLCStr)"/>
<circle cx="202.75" cy="72.06" r="3.6" fill="url(#gMLCStr)"/>
<circle cx="205.82" cy="41.36" r="3.6" fill="url(#gMLCStr)"/>
<circle cx="208.89" cy="67.67" r="3.6" fill="url(#gMLCStr)"/>
<circle cx="211.96" cy="84.75" r="3.6" fill="url(#gMLCStr)"/>
<circle cx="215.04" cy="63.28" r="3.6" fill="url(#gMLCStr)"/>
<circle cx="218.11" cy="145.33" r="3.6" fill="url(#gMLCStr)"/>
<circle cx="221.18" cy="151.1" r="3.6" fill="url(#gMLCStr)"/>
<circle cx="224.26" cy="90.52" r="3.6" fill="url(#gMLCStr)"/>
<circle cx="227.33" cy="49.67" r="3.6" fill="url(#gMLCStr)"/>
<circle cx="230.4" cy="143.14" r="3.6" fill="url(#gMLCStr)"/>
<circle cx="233.47" cy="69.05" r="3.6" fill="url(#gMLCStr)"/>
<circle cx="236.55" cy="85.44" r="3.6" fill="url(#gMLCStr)"/>
<circle cx="239.62" cy="36.97" r="3.6" fill="url(#gMLCStr)"/>
<circle cx="242.69" cy="34.09" r="3.6" fill="url(#gMLCStr)"/>
<circle cx="245.77" cy="85.67" r="3.6" fill="url(#gMLCStr)"/>
<circle cx="248.84" cy="42.4" r="3.6" fill="url(#gMLCStr)"/>
<circle cx="251.91" cy="140.95" r="3.6" fill="url(#gMLCStr)"/>
<circle cx="254.99" cy="39.4" r="3.6" fill="url(#gMLCStr)"/>
<circle cx="258.06" cy="145.33" r="3.6" fill="url(#gMLCStr)"/>
<circle cx="261.13" cy="103.21" r="3.6" fill="url(#gMLCStr)"/>
<circle cx="264.2" cy="67.21" r="3.6" fill="url(#gMLCStr)"/>
<circle cx="267.28" cy="98.6" r="3.6" fill="url(#gMLCStr)"/>
<circle cx="270.35" cy="62.82" r="3.6" fill="url(#gMLCStr)"/>
<circle cx="273.42" cy="36.97" r="3.6" fill="url(#gMLCStr)"/>
<circle cx="276.5" cy="149.95" r="3.6" fill="url(#gMLCStr)"/>
<circle cx="279.57" cy="85.1" r="3.6" fill="url(#gMLCStr)"/>
<circle cx="282.64" cy="147.07" r="3.6" fill="url(#gMLCStr)"/>
<circle cx="285.72" cy="142.33" r="3.6" fill="url(#gMLCStr)"/>
<circle cx="288.79" cy="163.57" r="3.6" fill="url(#gMLCStr)"/>
<circle cx="291.86" cy="37.55" r="3.6" fill="url(#gMLCStr)"/>
<circle cx="294.94" cy="67.67" r="3.6" fill="url(#gMLCStr)"/>
<circle cx="298.01" cy="65.02" r="3.6" fill="url(#gMLCStr)"/>
<circle cx="301.08" cy="32.59" r="3.6" fill="url(#gMLCStr)"/>
<circle cx="304.15" cy="60.86" r="3.6" fill="url(#gMLCStr)"/>
<circle cx="307.23" cy="86.6" r="3.6" fill="url(#gMLCStr)"/>
<circle cx="310.3" cy="36.97" r="3.6" fill="url(#gMLCStr)"/>
<circle cx="313.37" cy="61.32" r="3.6" fill="url(#gMLCStr)"/>
<circle cx="316.45" cy="67.21" r="3.6" fill="url(#gMLCStr)"/>
<circle cx="319.52" cy="62.36" r="3.6" fill="url(#gMLCStr)"/>
<circle cx="322.59" cy="164.26" r="3.6" fill="url(#gMLCStr)"/>
<circle cx="325.67" cy="100.79" r="3.6" fill="url(#gMLCStr)"/>
<circle cx="328.74" cy="94.9" r="3.6" fill="url(#gMLCStr)"/>
<circle cx="331.81" cy="62.36" r="3.6" fill="url(#gMLCStr)"/>
<circle cx="334.88" cy="154.8" r="3.6" fill="url(#gMLCStr)"/>
<circle cx="337.96" cy="146.49" r="3.6" fill="url(#gMLCStr)"/>
<circle cx="341.03" cy="141.64" r="3.6" fill="url(#gMLCStr)"/>
<circle cx="344.1" cy="135.76" r="3.6" fill="url(#gMLCStr)"/>
<circle cx="347.18" cy="99.75" r="3.6" fill="url(#gMLCStr)"/>
<circle cx="350.25" cy="67.67" r="3.6" fill="url(#gMLCStr)"/>
<circle cx="353.32" cy="66.75" r="3.6" fill="url(#gMLCStr)"/>
<circle cx="356.39" cy="146.72" r="3.6" fill="url(#gMLCStr)"/>
<circle cx="359.47" cy="148.22" r="3.6" fill="url(#gMLCStr)"/>
<circle cx="362.54" cy="85.44" r="3.6" fill="url(#gMLCStr)"/>
<circle cx="365.61" cy="99.29" r="3.6" fill="url(#gMLCStr)"/>
<circle cx="368.69" cy="67.67" r="3.6" fill="url(#gMLCStr)"/>
<circle cx="371.76" cy="94.9" r="3.6" fill="url(#gMLCStr)"/>
<circle cx="374.83" cy="137.95" r="3.6" fill="url(#gMLCStr)"/>
<circle cx="377.91" cy="94.44" r="3.6" fill="url(#gMLCStr)"/>
<circle cx="380.98" cy="85.44" r="3.6" fill="url(#gMLCStr)"/>
<circle cx="384.05" cy="146.49" r="3.6" fill="url(#gMLCStr)"/>
<circle cx="387.12" cy="47.82" r="3.6" fill="url(#gMLCStr)"/>
<circle cx="390.2" cy="34.09" r="3.6" fill="url(#gMLCStr)"/>
<circle cx="393.27" cy="62.82" r="3.6" fill="url(#gMLCStr)"/>
<circle cx="396.34" cy="67.67" r="3.6" fill="url(#gMLCStr)"/>
<circle cx="399.42" cy="89.13" r="3.6" fill="url(#gMLCStr)"/>
<circle cx="402.49" cy="153.76" r="3.6" fill="url(#gMLCStr)"/>
<circle cx="405.56" cy="59.48" r="3.6" fill="url(#gMLCStr)"/>
<circle cx="408.64" cy="37.2" r="3.6" fill="url(#gMLCStr)"/>
<circle cx="411.71" cy="48.63" r="3.6" fill="url(#gMLCStr)"/>
<circle cx="414.78" cy="39.86" r="3.6" fill="url(#gMLCStr)"/>
<circle cx="417.86" cy="59.94" r="3.6" fill="url(#gMLCStr)"/>
<circle cx="420.93" cy="52.09" r="3.6" fill="url(#gMLCStr)"/>
<circle cx="424" cy="67.67" r="3.6" fill="url(#gMLCStr)"/>
<circle cx="427.07" cy="34.09" r="3.6" fill="url(#gMLCStr)"/>
<circle cx="430.15" cy="67.67" r="3.6" fill="url(#gMLCStr)"/>
<circle cx="433.22" cy="109.91" r="3.6" fill="url(#gMLCStr)"/>
<circle cx="436.29" cy="146.03" r="3.6" fill="url(#gMLCSva)"/>
<circle cx="439.37" cy="144.99" r="3.6" fill="url(#gMLCSva)"/>
<circle cx="442.44" cy="70.09" r="3.6" fill="url(#gMLCSva)"/>
<circle cx="445.51" cy="146.72" r="3.6" fill="url(#gMLCSva)"/>
<circle cx="448.58" cy="43.78" r="3.6" fill="url(#gMLCSva)"/>
<circle cx="451.66" cy="141.64" r="3.6" fill="url(#gMLCSva)"/>
<circle cx="454.73" cy="85.44" r="3.6" fill="url(#gMLCSva)"/>
<circle cx="457.8" cy="37.55" r="3.6" fill="url(#gMLCSva)"/>
<circle cx="460.88" cy="72.98" r="3.6" fill="url(#gMLCSva)"/>
<circle cx="463.95" cy="67.67" r="3.6" fill="url(#gMLCSva)"/>
<circle cx="467.02" cy="106.56" r="3.6" fill="url(#gMLCSva)"/>
<circle cx="470.1" cy="65.25" r="3.6" fill="url(#gMLCSva)"/>
<circle cx="473.17" cy="98.83" r="3.6" fill="url(#gMLCSva)"/>
<circle cx="476.24" cy="100.79" r="3.6" fill="url(#gMLCSva)"/>
<circle cx="479.31" cy="137.26" r="3.6" fill="url(#gMLCSva)"/>
<circle cx="482.39" cy="40.2" r="3.6" fill="url(#gMLCSva)"/>
<circle cx="485.46" cy="70.79" r="3.6" fill="url(#gMLCSva)"/>
<circle cx="488.53" cy="105.64" r="3.6" fill="url(#gMLCSva)"/>
<circle cx="491.61" cy="140.95" r="3.6" fill="url(#gMLCSva)"/>
<circle cx="494.68" cy="43.78" r="3.6" fill="url(#gMLCSva)"/>
<circle cx="497.75" cy="80.36" r="3.6" fill="url(#gMLCSva)"/>
<circle cx="500.83" cy="60.63" r="3.6" fill="url(#gMLCSva)"/>
<circle cx="503.9" cy="53.01" r="3.6" fill="url(#gMLCSva)"/>
<circle cx="506.97" cy="140.95" r="3.6" fill="url(#gMLCSva)"/>
<circle cx="510.05" cy="141.64" r="3.6" fill="url(#gMLCSva)"/>
<circle cx="513.12" cy="67.21" r="3.6" fill="url(#gMLCSva)"/>
<circle cx="516.19" cy="82.79" r="3.6" fill="url(#gMLCSva)"/>
<circle cx="519.26" cy="51.51" r="3.6" fill="url(#gMLCSva)"/>
<circle cx="522.34" cy="48.17" r="3.6" fill="url(#gMLCSva)"/>
<circle cx="525.41" cy="53.01" r="3.6" fill="url(#gMLCSva)"/>
<circle cx="528.48" cy="49.21" r="3.6" fill="url(#gMLCSte)"/>
<circle cx="531.56" cy="143.83" r="3.6" fill="url(#gMLCSte)"/>
<circle cx="534.63" cy="40.9" r="3.6" fill="url(#gMLCSte)"/>
<circle cx="537.7" cy="59.48" r="3.6" fill="url(#gMLCSte)"/>
<circle cx="540.77" cy="61.32" r="3.6" fill="url(#gMLCSte)"/>
<circle cx="543.85" cy="51.98" r="3.6" fill="url(#gMLCSte)"/>
<circle cx="546.92" cy="141.99" r="3.6" fill="url(#gMLCSte)"/>
<circle cx="549.99" cy="146.72" r="3.6" fill="url(#gMLCSte)"/>
<circle cx="553.07" cy="67.79" r="3.6" fill="url(#gMLCSte)"/>
<circle cx="556.14" cy="48.63" r="3.6" fill="url(#gMLCSte)"/>
<circle cx="559.21" cy="55.78" r="3.6" fill="url(#gMLCSte)"/>
<circle cx="562.29" cy="91.33" r="3.6" fill="url(#gMLCSte)"/>
<circle cx="565.36" cy="146.37" r="3.6" fill="url(#gMLCSte)"/>
<circle cx="568.43" cy="138.87" r="3.6" fill="url(#gMLCSte)"/>
<circle cx="571.5" cy="63.17" r="3.6" fill="url(#gMLCSte)"/>
<circle cx="574.58" cy="148.22" r="3.6" fill="url(#gMLCSte)"/>
<circle cx="577.65" cy="82.21" r="3.6" fill="url(#gMLCSte)"/>
<circle cx="580.72" cy="150.41" r="3.6" fill="url(#gMLCSte)"/>
<circle cx="583.8" cy="45.4" r="3.6" fill="url(#gMLCSte)"/>
<circle cx="586.87" cy="146.37" r="3.6" fill="url(#gMLCSte)"/>
<circle cx="589.94" cy="64.09" r="3.6" fill="url(#gMLCSte)"/>
<circle cx="593.02" cy="146.37" r="3.6" fill="url(#gMLCSte)"/>
<circle cx="596.09" cy="47.47" r="3.6" fill="url(#gMLCSte)"/>
<circle cx="599.16" cy="145.68" r="3.6" fill="url(#gMLCSte)"/>
<circle cx="602.24" cy="141.99" r="3.6" fill="url(#gMLCSte)"/>
<circle cx="605.31" cy="143.83" r="3.6" fill="url(#gMLCSte)"/>
<circle cx="608.38" cy="71.48" r="3.6" fill="url(#gMLCSte)"/>
<circle cx="611.45" cy="146.37" r="3.6" fill="url(#gMLCSte)"/>
<circle cx="614.53" cy="48.28" r="3.6" fill="url(#gMLCSte)"/>
<circle cx="617.6" cy="143.26" r="3.6" fill="url(#gMLCSte)"/>
<path d="M-7.0 5.7H0M-3.8 23.01H0M-7.0 40.32H0M-3.8 57.63H0M-7.0 74.94H0M-3.8 92.25H0M-7.0 109.56H0M-3.8 126.87H0M-7.0 144.18H0M-3.8 161.49H0M-7.0 178.8H0M3 178.8v7.0M49.09 178.8v3.8M95.19 178.8v7.0M141.28 178.8v3.8M187.38 178.8v7.0M233.47 178.8v3.8M279.57 178.8v7.0M325.67 178.8v3.8M371.76 178.8v7.0M417.86 178.8v3.8M463.95 178.8v7.0M510.05 178.8v3.8M556.14 178.8v7.0M602.24 178.8v3.8" stroke="#000" stroke-width="1.1" fill="none"/>
<rect x="8.0" y="8.3" width="194.8" height="12.3" fill="#d9d9d9"/>
<rect x="5.0" y="5.3" width="194.8" height="12.3" fill="#fff" stroke="#a6a6a6" stroke-width="0.8"/>
<rect x="13.6" y="8.15" width="6.6" height="6.6" fill="#000"/>
<text x="26.6" y="15.15" font-size="8.7">Measured</text>
<circle cx="71.5" cy="11.45" r="3.7" fill="url(#gMLCStr)"/>
<text x="81.6" y="15.15" font-size="8.7">Train</text>
<circle cx="111.0" cy="11.45" r="3.7" fill="url(#gMLCSva)"/>
<text x="123.6" y="15.15" font-size="8.7">Validation</text>
<circle cx="169.7" cy="11.45" r="3.7" fill="url(#gMLCSte)"/>
<text x="182.6" y="15.15" font-size="8.7">Test</text>
<rect x="210.8" y="8.3" width="39.7" height="13.0" fill="#d9d9d9"/>
<rect x="207.8" y="5.3" width="39.7" height="13.0" fill="#fff" stroke="#a6a6a6" stroke-width="0.8"/>
<text x="227.65" y="15.25" text-anchor="middle" font-size="9.1">MLCS (3)</text>
</g>
<g transform="translate(60.4,1403.7) scale(1.00000,1)">
<text transform="translate(-11.9,10.1) scale(1,1.0000)" text-anchor="end" font-size="14.2">1800</text>
<text transform="translate(-11.9,44.72) scale(1,1.0000)" text-anchor="end" font-size="14.2">1500</text>
<text transform="translate(-11.9,79.34) scale(1,1.0000)" text-anchor="end" font-size="14.2">1200</text>
<text transform="translate(-11.9,113.96) scale(1,1.0000)" text-anchor="end" font-size="14.2">900</text>
<text transform="translate(-11.9,148.58) scale(1,1.0000)" text-anchor="end" font-size="14.2">600</text>
<text transform="translate(-11.9,183.2) scale(1,1.0000)" text-anchor="end" font-size="14.2">300</text>
<text transform="translate(3,201.8) scale(1,1.0000)" text-anchor="middle" font-size="14.2">0</text>
<text transform="translate(95.19,201.8) scale(1,1.0000)" text-anchor="middle" font-size="14.2">30</text>
<text transform="translate(187.38,201.8) scale(1,1.0000)" text-anchor="middle" font-size="14.2">60</text>
<text transform="translate(279.57,201.8) scale(1,1.0000)" text-anchor="middle" font-size="14.2">90</text>
<text transform="translate(371.76,201.8) scale(1,1.0000)" text-anchor="middle" font-size="14.2">120</text>
<text transform="translate(463.95,201.8) scale(1,1.0000)" text-anchor="middle" font-size="14.2">150</text>
<text transform="translate(556.14,201.8) scale(1,1.0000)" text-anchor="middle" font-size="14.2">180</text>
<text transform="translate(311.7,217.4) scale(1,1.0000)" text-anchor="middle" font-size="16">Sample Number</text>
<text transform="translate(-47.9,89.4) scale(1,1.0000) rotate(-90)" text-anchor="middle" font-size="16.6">P<tspan font-size="11.4" dy="3.6">u</tspan><tspan dy="-3.6"> (kN)</tspan></text>
</g>
</svg>
</body></html>
